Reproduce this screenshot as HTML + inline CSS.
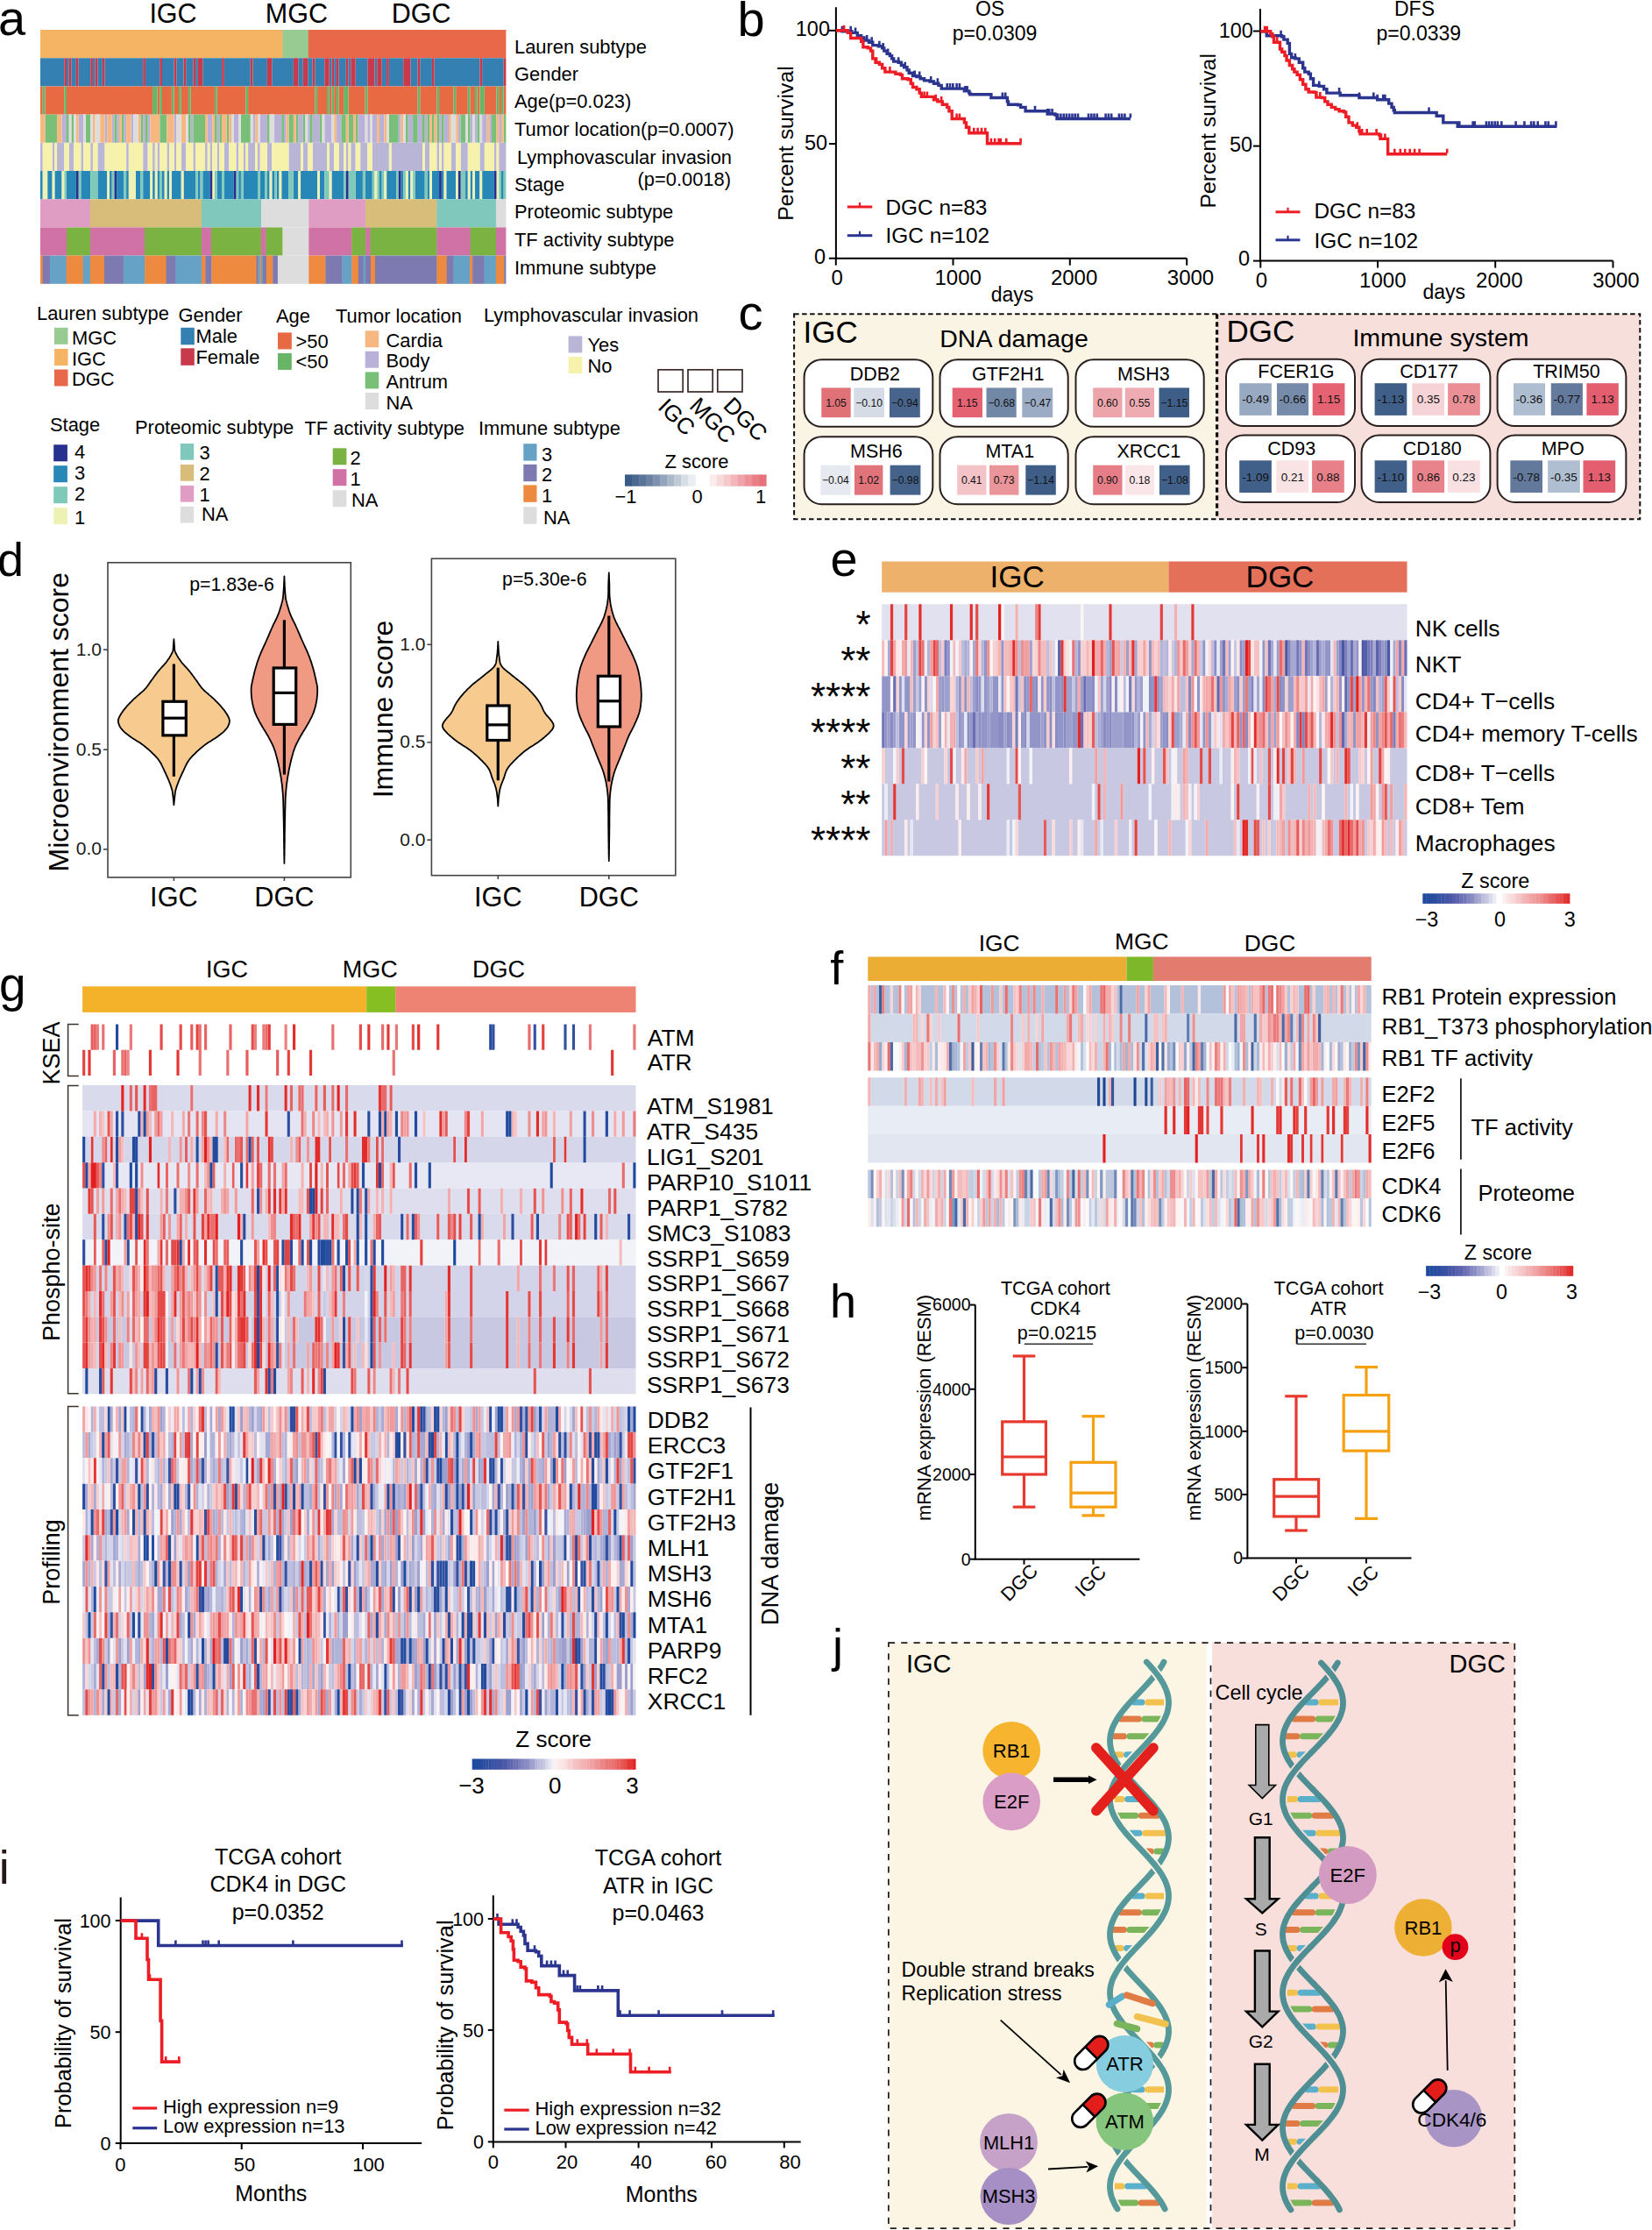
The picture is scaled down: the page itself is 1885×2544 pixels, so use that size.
<!DOCTYPE html>
<html><head><meta charset="utf-8"><title>Figure</title>
<style>
html,body{margin:0;padding:0;background:#fff;}
svg{display:block;}
text{font-family:"Liberation Sans", Arial, Helvetica, sans-serif;}
</style></head>
<body>
<svg xmlns="http://www.w3.org/2000/svg" width="1885" height="2544" viewBox="0 0 1885 2544">
<rect width="1885" height="2544" fill="#fff"/>
<text x="-2" y="39.5" font-size="56">a</text>
<text x="197.5" y="25.8" font-size="30.5" text-anchor="middle">IGC</text>
<text x="338.4" y="25.8" font-size="30.5" text-anchor="middle">MGC</text>
<text x="480.6" y="25.8" font-size="30.5" text-anchor="middle">DGC</text>
<rect x="46" y="34" width="276.9" height="32.2" fill="#f4b463"/>
<rect x="322.5" y="34" width="29.7" height="32.2" fill="#98cb91"/>
<rect x="351.8" y="34" width="225.6" height="32.2" fill="#e9684a"/>
<g transform="translate(46 66.2) scale(2.7251 32.2000)">
<path fill="#2787b6" d="M0 4h1v1h-1zM3 4h2v1h-2zM6 4h3v1h-3zM11 4h4v1h-4zM17 4h4v1h-4zM24 4h4v1h-4zM29 4h1v1h-1zM32 4h3v1h-3zM36 4h1v1h-1zM40 4h2v1h-2zM43 4h3v1h-3zM47 4h1v1h-1zM49 4h1v1h-1zM51 4h1v1h-1zM53 4h1v1h-1zM55 4h4v1h-4zM60 4h5v1h-5zM66 4h1v1h-1zM68 4h3v1h-3zM74 4h2v1h-2zM77 4h4v1h-4zM83 4h1v1h-1zM85 4h6v1h-6zM92 4h2v1h-2zM95 4h1v1h-1zM97 4h1v1h-1zM99 4h1v1h-1zM101 4h3v1h-3zM106 4h2v1h-2zM109 4h7v1h-7zM117 4h2v1h-2zM122 4h5v1h-5zM132 4h3v1h-3zM136 4h3v1h-3zM142 4h1v1h-1zM145 4h4v1h-4zM151 4h1v1h-1zM154 4h1v1h-1zM157 4h4v1h-4zM162 4h1v1h-1zM164 4h3v1h-3zM168 4h1v1h-1zM170 4h4v1h-4zM178 4h1v1h-1zM180 4h1v1h-1zM182 4h2v1h-2zM185 4h5v1h-5zM193 4h1v1h-1z"/>
<path fill="#b8b5d7" d="M0 3h1v1h-1zM5 3h1v1h-1zM7 3h3v1h-3zM12 3h2v1h-2zM17 3h1v1h-1zM21 3h1v1h-1zM24 3h3v1h-3zM36 3h1v1h-1zM43 3h2v1h-2zM47 3h1v1h-1zM49 3h1v1h-1zM53 3h1v1h-1zM56 3h1v1h-1zM59 3h2v1h-2zM64 3h1v1h-1zM69 3h1v1h-1zM71 3h1v1h-1zM74 3h1v1h-1zM77 3h2v1h-2zM82 3h1v1h-1zM85 3h1v1h-1zM87 3h3v1h-3zM91 3h1v1h-1zM95 3h2v1h-2zM104 3h5v1h-5zM110 3h2v1h-2zM114 3h6v1h-6zM121 3h2v1h-2zM125 3h2v1h-2zM128 3h1v1h-1zM130 3h2v1h-2zM134 3h3v1h-3zM139 3h7v1h-7zM147 3h13v1h-13zM161 3h2v1h-2zM166 3h1v1h-1zM168 3h1v1h-1zM172 3h2v1h-2zM176 3h3v1h-3zM184 3h2v1h-2zM190 3h1v1h-1zM192 3h3v1h-3z"/>
<path fill="#f6f2ac" d="M1 3h4v1h-4zM6 3h1v1h-1zM10 3h2v1h-2zM14 3h3v1h-3zM18 3h3v1h-3zM22 3h2v1h-2zM27 3h9v1h-9zM37 3h6v1h-6zM45 3h2v1h-2zM48 3h1v1h-1zM50 3h3v1h-3zM54 3h2v1h-2zM57 3h2v1h-2zM61 3h3v1h-3zM65 3h4v1h-4zM70 3h1v1h-1zM72 3h2v1h-2zM75 3h2v1h-2zM79 3h3v1h-3zM83 3h2v1h-2zM86 3h1v1h-1zM90 3h1v1h-1zM92 3h3v1h-3zM97 3h7v1h-7zM109 3h1v1h-1zM112 3h2v1h-2zM120 3h1v1h-1zM123 3h2v1h-2zM127 3h1v1h-1zM129 3h1v1h-1zM132 3h2v1h-2zM137 3h2v1h-2zM146 3h1v1h-1zM160 3h1v1h-1zM163 3h3v1h-3zM167 3h1v1h-1zM169 3h3v1h-3zM174 3h2v1h-2zM179 3h5v1h-5zM186 3h4v1h-4zM191 3h1v1h-1z"/>
<path fill="#b9b1d7" d="M9 2h2v1h-2zM16 2h2v1h-2zM27 2h1v1h-1zM30 2h1v1h-1zM32 2h1v1h-1zM35 2h1v1h-1zM38 2h1v1h-1zM43 2h1v1h-1zM45 2h1v1h-1zM56 2h1v1h-1zM63 2h1v1h-1zM70 2h2v1h-2zM74 2h1v1h-1zM81 2h2v1h-2zM89 2h1v1h-1zM92 2h3v1h-3zM98 2h3v1h-3zM102 2h1v1h-1zM108 2h2v1h-2zM112 2h1v1h-1zM114 2h3v1h-3zM119 2h3v1h-3zM124 2h2v1h-2zM133 2h3v1h-3zM137 2h1v1h-1zM139 2h2v1h-2zM142 2h2v1h-2zM150 2h1v1h-1zM154 2h2v1h-2zM158 2h2v1h-2zM161 2h1v1h-1zM167 2h1v1h-1zM169 2h2v1h-2zM175 2h1v1h-1zM180 2h1v1h-1zM182 2h1v1h-1zM185 2h2v1h-2zM188 2h1v1h-1zM192 2h1v1h-1z"/>
<path fill="#78bf78" d="M2 2h5v1h-5zM11 2h1v1h-1zM13 2h1v1h-1zM19 2h2v1h-2zM31 2h1v1h-1zM34 2h1v1h-1zM42 2h1v1h-1zM44 2h1v1h-1zM50 2h3v1h-3zM62 2h1v1h-1zM64 2h5v1h-5zM73 2h1v1h-1zM75 2h1v1h-1zM78 2h1v1h-1zM84 2h4v1h-4zM95 2h1v1h-1zM101 2h1v1h-1zM104 2h2v1h-2zM107 2h1v1h-1zM110 2h1v1h-1zM113 2h1v1h-1zM117 2h1v1h-1zM126 2h2v1h-2zM129 2h2v1h-2zM132 2h1v1h-1zM146 2h4v1h-4zM153 2h1v1h-1zM156 2h2v1h-2zM160 2h1v1h-1zM162 2h1v1h-1zM164 2h1v1h-1zM166 2h1v1h-1zM168 2h1v1h-1zM176 2h2v1h-2zM179 2h1v1h-1zM183 2h1v1h-1zM189 2h2v1h-2zM194 2h1v1h-1z"/>
<path fill="#f6b880" d="M0 2h2v1h-2zM7 2h2v1h-2zM15 2h1v1h-1zM22 2h1v1h-1zM25 2h2v1h-2zM28 2h2v1h-2zM33 2h1v1h-1zM36 2h2v1h-2zM41 2h1v1h-1zM46 2h4v1h-4zM53 2h3v1h-3zM59 2h2v1h-2zM69 2h1v1h-1zM72 2h1v1h-1zM76 2h2v1h-2zM79 2h1v1h-1zM90 2h1v1h-1zM103 2h1v1h-1zM106 2h1v1h-1zM123 2h1v1h-1zM128 2h1v1h-1zM131 2h1v1h-1zM141 2h1v1h-1zM144 2h1v1h-1zM151 2h1v1h-1zM163 2h1v1h-1zM165 2h1v1h-1zM171 2h1v1h-1zM174 2h1v1h-1zM187 2h1v1h-1zM191 2h1v1h-1zM193 2h1v1h-1z"/>
<path fill="#3480b3" d="M0 0h10v1h-10zM11 0h1v1h-1zM13 0h2v1h-2zM16 0h5v1h-5zM22 0h1v1h-1zM24 0h2v1h-2zM27 0h16v1h-16zM44 0h6v1h-6zM51 0h5v1h-5zM57 0h3v1h-3zM61 0h3v1h-3zM65 0h1v1h-1zM68 0h8v1h-8zM77 0h11v1h-11zM89 0h6v1h-6zM97 0h9v1h-9zM108 0h2v1h-2zM112 0h2v1h-2zM115 0h4v1h-4zM121 0h1v1h-1zM123 0h1v1h-1zM125 0h3v1h-3zM129 0h1v1h-1zM132 0h5v1h-5zM140 0h1v1h-1zM143 0h2v1h-2zM146 0h6v1h-6zM155 0h3v1h-3zM159 0h5v1h-5zM165 0h19v1h-19zM185 0h9v1h-9z"/>
<path fill="#c8394c" d="M10 0h1v1h-1zM12 0h1v1h-1zM15 0h1v1h-1zM21 0h1v1h-1zM23 0h1v1h-1zM26 0h1v1h-1zM43 0h1v1h-1zM50 0h1v1h-1zM56 0h1v1h-1zM60 0h1v1h-1zM64 0h1v1h-1zM66 0h2v1h-2zM76 0h1v1h-1zM88 0h1v1h-1zM95 0h2v1h-2zM106 0h2v1h-2zM110 0h2v1h-2zM114 0h1v1h-1zM119 0h2v1h-2zM122 0h1v1h-1zM124 0h1v1h-1zM128 0h1v1h-1zM130 0h2v1h-2zM137 0h3v1h-3zM141 0h2v1h-2zM145 0h1v1h-1zM152 0h3v1h-3zM158 0h1v1h-1zM164 0h1v1h-1zM184 0h1v1h-1zM194 0h1v1h-1z"/>
<path fill="#7fc9b9" d="M10 4h1v1h-1zM16 4h1v1h-1zM21 4h3v1h-3zM30 4h1v1h-1zM35 4h1v1h-1zM42 4h1v1h-1zM50 4h1v1h-1zM65 4h1v1h-1zM67 4h1v1h-1zM73 4h1v1h-1zM76 4h1v1h-1zM82 4h1v1h-1zM84 4h1v1h-1zM91 4h1v1h-1zM94 4h1v1h-1zM98 4h1v1h-1zM104 4h2v1h-2zM119 4h2v1h-2zM127 4h1v1h-1zM129 4h3v1h-3zM135 4h1v1h-1zM139 4h1v1h-1zM141 4h1v1h-1zM143 4h1v1h-1zM149 4h1v1h-1zM152 4h1v1h-1zM156 4h1v1h-1zM161 4h1v1h-1zM176 4h2v1h-2zM192 4h1v1h-1zM194 4h1v1h-1z"/>
<path fill="#edf2b4" d="M1 4h2v1h-2zM5 4h1v1h-1zM9 4h1v1h-1zM28 4h1v1h-1zM37 4h3v1h-3zM46 4h1v1h-1zM48 4h1v1h-1zM52 4h1v1h-1zM54 4h1v1h-1zM59 4h1v1h-1zM72 4h1v1h-1zM96 4h1v1h-1zM100 4h1v1h-1zM108 4h1v1h-1zM116 4h1v1h-1zM121 4h1v1h-1zM140 4h1v1h-1zM144 4h1v1h-1zM153 4h1v1h-1zM155 4h1v1h-1zM163 4h1v1h-1zM169 4h1v1h-1zM174 4h1v1h-1zM179 4h1v1h-1zM181 4h1v1h-1zM184 4h1v1h-1zM191 4h1v1h-1z"/>
<path fill="#e76a43" d="M0 1h1v1h-1zM2 1h8v1h-8zM11 1h36v1h-36zM49 1h1v1h-1zM51 1h4v1h-4zM56 1h2v1h-2zM59 1h3v1h-3zM63 1h10v1h-10zM74 1h12v1h-12zM87 1h28v1h-28zM116 1h4v1h-4zM121 1h1v1h-1zM123 1h1v1h-1zM125 1h2v1h-2zM129 1h7v1h-7zM137 1h21v1h-21zM159 1h7v1h-7zM167 1h6v1h-6zM174 1h5v1h-5zM180 1h2v1h-2zM183 1h1v1h-1zM186 1h5v1h-5zM192 1h1v1h-1zM194 1h1v1h-1z"/>
<path fill="#dddddd" d="M12 2h1v1h-1zM14 2h1v1h-1zM18 2h1v1h-1zM21 2h1v1h-1zM23 2h2v1h-2zM39 2h2v1h-2zM57 2h2v1h-2zM61 2h1v1h-1zM80 2h1v1h-1zM83 2h1v1h-1zM88 2h1v1h-1zM91 2h1v1h-1zM96 2h2v1h-2zM111 2h1v1h-1zM118 2h1v1h-1zM122 2h1v1h-1zM136 2h1v1h-1zM138 2h1v1h-1zM145 2h1v1h-1zM152 2h1v1h-1zM172 2h2v1h-2zM178 2h1v1h-1zM181 2h1v1h-1zM184 2h1v1h-1z"/>
<path fill="#69b568" d="M1 1h1v1h-1zM10 1h1v1h-1zM47 1h2v1h-2zM50 1h1v1h-1zM55 1h1v1h-1zM58 1h1v1h-1zM62 1h1v1h-1zM73 1h1v1h-1zM86 1h1v1h-1zM115 1h1v1h-1zM120 1h1v1h-1zM122 1h1v1h-1zM124 1h1v1h-1zM127 1h2v1h-2zM136 1h1v1h-1zM158 1h1v1h-1zM166 1h1v1h-1zM173 1h1v1h-1zM179 1h1v1h-1zM182 1h1v1h-1zM184 1h2v1h-2zM191 1h1v1h-1zM193 1h1v1h-1z"/>
<path fill="#26308e" d="M15 4h1v1h-1zM31 4h1v1h-1zM71 4h1v1h-1zM81 4h1v1h-1zM128 4h1v1h-1zM150 4h1v1h-1zM167 4h1v1h-1zM175 4h1v1h-1zM190 4h1v1h-1z"/>
</g>
<rect x="46" y="227.2" width="57.2" height="32.2" fill="#e09dc3"/>
<rect x="102.8" y="227.2" width="127.6" height="32.2" fill="#d8bc79"/>
<rect x="230" y="227.2" width="68.4" height="32.2" fill="#7fc8bb"/>
<rect x="298" y="227.2" width="54.7" height="32.2" fill="#dddddd"/>
<rect x="352.3" y="227.2" width="65.2" height="32.2" fill="#e09dc3"/>
<rect x="417.1" y="227.2" width="81.7" height="32.2" fill="#d8bc79"/>
<rect x="498.4" y="227.2" width="67.9" height="32.2" fill="#7fc8bb"/>
<rect x="565.9" y="227.2" width="11.5" height="32.2" fill="#dddddd"/>
<rect x="46" y="259.4" width="30.4" height="32.2" fill="#d072a5"/>
<rect x="76" y="259.4" width="27.4" height="32.2" fill="#7bb342"/>
<rect x="103" y="259.4" width="62.4" height="32.2" fill="#d072a5"/>
<rect x="165" y="259.4" width="65.4" height="32.2" fill="#7bb342"/>
<rect x="230" y="259.4" width="11.4" height="32.2" fill="#d072a5"/>
<rect x="241" y="259.4" width="57.4" height="32.2" fill="#7bb342"/>
<rect x="298" y="259.4" width="5.9" height="32.2" fill="#d072a5"/>
<rect x="303.5" y="259.4" width="19.3" height="32.2" fill="#7bb342"/>
<rect x="322.4" y="259.4" width="30.3" height="32.2" fill="#dddddd"/>
<rect x="352.3" y="259.4" width="49.4" height="32.2" fill="#d072a5"/>
<rect x="401.3" y="259.4" width="16.2" height="32.2" fill="#7bb342"/>
<rect x="417.1" y="259.4" width="5.8" height="32.2" fill="#d072a5"/>
<rect x="422.5" y="259.4" width="76.3" height="32.2" fill="#7bb342"/>
<rect x="498.4" y="259.4" width="38.7" height="32.2" fill="#d072a5"/>
<rect x="536.7" y="259.4" width="29.6" height="32.2" fill="#7bb342"/>
<rect x="565.9" y="259.4" width="11.5" height="32.2" fill="#d072a5"/>
<rect x="46" y="291.6" width="3.1" height="32.2" fill="#ee8a3f"/>
<rect x="48.7" y="291.6" width="8.6" height="32.2" fill="#7d79b1"/>
<rect x="56.9" y="291.6" width="19.2" height="32.2" fill="#66a1c6"/>
<rect x="75.7" y="291.6" width="19.4" height="32.2" fill="#ee8a3f"/>
<rect x="94.7" y="291.6" width="8.6" height="32.2" fill="#66a1c6"/>
<rect x="102.9" y="291.6" width="16.5" height="32.2" fill="#ee8a3f"/>
<rect x="119" y="291.6" width="22.2" height="32.2" fill="#7d79b1"/>
<rect x="140.8" y="291.6" width="24.8" height="32.2" fill="#66a1c6"/>
<rect x="165.2" y="291.6" width="24.8" height="32.2" fill="#ee8a3f"/>
<rect x="189.6" y="291.6" width="11.3" height="32.2" fill="#7d79b1"/>
<rect x="200.5" y="291.6" width="29.9" height="32.2" fill="#66a1c6"/>
<rect x="230" y="291.6" width="4.8" height="32.2" fill="#ee8a3f"/>
<rect x="234.4" y="291.6" width="7.3" height="32.2" fill="#7d79b1"/>
<rect x="241.3" y="291.6" width="51.7" height="32.2" fill="#ee8a3f"/>
<rect x="292.6" y="291.6" width="2.3" height="32.2" fill="#7d79b1"/>
<rect x="294.5" y="291.6" width="2.4" height="32.2" fill="#66a1c6"/>
<rect x="296.5" y="291.6" width="1.9" height="32.2" fill="#ee8a3f"/>
<rect x="298" y="291.6" width="2.4" height="32.2" fill="#66a1c6"/>
<rect x="300" y="291.6" width="4.3" height="32.2" fill="#7d79b1"/>
<rect x="303.9" y="291.6" width="7.8" height="32.2" fill="#ee8a3f"/>
<rect x="311.3" y="291.6" width="6" height="32.2" fill="#7d79b1"/>
<rect x="316.9" y="291.6" width="35.8" height="32.2" fill="#dddddd"/>
<rect x="352.3" y="291.6" width="19.5" height="32.2" fill="#ee8a3f"/>
<rect x="371.4" y="291.6" width="19.4" height="32.2" fill="#7d79b1"/>
<rect x="390.4" y="291.6" width="11.3" height="32.2" fill="#66a1c6"/>
<rect x="401.3" y="291.6" width="8" height="32.2" fill="#ee8a3f"/>
<rect x="408.9" y="291.6" width="6.1" height="32.2" fill="#7d79b1"/>
<rect x="414.6" y="291.6" width="2.9" height="32.2" fill="#66a1c6"/>
<rect x="417.1" y="291.6" width="6.2" height="32.2" fill="#7d79b1"/>
<rect x="422.9" y="291.6" width="5.5" height="32.2" fill="#ee8a3f"/>
<rect x="428" y="291.6" width="70.8" height="32.2" fill="#7d79b1"/>
<rect x="498.4" y="291.6" width="11.7" height="32.2" fill="#ee8a3f"/>
<rect x="509.7" y="291.6" width="8.2" height="32.2" fill="#7d79b1"/>
<rect x="517.5" y="291.6" width="19" height="32.2" fill="#66a1c6"/>
<rect x="536.1" y="291.6" width="3.5" height="32.2" fill="#ee8a3f"/>
<rect x="539.2" y="291.6" width="13.7" height="32.2" fill="#7d79b1"/>
<rect x="552.5" y="291.6" width="13.8" height="32.2" fill="#66a1c6"/>
<rect x="565.9" y="291.6" width="9.7" height="32.2" fill="#ee8a3f"/>
<rect x="575.2" y="291.6" width="2.2" height="32.2" fill="#7d79b1"/>
<text x="587" y="60.7" font-size="21.9">Lauren subtype</text>
<text x="587" y="91.6" font-size="21.9">Gender</text>
<text x="587" y="122.5" font-size="21.9">Age(p=0.023)</text>
<text x="587" y="154.5" font-size="21.9">Tumor location(p=0.0007)</text>
<text x="587" y="218.4" font-size="21.9">Stage</text>
<text x="587" y="248.8" font-size="21.9">Proteomic subtype</text>
<text x="587" y="280.8" font-size="21.9">TF activity subtype</text>
<text x="587" y="312.7" font-size="21.9">Immune subtype</text>
<text x="590" y="186.5" font-size="21.9">Lymphovascular invasion</text>
<text x="834" y="211.5" font-size="21.9" text-anchor="end">(p=0.0018)</text>
<text x="42" y="365.3" font-size="21.9">Lauren subtype</text>
<rect x="62" y="373.8" width="15.5" height="19" fill="#98cb91"/>
<text x="82" y="392.5" font-size="21.9">MGC</text>
<rect x="62" y="398" width="15.5" height="19" fill="#f4b463"/>
<text x="82" y="416.7" font-size="21.9">IGC</text>
<rect x="62" y="421.5" width="15.5" height="19" fill="#e9684a"/>
<text x="82" y="440.2" font-size="21.9">DGC</text>
<text x="203.5" y="366.6" font-size="21.9">Gender</text>
<rect x="206.3" y="373.8" width="15.5" height="19.5" fill="#3480b3"/>
<text x="223.5" y="391.3" font-size="21.9">Male</text>
<rect x="206.3" y="397.3" width="15.5" height="19.5" fill="#c8394c"/>
<text x="223.5" y="414.8" font-size="21.9">Female</text>
<text x="315" y="368" font-size="21.9">Age</text>
<rect x="317" y="379.4" width="15.8" height="19" fill="#e76a43"/>
<text x="337.5" y="396.7" font-size="21.9">&gt;50</text>
<rect x="317" y="402.9" width="15.8" height="19" fill="#69b568"/>
<text x="337.5" y="420.2" font-size="21.9">&lt;50</text>
<text x="383" y="367.7" font-size="21.9">Tumor location</text>
<rect x="416.7" y="377.3" width="15.5" height="19" fill="#f6b880"/>
<text x="440.5" y="395.8" font-size="21.9">Cardia</text>
<rect x="416.7" y="400.7" width="15.5" height="19" fill="#b9b1d7"/>
<text x="440.5" y="419.2" font-size="21.9">Body</text>
<rect x="416.7" y="424.4" width="15.5" height="19" fill="#78bf78"/>
<text x="440.5" y="442.9" font-size="21.9">Antrum</text>
<rect x="416.7" y="448" width="15.5" height="19" fill="#dddddd"/>
<text x="440.5" y="466.5" font-size="21.9">NA</text>
<text x="552" y="366.8" font-size="21.9">Lymphovascular invasion</text>
<rect x="648.6" y="383.4" width="15.7" height="19" fill="#b8b5d7"/>
<text x="670.5" y="401.4" font-size="21.9">Yes</text>
<rect x="648.6" y="407" width="15.7" height="19" fill="#f6f2ac"/>
<text x="670.5" y="425" font-size="21.9">No</text>
<text x="57" y="491.8" font-size="21.9">Stage</text>
<rect x="61.2" y="507.3" width="15.7" height="19" fill="#26308e"/>
<text x="85" y="523.3" font-size="21.9">4</text>
<rect x="61.2" y="531.2" width="15.7" height="19" fill="#2787b6"/>
<text x="85" y="547.2" font-size="21.9">3</text>
<rect x="61.2" y="555.2" width="15.7" height="19" fill="#7fc9b9"/>
<text x="85" y="571.2" font-size="21.9">2</text>
<rect x="61.2" y="579.2" width="15.7" height="19" fill="#edf2b4"/>
<text x="85" y="598.2" font-size="21.9">1</text>
<text x="154" y="494.5" font-size="21.9">Proteomic subtype</text>
<rect x="205.8" y="506" width="15.4" height="18.7" fill="#7fc8bb"/>
<text x="227.5" y="523.8" font-size="21.9">3</text>
<rect x="205.8" y="530" width="15.4" height="18.7" fill="#d8bc79"/>
<text x="227.5" y="547.8" font-size="21.9">2</text>
<rect x="205.8" y="553.9" width="15.4" height="18.7" fill="#e09dc3"/>
<text x="227.5" y="571.7" font-size="21.9">1</text>
<rect x="205.8" y="577.8" width="15.4" height="18.7" fill="#dddddd"/>
<text x="230" y="594.4" font-size="21.9">NA</text>
<text x="347.5" y="495.8" font-size="21.9">TF activity subtype</text>
<rect x="379.7" y="511.3" width="15.7" height="19" fill="#7bb342"/>
<text x="399.5" y="530.3" font-size="21.9">2</text>
<rect x="379.7" y="535.2" width="15.7" height="19" fill="#d072a5"/>
<text x="399.5" y="554.2" font-size="21.9">1</text>
<rect x="379.7" y="559.2" width="15.7" height="19" fill="#dddddd"/>
<text x="401" y="578.2" font-size="21.9">NA</text>
<text x="546" y="495.8" font-size="21.9">Immune subtype</text>
<rect x="597.3" y="506.2" width="15.2" height="19.4" fill="#66a1c6"/>
<text x="618" y="525.7" font-size="21.9">3</text>
<rect x="597.3" y="529.8" width="15.2" height="19.4" fill="#7d79b1"/>
<text x="618" y="549.3" font-size="21.9">2</text>
<rect x="597.3" y="553.4" width="15.2" height="19.4" fill="#ee8a3f"/>
<text x="618" y="572.9" font-size="21.9">1</text>
<rect x="597.3" y="578.3" width="15.2" height="19.4" fill="#dddddd"/>
<text x="620" y="597.8" font-size="21.9">NA</text>
<rect x="751" y="421.8" width="28.2" height="25.2" fill="none" stroke="#3a2a28" stroke-width="1.7"/>
<rect x="785" y="421.8" width="28.2" height="25.2" fill="none" stroke="#3a2a28" stroke-width="1.7"/>
<rect x="818.8" y="421.8" width="28.2" height="25.2" fill="none" stroke="#3a2a28" stroke-width="1.7"/>
<text transform="translate(749.5 465.5) rotate(45)" font-size="26">IGC</text>
<text transform="translate(785.5 464.5) rotate(45)" font-size="26">MGC</text>
<text transform="translate(824 464) rotate(45)" font-size="26">DGC</text>
<text x="795" y="533.6" font-size="21.9" text-anchor="middle">Z score</text>
<rect x="713" y="541.4" width="8.4" height="13.3" fill="#3b5b87"/>
<rect x="721" y="541.4" width="8.4" height="13.3" fill="#4a6890"/>
<rect x="729.1" y="541.4" width="8.4" height="13.3" fill="#5a7498"/>
<rect x="737.1" y="541.4" width="8.4" height="13.3" fill="#6b82a2"/>
<rect x="745.2" y="541.4" width="8.4" height="13.3" fill="#7e92ae"/>
<rect x="753.2" y="541.4" width="8.4" height="13.3" fill="#93a4bc"/>
<rect x="761.2" y="541.4" width="8.4" height="13.3" fill="#a9b7c8"/>
<rect x="769.3" y="541.4" width="8.4" height="13.3" fill="#c0cad6"/>
<rect x="777.3" y="541.4" width="8.4" height="13.3" fill="#d7dee5"/>
<rect x="785.4" y="541.4" width="8.4" height="13.3" fill="#eaeef2"/>
<rect x="809.7" y="541.4" width="8.5" height="13.3" fill="#fbebec"/>
<rect x="817.8" y="541.4" width="8.5" height="13.3" fill="#f8dadc"/>
<rect x="825.8" y="541.4" width="8.5" height="13.3" fill="#f5c8cb"/>
<rect x="833.9" y="541.4" width="8.5" height="13.3" fill="#f2b6ba"/>
<rect x="842" y="541.4" width="8.5" height="13.3" fill="#efa3a8"/>
<rect x="850" y="541.4" width="8.5" height="13.3" fill="#ec9197"/>
<rect x="858.1" y="541.4" width="8.5" height="13.3" fill="#e97e86"/>
<rect x="866.1" y="541.4" width="8.5" height="13.3" fill="#e8707a"/>
<text x="714" y="573.5" font-size="21.9" text-anchor="middle">&#8722;1</text>
<text x="795.5" y="573.5" font-size="21.9" text-anchor="middle">0</text>
<text x="868" y="573.5" font-size="21.9" text-anchor="middle">1</text>
<text x="841.5" y="40.5" font-size="56">b</text>
<path d="M953.9 8.2V294.7H1354.2" fill="none" stroke="#000" stroke-width="2"/>
<line x1="945.9" y1="34.8" x2="953.9" y2="34.8" stroke="#000" stroke-width="2"/>
<line x1="945.9" y1="164.1" x2="953.9" y2="164.1" stroke="#000" stroke-width="2"/>
<line x1="945.9" y1="294.7" x2="953.9" y2="294.7" stroke="#000" stroke-width="2"/>
<line x1="953.8" y1="294.7" x2="953.8" y2="302.7" stroke="#000" stroke-width="2"/>
<line x1="1087.5" y1="294.7" x2="1087.5" y2="302.7" stroke="#000" stroke-width="2"/>
<line x1="1220.8" y1="294.7" x2="1220.8" y2="302.7" stroke="#000" stroke-width="2"/>
<line x1="1354.2" y1="294.7" x2="1354.2" y2="302.7" stroke="#000" stroke-width="2"/>
<text x="947" y="40.7" font-size="23.5" text-anchor="end">100</text>
<text x="944.1" y="170.9" font-size="23.5" text-anchor="end">50</text>
<text x="942.1" y="300.7" font-size="23.5" text-anchor="end">0</text>
<text x="955.3" y="324.7" font-size="24" text-anchor="middle">0</text>
<text x="1093.2" y="324.7" font-size="24" text-anchor="middle">1000</text>
<text x="1225.6" y="324.7" font-size="24" text-anchor="middle">2000</text>
<text x="1358.5" y="324.7" font-size="24" text-anchor="middle">3000</text>
<text x="1155" y="343.6" font-size="23" text-anchor="middle">days</text>
<text transform="translate(905.4 163.5) rotate(-90)" font-size="24.8" text-anchor="middle">Percent survival</text>
<text x="1129.5" y="18" font-size="23" text-anchor="middle">OS</text>
<text x="1135" y="45.8" font-size="23" text-anchor="middle">p=0.0309</text>
<path d="M953.9 34.8H958.7H960.9V35.7H971.8V37.4H978.3V40.7H982.7V42.9H986V46.1H991.4V48.3H995.8V51.6H1002.3V52.7H1006.7V54.9H1008.8V58.1H1012.1V61.4H1015.4V63.6H1017.6V66.9H1019.7V70.1H1025.2V71.2H1028.4V74.5H1031.7V76.7H1035V79.9H1037.2V83.2H1041.5V86.5H1045.9V87.6H1050.2V89.7H1054.6V91.9H1061.1V93H1065.5V95.2H1070.9V97.4H1074.2V101.1H1096H1100.4V103.9H1105.8V106.1H1106.9V107.8H1128.7H1130.9V111.5H1146.1H1149.4V115.9H1150.5V119.2H1161.4V119.8H1164.6V122.4H1170.1V126.8H1191.9H1195.2V130H1203.9V131.1H1206V135.5H1289.9" fill="none" stroke="#2b3590" stroke-width="3.4" stroke-linejoin="miter" stroke-linecap="butt"/>
<path d="M960.9 34.7v-5M970.7 34.7v-5M976.1 36.4v-5M989.2 45.1v-5M994.7 47.3v-5M1003.4 51.7v-5M1007.7 53.9v-5M1013.2 60.4v-5M1025.2 70.2v-5M1032.8 75.7v-5M1043.7 85.5v-5M1049.2 86.6v-5M1062.2 92v-5M1069.9 94.2v-5M1080.7 100.1v-5M1084 100.1v-5M1087.3 100.1v-5M1091.6 100.1v-5M1094.9 100.1v-5M1101.4 102.9v-5M1103.6 102.9v-5M1143.9 110.5v-5M1147.2 110.5v-5M1181 125.8v-5M1195.2 129v-5M1197.3 129v-5M1200.6 129v-5M1207.1 134.5v-5M1210.4 134.5v-5M1213.7 134.5v-5M1216.9 134.5v-5M1220.2 134.5v-5M1223.5 134.5v-5M1226.7 134.5v-5M1230 134.5v-5M1242 134.5v-5M1245.3 134.5v-5M1248.5 134.5v-5M1251.8 134.5v-5M1261.6 134.5v-5M1264.9 134.5v-5M1268.2 134.5v-5M1276.9 134.5v-5M1280.1 134.5v-5M1283.4 134.5v-5M1289.9 134.5v-5" stroke="#2b3590" stroke-width="2.6" fill="none"/>
<path d="M953.9 34.8H966.3H967.4V37.4H970.7V43.5H981.6H982.7V47.2H984.9V53.8H990.3V54.9H993.6V58.1H995.8V66.9H999V71.2H1003.4V73.4H1006.7V77.7H1009.9V82.1H1019.7H1021.9V84.3H1027.4V85.4H1029.5V89.7H1036.1V90.8H1039.3V95.2H1041.5V99.5H1045.9V101.7H1049.2V106.1H1051.3V110.4H1063.3H1065.5V113.7H1069.9V115.9H1075.3V119.2H1080.7V122.4H1082.9V126.8H1086.2V135.5H1099.3H1100.4V139.9H1102.5V145.3H1105.8V151.8H1125.4H1126.5V163.8H1165.7" fill="none" stroke="#ee1c25" stroke-width="3.4" stroke-linejoin="miter" stroke-linecap="butt"/>
<path d="M963.1 33.8v-5M1000.1 70.2v-5M1015.4 81.1v-5M1054.6 109.4v-5M1057.9 109.4v-5M1067.7 112.7v-5M1074.2 114.9v-5M1091.6 134.5v-5M1094.9 134.5v-5M1111.3 150.8v-5M1115.6 150.8v-5M1120 150.8v-5M1124.3 150.8v-5M1130.9 162.8v-5M1135.2 162.8v-5M1139.6 162.8v-5M1141.8 162.8v-5M1148.3 162.8v-5M1164.6 162.8v-5" stroke="#ee1c25" stroke-width="2.6" fill="none"/>
<line x1="966.8" y1="236" x2="995.3" y2="236" stroke="#ee1c25" stroke-width="3"/>
<line x1="981" y1="236" x2="981" y2="231" stroke="#ee1c25" stroke-width="2.2"/>
<line x1="966.8" y1="268.7" x2="995.3" y2="268.7" stroke="#2b3590" stroke-width="3"/>
<line x1="981" y1="268.7" x2="981" y2="263.7" stroke="#2b3590" stroke-width="2.2"/>
<text x="1010.5" y="244.5" font-size="24.4">DGC n=83</text>
<text x="1010.5" y="277.2" font-size="24.4">IGC n=102</text>
<path d="M1438 9.9V297.6H1840.5" fill="none" stroke="#000" stroke-width="2"/>
<line x1="1430" y1="35.5" x2="1438" y2="35.5" stroke="#000" stroke-width="2"/>
<line x1="1430" y1="166.6" x2="1438" y2="166.6" stroke="#000" stroke-width="2"/>
<line x1="1430" y1="297.6" x2="1438" y2="297.6" stroke="#000" stroke-width="2"/>
<line x1="1438.3" y1="297.6" x2="1438.3" y2="305.6" stroke="#000" stroke-width="2"/>
<line x1="1572" y1="297.6" x2="1572" y2="305.6" stroke="#000" stroke-width="2"/>
<line x1="1706.2" y1="297.6" x2="1706.2" y2="305.6" stroke="#000" stroke-width="2"/>
<line x1="1840.5" y1="297.6" x2="1840.5" y2="305.6" stroke="#000" stroke-width="2"/>
<text x="1429.9" y="42.5" font-size="23.5" text-anchor="end">100</text>
<text x="1429.2" y="173.4" font-size="23.5" text-anchor="end">50</text>
<text x="1426.2" y="303.4" font-size="23.5" text-anchor="end">0</text>
<text x="1439.4" y="327.6" font-size="24" text-anchor="middle">0</text>
<text x="1577.8" y="327.6" font-size="24" text-anchor="middle">1000</text>
<text x="1710.8" y="327.6" font-size="24" text-anchor="middle">2000</text>
<text x="1844" y="327.6" font-size="24" text-anchor="middle">3000</text>
<text x="1647.8" y="341" font-size="23" text-anchor="middle">days</text>
<text transform="translate(1386.8 149.3) rotate(-90)" font-size="24.8" text-anchor="middle">Percent survival</text>
<text x="1614" y="18.1" font-size="23" text-anchor="middle">DFS</text>
<text x="1618.8" y="46.2" font-size="23" text-anchor="middle">p=0.0339</text>
<path d="M1438.3 35.7H1443.1H1445.3V40.7H1460.5H1462.7V41.8H1464.9V45.1H1469.2V49.4H1471.4V61.4H1473.6V65.8H1477.9V66.9H1482.3V71.2H1486.7V77.7H1488.8V82.1H1493.2V84.3H1495.4V89.7H1498.6V97.4H1505.2V98.4H1510.6V101.7H1513.9V106.1H1525.9H1529.2V108.7H1549.9H1550.9V111.5H1569.5H1571.6V113.7H1582.5H1584.7V118.1H1588V122.4H1590.2V125.7H1591.3V128.5H1637H1639.2V132.2H1645.7H1646.8V139.9H1662.1H1663.2V144.2H1776.5" fill="none" stroke="#2b3590" stroke-width="3.4" stroke-linejoin="miter" stroke-linecap="butt"/>
<path d="M1445.3 39.7v-5M1461.6 39.7v-5M1477.9 65.9v-5M1505.2 97.4v-5M1528.1 105.1v-5M1550.9 110.5v-5M1567.3 110.5v-5M1571.6 112.7v-5M1578.2 112.7v-5M1580.4 112.7v-5M1630.5 127.5v-5M1665.3 143.2v-5M1680.6 143.2v-5M1682.8 143.2v-5M1695.9 143.2v-5M1699.1 143.2v-5M1702.4 143.2v-5M1705.7 143.2v-5M1708.9 143.2v-5M1713.3 143.2v-5M1729.6 143.2v-5M1739.4 143.2v-5M1747.1 143.2v-5M1750.3 143.2v-5M1754.7 143.2v-5M1763.4 143.2v-5M1766.7 143.2v-5M1775.4 143.2v-5" stroke="#2b3590" stroke-width="2.6" fill="none"/>
<path d="M1438.3 35.7H1447.4H1449.6V38.5H1451.8V41.8H1453.5V48.3H1458.3H1460.5V56H1462.7V59.2H1466V63.6H1468.1V69H1471.4V74.5H1474.7V78.8H1476.9V82.1H1480.1V85.4H1483.4V90.8H1486.7V96.3H1489.9V101.7H1493.2V105H1499.7V105.4H1501.9V111.1H1508.4V111.5H1511.7V115.9H1515V119.2H1519.3V122.4H1523.7V124.6H1528.1V126.8H1533.5V127.9H1535.7V133.3H1539V139.9H1543.3V143.1H1547.7V145.3H1550.9V149.7H1552V152.9H1573.8V154H1574.9V158.4H1582.5H1583.6V175.8H1651.2" fill="none" stroke="#ee1c25" stroke-width="3.4" stroke-linejoin="miter" stroke-linecap="butt"/>
<path d="M1443.1 34.7v-5M1445.7 34.7v-5M1457.2 47.3v-5M1501.9 110.1v-5M1506.3 110.1v-5M1548.8 144.3v-5M1554.2 151.9v-5M1559.7 151.9v-5M1570.6 151.9v-5M1576 157.4v-5M1580.4 157.4v-5M1591.3 174.8v-5M1597.8 174.8v-5M1603.2 174.8v-5M1608.7 174.8v-5M1614.1 174.8v-5M1619.6 174.8v-5M1651.2 174.8v-5" stroke="#ee1c25" stroke-width="2.6" fill="none"/>
<line x1="1455.5" y1="241.8" x2="1483.5" y2="241.8" stroke="#ee1c25" stroke-width="3"/>
<line x1="1469.5" y1="241.8" x2="1469.5" y2="236.8" stroke="#ee1c25" stroke-width="2.2"/>
<line x1="1455.5" y1="273.8" x2="1483.5" y2="273.8" stroke="#2b3590" stroke-width="3"/>
<line x1="1469.5" y1="273.8" x2="1469.5" y2="268.8" stroke="#2b3590" stroke-width="2.2"/>
<text x="1499.5" y="249" font-size="24.4">DGC n=83</text>
<text x="1499.5" y="282.7" font-size="24.4">IGC n=102</text>
<text x="842.5" y="375.5" font-size="56">c</text>
<rect x="906.1" y="358.2" width="482.5" height="233.5" fill="#faf4e4"/>
<rect x="1388.6" y="358.6" width="482.7" height="233.6" fill="#f7dfdb"/>
<rect x="906.1" y="358.2" width="965.2" height="234" fill="none" stroke="#111" stroke-width="2" stroke-dasharray="5.5 3.5"/>
<line x1="1388.6" y1="358.2" x2="1388.6" y2="592.2" stroke="#111" stroke-width="3.2" stroke-dasharray="5.5 3.5"/>
<text x="916.5" y="391.1" font-size="35">IGC</text>
<text x="1157" y="396" font-size="28.5" text-anchor="middle">DNA damage</text>
<text x="1399.5" y="390.4" font-size="35">DGC</text>
<text x="1644" y="395" font-size="28.5" text-anchor="middle">Immune system</text>
<rect x="917.6" y="410.2" width="146.7" height="76.6" rx="20" ry="20" fill="#fff" stroke="#2a1f1f" stroke-width="2"/>
<text x="998.4" y="433.8" font-size="21.5" text-anchor="middle">DDB2</text>
<rect x="937.3" y="442.4" width="33.4" height="33.8" fill="#e07277"/>
<text x="954" y="463.7" font-size="12.2" text-anchor="middle" fill="#111">1.05</text>
<rect x="974.3" y="442.4" width="34.7" height="33.8" fill="#d5dce5"/>
<text x="991.6" y="463.7" font-size="12.2" text-anchor="middle" fill="#111">&#8722;0.10</text>
<rect x="1015" y="442.4" width="34.8" height="33.8" fill="#48648c"/>
<text x="1032.4" y="463.7" font-size="12.2" text-anchor="middle" fill="#111">&#8722;0.94</text>
<rect x="1072.5" y="410.2" width="146.2" height="76.6" rx="20" ry="20" fill="#fff" stroke="#2a1f1f" stroke-width="2"/>
<text x="1150.2" y="433.8" font-size="21.5" text-anchor="middle">GTF2H1</text>
<rect x="1086.7" y="442.4" width="34.3" height="33.8" fill="#e46272"/>
<text x="1103.8" y="463.7" font-size="12.2" text-anchor="middle" fill="#111">1.15</text>
<rect x="1125.5" y="442.4" width="34.2" height="33.8" fill="#7288a7"/>
<text x="1142.6" y="463.7" font-size="12.2" text-anchor="middle" fill="#111">&#8722;0.68</text>
<rect x="1166.3" y="442.4" width="34.9" height="33.8" fill="#9cacc4"/>
<text x="1183.8" y="463.7" font-size="12.2" text-anchor="middle" fill="#111">&#8722;0.47</text>
<rect x="1227.5" y="410.2" width="146.2" height="76.6" rx="20" ry="20" fill="#fff" stroke="#2a1f1f" stroke-width="2"/>
<text x="1304.8" y="433.8" font-size="21.5" text-anchor="middle">MSH3</text>
<rect x="1247.2" y="442.4" width="33.3" height="33.8" fill="#eca5aa"/>
<text x="1263.8" y="463.7" font-size="12.2" text-anchor="middle" fill="#111">0.60</text>
<rect x="1283.8" y="442.4" width="33.2" height="33.8" fill="#eeacb2"/>
<text x="1300.4" y="463.7" font-size="12.2" text-anchor="middle" fill="#111">0.55</text>
<rect x="1322.5" y="442.4" width="34.5" height="33.8" fill="#3e5e88"/>
<text x="1339.8" y="463.7" font-size="12.2" text-anchor="middle" fill="#111">&#8722;1.15</text>
<rect x="917.6" y="498.3" width="146.7" height="76.9" rx="20" ry="20" fill="#fff" stroke="#2a1f1f" stroke-width="2"/>
<text x="999.9" y="521.7" font-size="21.5" text-anchor="middle">MSH6</text>
<rect x="936.3" y="530.7" width="34.2" height="33.9" fill="#e6eaf0"/>
<text x="953.4" y="552" font-size="12.2" text-anchor="middle" fill="#111">&#8722;0.04</text>
<rect x="975" y="530.7" width="32.4" height="33.9" fill="#e1747a"/>
<text x="991.2" y="552" font-size="12.2" text-anchor="middle" fill="#111">1.02</text>
<rect x="1015.6" y="530.7" width="34.8" height="33.9" fill="#45628b"/>
<text x="1033" y="552" font-size="12.2" text-anchor="middle" fill="#111">&#8722;0.98</text>
<rect x="1072.5" y="498.3" width="146.2" height="76.9" rx="20" ry="20" fill="#fff" stroke="#2a1f1f" stroke-width="2"/>
<text x="1152.3" y="521.7" font-size="21.5" text-anchor="middle">MTA1</text>
<rect x="1092.2" y="530.7" width="33.3" height="33.9" fill="#f3c3c8"/>
<text x="1108.8" y="552" font-size="12.2" text-anchor="middle" fill="#111">0.41</text>
<rect x="1129" y="530.7" width="33.4" height="33.9" fill="#e99599"/>
<text x="1145.7" y="552" font-size="12.2" text-anchor="middle" fill="#111">0.73</text>
<rect x="1170.3" y="530.7" width="34.5" height="33.9" fill="#3e5e88"/>
<text x="1187.5" y="552" font-size="12.2" text-anchor="middle" fill="#111">&#8722;1.14</text>
<rect x="1227.5" y="498.3" width="146.2" height="76.9" rx="20" ry="20" fill="#fff" stroke="#2a1f1f" stroke-width="2"/>
<text x="1310.9" y="521.7" font-size="21.5" text-anchor="middle">XRCC1</text>
<rect x="1247.2" y="530.7" width="33.3" height="33.9" fill="#e77e87"/>
<text x="1263.8" y="552" font-size="12.2" text-anchor="middle" fill="#111">0.90</text>
<rect x="1283.8" y="530.7" width="33.2" height="33.9" fill="#fae6e8"/>
<text x="1300.4" y="552" font-size="12.2" text-anchor="middle" fill="#111">0.18</text>
<rect x="1323" y="530.7" width="34.6" height="33.9" fill="#416089"/>
<text x="1340.3" y="552" font-size="12.2" text-anchor="middle" fill="#111">&#8722;1.08</text>
<rect x="1399" y="409.7" width="147" height="76.4" rx="20" ry="20" fill="#fff" stroke="#2a1f1f" stroke-width="2"/>
<text x="1478.9" y="431.1" font-size="21.5" text-anchor="middle">FCER1G</text>
<rect x="1414.2" y="437.2" width="36.7" height="36.7" fill="#98a9c2"/>
<text x="1432.6" y="460.4" font-size="13.5" text-anchor="middle" fill="#111">-0.49</text>
<rect x="1457" y="437.2" width="36.1" height="36.7" fill="#758ba9"/>
<text x="1475" y="460.4" font-size="13.5" text-anchor="middle" fill="#111">-0.66</text>
<rect x="1497.7" y="437.2" width="36.7" height="36.7" fill="#e46272"/>
<text x="1516.1" y="460.4" font-size="13.5" text-anchor="middle" fill="#111">1.15</text>
<rect x="1553.6" y="409.7" width="146.8" height="76.4" rx="20" ry="20" fill="#fff" stroke="#2a1f1f" stroke-width="2"/>
<text x="1630.6" y="431.1" font-size="21.5" text-anchor="middle">CD177</text>
<rect x="1568.6" y="437.2" width="36.7" height="36.7" fill="#3f5e88"/>
<text x="1586.9" y="460.4" font-size="13.5" text-anchor="middle" fill="#111">-1.13</text>
<rect x="1611.4" y="437.2" width="36.7" height="36.7" fill="#f6d3d6"/>
<text x="1629.8" y="460.4" font-size="13.5" text-anchor="middle" fill="#111">0.35</text>
<rect x="1652.1" y="437.2" width="36.7" height="36.7" fill="#ea8f95"/>
<text x="1670.4" y="460.4" font-size="13.5" text-anchor="middle" fill="#111">0.78</text>
<rect x="1708.6" y="409.7" width="146.8" height="76.4" rx="20" ry="20" fill="#fff" stroke="#2a1f1f" stroke-width="2"/>
<text x="1787.4" y="431.1" font-size="21.5" text-anchor="middle">TRIM50</text>
<rect x="1727" y="437.2" width="36" height="36.7" fill="#aebdd0"/>
<text x="1745" y="460.4" font-size="13.5" text-anchor="middle" fill="#111">-0.36</text>
<rect x="1769.8" y="437.2" width="36.1" height="36.7" fill="#647a9c"/>
<text x="1787.8" y="460.4" font-size="13.5" text-anchor="middle" fill="#111">-0.77</text>
<rect x="1810.4" y="437.2" width="36.4" height="36.7" fill="#e35e6e"/>
<text x="1828.6" y="460.4" font-size="13.5" text-anchor="middle" fill="#111">1.13</text>
<rect x="1399" y="496.5" width="147" height="76.5" rx="20" ry="20" fill="#fff" stroke="#2a1f1f" stroke-width="2"/>
<text x="1473.7" y="518.8" font-size="21.5" text-anchor="middle">CD93</text>
<rect x="1414.2" y="525.3" width="36.7" height="36.7" fill="#406089"/>
<text x="1432.6" y="548.5" font-size="13.5" text-anchor="middle" fill="#111">-1.09</text>
<rect x="1456.4" y="525.3" width="36.7" height="36.7" fill="#fae3e5"/>
<text x="1474.8" y="548.5" font-size="13.5" text-anchor="middle" fill="#111">0.21</text>
<rect x="1497.1" y="525.3" width="36.7" height="36.7" fill="#e88089"/>
<text x="1515.4" y="548.5" font-size="13.5" text-anchor="middle" fill="#111">0.88</text>
<rect x="1553.6" y="496.5" width="146.8" height="76.5" rx="20" ry="20" fill="#fff" stroke="#2a1f1f" stroke-width="2"/>
<text x="1634.2" y="518.8" font-size="21.5" text-anchor="middle">CD180</text>
<rect x="1568.6" y="525.3" width="36.7" height="36.7" fill="#405f89"/>
<text x="1586.9" y="548.5" font-size="13.5" text-anchor="middle" fill="#111">-1.10</text>
<rect x="1611.4" y="525.3" width="36.7" height="36.7" fill="#e8838c"/>
<text x="1629.8" y="548.5" font-size="13.5" text-anchor="middle" fill="#111">0.86</text>
<rect x="1652.1" y="525.3" width="36.7" height="36.7" fill="#f9e1e3"/>
<text x="1670.4" y="548.5" font-size="13.5" text-anchor="middle" fill="#111">0.23</text>
<rect x="1708.6" y="496.5" width="146.8" height="76.5" rx="20" ry="20" fill="#fff" stroke="#2a1f1f" stroke-width="2"/>
<text x="1783.2" y="518.8" font-size="21.5" text-anchor="middle">MPO</text>
<rect x="1723.3" y="525.3" width="36.7" height="36.7" fill="#63799b"/>
<text x="1741.7" y="548.5" font-size="13.5" text-anchor="middle" fill="#111">-0.78</text>
<rect x="1766.1" y="525.3" width="36.7" height="36.7" fill="#b0bed1"/>
<text x="1784.4" y="548.5" font-size="13.5" text-anchor="middle" fill="#111">-0.35</text>
<rect x="1806.5" y="525.3" width="36.7" height="36.7" fill="#e35e6e"/>
<text x="1824.8" y="548.5" font-size="13.5" text-anchor="middle" fill="#111">1.13</text>
<text x="-3" y="657" font-size="54">d</text>
<rect x="123" y="641.8" width="277.3" height="359.1" fill="none" stroke="#444" stroke-width="1.6"/>
<line x1="118" y1="741.2" x2="123" y2="741.2" stroke="#444" stroke-width="1.6"/>
<text x="116" y="747.7" font-size="21" text-anchor="end" fill="#1a1a1a">1.0</text>
<line x1="118" y1="855.2" x2="123" y2="855.2" stroke="#444" stroke-width="1.6"/>
<text x="116" y="861.7" font-size="21" text-anchor="end" fill="#1a1a1a">0.5</text>
<line x1="118" y1="968.9" x2="123" y2="968.9" stroke="#444" stroke-width="1.6"/>
<text x="116" y="975.4" font-size="21" text-anchor="end" fill="#1a1a1a">0.0</text>
<line x1="198.4" y1="1000.9" x2="198.4" y2="1005" stroke="#444" stroke-width="1.6"/>
<line x1="324.4" y1="1000.9" x2="324.4" y2="1005" stroke="#444" stroke-width="1.6"/>
<text x="198.4" y="1034.1" font-size="30.7" text-anchor="middle">IGC</text>
<text x="324.4" y="1034.1" font-size="30.7" text-anchor="middle">DGC</text>
<text transform="translate(77.5 823.7) rotate(-90)" font-size="32" text-anchor="middle">Microenvironment score</text>
<text x="264.5" y="674" font-size="21.3" text-anchor="middle">p=1.83e-6</text>
<path d="M198.4 729.2L198.4 729.7L198.5 730.3L198.5 731.1L198.6 732L198.7 732.9L198.7 733.9L198.8 734.9L198.9 735.8L199 736.8L199 737.7L199.1 738.6L199.1 739.6L199.2 740.6L199.3 741.6L199.6 742.7L200 743.8L200.5 745L201.2 746.3L201.9 747.6L202.7 749L203.5 750.4L204.5 751.8L205.4 753.1L206.4 754.5L207.4 755.8L208.5 757.1L209.7 758.5L211 759.8L212.2 761.1L213.4 762.5L214.6 763.8L215.7 765.1L216.8 766.5L217.8 767.8L218.8 769.1L219.8 770.5L220.8 771.8L221.7 773.1L222.7 774.5L223.7 775.8L224.7 777.1L225.6 778.5L226.5 779.8L227.4 781.1L228.4 782.4L229.4 783.8L230.5 785.1L231.7 786.4L233 787.8L234.5 789.1L236 790.4L237.6 791.8L239.1 793.1L240.7 794.4L242.2 795.8L243.7 797.1L245.1 798.4L246.4 799.8L247.8 801.2L249.1 802.5L250.4 803.9L251.6 805.2L252.7 806.5L253.8 807.8L254.8 809L255.8 810.2L256.7 811.5L257.5 812.7L258.3 813.8L259 815L259.6 816L260.2 817.1L260.7 818L261.1 818.9L261.4 819.7L261.6 820.5L261.8 821.3L261.9 822L261.9 822.9L261.8 823.7L261.6 824.7L261.4 825.6L261 826.6L260.6 827.6L260.1 828.7L259.5 829.7L258.8 830.7L258.1 831.7L257.2 832.7L256.3 833.7L255.4 834.6L254.3 835.6L253.1 836.5L251.9 837.5L250.5 838.6L249 839.7L247.3 840.9L245.4 842.2L243.3 843.5L241.2 844.9L239 846.3L236.9 847.6L234.9 849L233 850.4L231.3 851.7L229.6 853.1L228 854.5L226.4 855.9L225 857.2L223.6 858.5L222.3 859.8L221 861L219.9 862.1L219 863.1L218.1 864.1L217.3 865L216.5 865.9L215.8 866.9L215.1 867.9L214.4 869L213.6 870.2L212.9 871.5L212.3 872.8L211.6 874.2L211 875.6L210.3 876.9L209.7 878.3L209.1 879.7L208.4 881L207.8 882.3L207.2 883.7L206.6 885L206 886.3L205.4 887.7L204.8 889L204.3 890.3L203.7 891.7L203.2 893L202.7 894.4L202.2 895.7L201.7 897.1L201.3 898.4L200.9 899.7L200.5 901L200.2 902.2L200 903.4L199.8 904.6L199.7 905.8L199.6 907L199.4 908.1L199.3 909.2L199.2 910.3L199.1 911.4L198.9 912.6L198.8 913.7L198.7 914.9L198.6 915.9L198.5 916.9L198.5 917.7L198.4 918.3L198.4 918.3L198.3 917.7L198.3 916.9L198.2 915.9L198.1 914.9L198 913.7L197.9 912.6L197.7 911.4L197.6 910.3L197.5 909.2L197.4 908.1L197.2 907L197.1 905.8L197 904.6L196.8 903.4L196.6 902.2L196.3 901L195.9 899.7L195.5 898.4L195.1 897.1L194.6 895.7L194.1 894.4L193.6 893L193.1 891.7L192.5 890.3L192 889L191.4 887.7L190.8 886.3L190.2 885L189.6 883.7L189 882.3L188.4 881L187.7 879.7L187.1 878.3L186.5 876.9L185.8 875.6L185.2 874.2L184.5 872.8L183.9 871.5L183.2 870.2L182.4 869L181.7 867.9L181 866.9L180.3 865.9L179.5 865L178.7 864.1L177.8 863.1L176.9 862.1L175.8 861L174.5 859.8L173.2 858.5L171.8 857.2L170.4 855.9L168.8 854.5L167.2 853.1L165.5 851.7L163.8 850.4L161.9 849L159.9 847.6L157.8 846.3L155.6 844.9L153.5 843.5L151.4 842.2L149.5 840.9L147.8 839.7L146.3 838.6L144.9 837.5L143.7 836.5L142.5 835.6L141.4 834.6L140.5 833.7L139.6 832.7L138.7 831.7L138 830.7L137.3 829.7L136.7 828.7L136.2 827.6L135.8 826.6L135.4 825.6L135.2 824.7L135 823.7L134.9 822.9L134.9 822L135 821.3L135.2 820.5L135.4 819.7L135.7 818.9L136.1 818L136.6 817.1L137.2 816L137.8 815L138.5 813.8L139.3 812.7L140.1 811.5L141 810.2L142 809L143 807.8L144.1 806.5L145.2 805.2L146.4 803.9L147.7 802.5L149 801.2L150.4 799.8L151.7 798.4L153.1 797.1L154.6 795.8L156.1 794.4L157.7 793.1L159.2 791.8L160.8 790.4L162.3 789.1L163.8 787.8L165.1 786.4L166.3 785.1L167.4 783.8L168.4 782.4L169.4 781.1L170.3 779.8L171.2 778.5L172.1 777.1L173.1 775.8L174.1 774.5L175.1 773.1L176 771.8L177 770.5L178 769.1L179 767.8L180 766.5L181.1 765.1L182.2 763.8L183.4 762.5L184.6 761.1L185.8 759.8L187.1 758.5L188.3 757.1L189.4 755.8L190.4 754.5L191.4 753.1L192.3 751.8L193.3 750.4L194.1 749L194.9 747.6L195.6 746.3L196.3 745L196.8 743.8L197.2 742.7L197.5 741.6L197.6 740.6L197.7 739.6L197.7 738.6L197.8 737.7L197.8 736.8L197.9 735.8L198 734.9L198.1 733.9L198.1 732.9L198.2 732L198.3 731.1L198.3 730.3L198.4 729.7L198.4 729.2Z" fill="#f7ca8f" stroke="#000" stroke-width="1.8" stroke-linejoin="round"/>
<path d="M324.4 657.3L324.4 658.2L324.5 659.4L324.5 660.9L324.6 662.6L324.7 664.3L324.8 666.1L324.8 667.7L324.9 669.3L325 670.7L325.1 672.1L325.2 673.6L325.3 675L325.4 676.3L325.5 677.6L325.6 678.8L325.7 679.9L325.8 680.8L325.9 681.5L325.9 682.1L326 682.6L326.1 683.1L326.2 683.8L326.4 684.6L326.7 685.8L327.1 687.2L327.5 688.9L328 690.7L328.6 692.7L329.2 694.8L329.8 696.8L330.5 698.8L331.2 700.7L331.9 702.4L332.7 704.2L333.5 705.8L334.3 707.5L335.1 709.2L336 710.9L336.9 712.7L337.7 714.5L338.6 716.5L339.5 718.5L340.4 720.6L341.3 722.7L342.2 724.8L343.1 726.9L344 729L344.9 731L345.8 733L346.7 735L347.6 736.9L348.5 738.9L349.4 740.8L350.2 742.7L351.1 744.6L351.8 746.5L352.6 748.4L353.3 750.2L353.9 752L354.6 753.8L355.2 755.6L355.8 757.5L356.3 759.3L356.9 761.1L357.4 763L358 765L358.5 767L359 769L359.4 771L359.9 772.9L360.3 774.7L360.6 776.3L360.9 777.8L361.2 779.1L361.5 780.3L361.7 781.5L361.9 782.6L362.1 783.8L362.2 785.1L362.2 786.4L362.2 788L362.2 789.5L362.1 791.2L362 792.9L361.8 794.6L361.7 796.4L361.4 798.1L361.2 799.8L360.9 801.4L360.5 803.1L360.2 804.8L359.8 806.4L359.3 808.1L358.8 809.7L358.3 811.4L357.7 813.1L357 814.7L356.3 816.4L355.5 818.1L354.6 819.7L353.8 821.4L352.9 823.1L352 824.7L351 826.4L350.1 828.1L349.1 829.7L348.1 831.4L347 833.1L346 834.7L345 836.4L344 838L343 839.7L342.1 841.4L341.2 843L340.3 844.7L339.5 846.4L338.6 848L337.8 849.7L337.1 851.4L336.4 853L335.8 854.7L335.2 856.4L334.6 858L334.2 859.7L333.7 861.4L333.3 863L332.8 864.7L332.4 866.3L332 868L331.6 869.7L331.2 871.3L330.8 873L330.5 874.7L330.1 876.3L329.8 878L329.5 879.7L329.2 881.3L328.9 883L328.6 884.7L328.3 886.3L328 888L327.8 889.7L327.6 891.3L327.3 893L327.1 894.6L326.9 896.3L326.7 898L326.6 899.6L326.4 901.3L326.3 903L326.1 904.6L326 906.3L325.9 907.9L325.8 909.3L325.7 910.7L325.7 912.1L325.6 913.6L325.6 915.4L325.5 917.3L325.5 919.6L325.4 922.3L325.3 925.5L325.3 928.9L325.2 932.4L325.1 936.1L325 939.7L325 943.1L324.9 946.3L324.9 949.2L324.8 952L324.8 954.8L324.8 957.5L324.8 960.1L324.7 962.6L324.7 965.1L324.7 967.6L324.6 970L324.6 972.6L324.6 975.1L324.5 977.5L324.5 979.8L324.4 981.9L324.4 983.6L324.4 984.9L324.4 984.9L324.4 983.6L324.4 981.9L324.3 979.8L324.3 977.5L324.2 975.1L324.2 972.6L324.2 970L324.1 967.6L324.1 965.1L324.1 962.6L324 960.1L324 957.5L324 954.8L324 952L323.9 949.2L323.9 946.3L323.8 943.1L323.8 939.7L323.7 936.1L323.6 932.4L323.5 928.9L323.5 925.5L323.4 922.3L323.3 919.6L323.3 917.3L323.2 915.4L323.2 913.6L323.1 912.1L323.1 910.7L323 909.3L322.9 907.9L322.8 906.3L322.7 904.6L322.5 903L322.4 901.3L322.2 899.6L322.1 898L321.9 896.3L321.7 894.6L321.5 893L321.2 891.3L321 889.7L320.8 888L320.5 886.3L320.2 884.7L319.9 883L319.6 881.3L319.3 879.7L319 878L318.7 876.3L318.3 874.7L318 873L317.6 871.3L317.2 869.7L316.8 868L316.4 866.3L316 864.7L315.5 863L315.1 861.4L314.6 859.7L314.2 858L313.6 856.4L313 854.7L312.4 853L311.7 851.4L311 849.7L310.2 848L309.3 846.4L308.5 844.7L307.6 843L306.7 841.4L305.8 839.7L304.8 838L303.8 836.4L302.8 834.7L301.8 833.1L300.7 831.4L299.7 829.7L298.7 828.1L297.8 826.4L296.8 824.7L295.9 823.1L295 821.4L294.2 819.7L293.3 818.1L292.5 816.4L291.8 814.7L291.1 813.1L290.5 811.4L290 809.7L289.5 808.1L289 806.4L288.6 804.8L288.3 803.1L287.9 801.4L287.6 799.8L287.4 798.1L287.1 796.4L287 794.6L286.8 792.9L286.7 791.2L286.6 789.5L286.6 788L286.6 786.4L286.6 785.1L286.7 783.8L286.9 782.6L287.1 781.5L287.3 780.3L287.6 779.1L287.9 777.8L288.2 776.3L288.5 774.7L288.9 772.9L289.4 771L289.8 769L290.3 767L290.8 765L291.4 763L291.9 761.1L292.5 759.3L293 757.5L293.6 755.6L294.2 753.8L294.9 752L295.5 750.2L296.2 748.4L297 746.5L297.7 744.6L298.6 742.7L299.4 740.8L300.3 738.9L301.2 736.9L302.1 735L303 733L303.9 731L304.8 729L305.7 726.9L306.6 724.8L307.5 722.7L308.4 720.6L309.3 718.5L310.2 716.5L311.1 714.5L311.9 712.7L312.8 710.9L313.7 709.2L314.5 707.5L315.3 705.8L316.1 704.2L316.9 702.4L317.6 700.7L318.3 698.8L319 696.8L319.6 694.8L320.2 692.7L320.8 690.7L321.3 688.9L321.7 687.2L322.1 685.8L322.4 684.6L322.6 683.8L322.7 683.1L322.8 682.6L322.9 682.1L322.9 681.5L323 680.8L323.1 679.9L323.2 678.8L323.3 677.6L323.4 676.3L323.5 675L323.6 673.6L323.7 672.1L323.8 670.7L323.9 669.3L324 667.7L324 666.1L324.1 664.3L324.2 662.6L324.3 660.9L324.3 659.4L324.4 658.2L324.4 657.3Z" fill="#f09a84" stroke="#000" stroke-width="1.8" stroke-linejoin="round"/>
<line x1="198.4" y1="757.5" x2="198.4" y2="885.8" stroke="#000" stroke-width="3.2"/>
<rect x="185.9" y="800.3" width="26.4" height="38.6" fill="#fff" stroke="#000" stroke-width="3.2"/>
<line x1="185.9" y1="819.2" x2="212.3" y2="819.2" stroke="#000" stroke-width="3.2"/>
<line x1="324.4" y1="707.3" x2="324.4" y2="883.6" stroke="#000" stroke-width="3.2"/>
<rect x="312.2" y="762" width="25.5" height="64.4" fill="#fff" stroke="#000" stroke-width="3.2"/>
<line x1="312.2" y1="790.4" x2="337.7" y2="790.4" stroke="#000" stroke-width="3.2"/>
<rect x="492.4" y="637.3" width="278.4" height="361.4" fill="none" stroke="#444" stroke-width="1.6"/>
<line x1="487.4" y1="735.3" x2="492.4" y2="735.3" stroke="#444" stroke-width="1.6"/>
<text x="485.5" y="741.8" font-size="21" text-anchor="end" fill="#1a1a1a">1.0</text>
<line x1="487.4" y1="846.9" x2="492.4" y2="846.9" stroke="#444" stroke-width="1.6"/>
<text x="485.5" y="853.4" font-size="21" text-anchor="end" fill="#1a1a1a">0.5</text>
<line x1="487.4" y1="958.2" x2="492.4" y2="958.2" stroke="#444" stroke-width="1.6"/>
<text x="485.5" y="964.7" font-size="21" text-anchor="end" fill="#1a1a1a">0.0</text>
<line x1="568.3" y1="998.7" x2="568.3" y2="1003" stroke="#444" stroke-width="1.6"/>
<line x1="694.8" y1="998.7" x2="694.8" y2="1003" stroke="#444" stroke-width="1.6"/>
<text x="568.3" y="1034.1" font-size="30.7" text-anchor="middle">IGC</text>
<text x="694.8" y="1034.1" font-size="30.7" text-anchor="middle">DGC</text>
<text transform="translate(448 809) rotate(-90)" font-size="32" text-anchor="middle">Immune score</text>
<text x="621.3" y="668" font-size="21.3" text-anchor="middle">p=5.30e-6</text>
<path d="M568.3 731.8L568.3 732.6L568.4 733.5L568.4 734.7L568.5 736L568.6 737.4L568.7 738.7L568.7 740L568.8 741.2L568.9 742.2L569 743.2L569 744.1L569.1 745.1L569.2 746L569.3 747L569.4 748L569.6 749.2L569.8 750.4L569.9 751.6L570.1 753L570.3 754.3L570.5 755.7L570.9 757.1L571.5 758.5L572.3 759.8L573.3 761.1L574.6 762.5L576 763.8L577.6 765.1L579.3 766.5L581 767.8L582.7 769.1L584.3 770.5L585.9 771.8L587.6 773.1L589.3 774.5L591 775.8L592.7 777.1L594.4 778.5L596.1 779.8L597.6 781.1L599.1 782.4L600.5 783.8L601.9 785.1L603.3 786.4L604.6 787.8L605.8 789.1L607.1 790.4L608.3 791.8L609.4 793.1L610.5 794.4L611.6 795.8L612.6 797.1L613.6 798.4L614.5 799.8L615.4 801.1L616.2 802.4L617 803.8L617.7 805.1L618.4 806.5L619 807.9L619.6 809.3L620.2 810.6L620.9 811.9L621.6 813.1L622.4 814.2L623.2 815.3L624.1 816.3L625 817.3L625.9 818.3L626.8 819.2L627.5 820.2L628.2 821.1L628.9 822L629.5 822.8L630.1 823.7L630.6 824.5L631 825.3L631.4 826.1L631.6 826.9L631.7 827.7L631.6 828.5L631.5 829.3L631.3 830L630.9 830.8L630.5 831.6L629.9 832.4L629.1 833.4L628.2 834.4L627.2 835.5L625.9 836.8L624.5 838.1L623 839.5L621.4 840.9L619.7 842.3L618 843.7L616.2 845L614.4 846.4L612.4 847.7L610.4 849L608.3 850.4L606.1 851.7L604.1 853L602.1 854.4L600.3 855.7L598.6 857L596.9 858.4L595.4 859.7L593.9 861L592.4 862.4L591 863.7L589.6 865L588.3 866.3L586.9 867.7L585.6 869L584.4 870.3L583.1 871.7L581.9 873L580.8 874.3L579.8 875.7L579 877L578.2 878.3L577.6 879.7L577.1 881L576.6 882.3L576.2 883.7L575.8 885L575.4 886.3L575 887.7L574.4 889L573.9 890.3L573.4 891.7L572.8 893L572.3 894.3L571.8 895.6L571.4 897L571 898.3L570.6 899.6L570.3 901L570.1 902.3L569.8 903.6L569.6 905L569.4 906.3L569.3 907.6L569.1 909L568.9 910.4L568.8 911.9L568.7 913.4L568.6 915L568.5 916.4L568.4 917.7L568.4 918.8L568.3 919.6L568.3 919.6L568.2 918.8L568.2 917.7L568.1 916.4L568 915L567.9 913.4L567.8 911.9L567.7 910.4L567.5 909L567.3 907.6L567.2 906.3L567 905L566.8 903.6L566.5 902.3L566.3 901L566 899.6L565.6 898.3L565.2 897L564.8 895.6L564.3 894.3L563.8 893L563.2 891.7L562.7 890.3L562.2 889L561.6 887.7L561.2 886.3L560.8 885L560.4 883.7L560 882.3L559.5 881L559 879.7L558.4 878.3L557.6 877L556.8 875.7L555.8 874.3L554.7 873L553.5 871.7L552.2 870.3L551 869L549.7 867.7L548.3 866.3L547 865L545.6 863.7L544.2 862.4L542.7 861L541.2 859.7L539.7 858.4L538 857L536.3 855.7L534.5 854.4L532.5 853L530.5 851.7L528.3 850.4L526.2 849L524.2 847.7L522.2 846.4L520.4 845L518.6 843.7L516.9 842.3L515.2 840.9L513.6 839.5L512.1 838.1L510.7 836.8L509.4 835.5L508.4 834.4L507.5 833.4L506.7 832.4L506.1 831.6L505.7 830.8L505.3 830L505.1 829.3L505 828.5L504.9 827.7L505 826.9L505.2 826.1L505.6 825.3L506 824.5L506.5 823.7L507.1 822.8L507.7 822L508.4 821.1L509.1 820.2L509.8 819.2L510.7 818.3L511.6 817.3L512.5 816.3L513.4 815.3L514.2 814.2L515 813.1L515.7 811.9L516.4 810.6L517 809.3L517.6 807.9L518.2 806.5L518.9 805.1L519.6 803.8L520.4 802.4L521.2 801.1L522.1 799.8L523 798.4L524 797.1L525 795.8L526.1 794.4L527.2 793.1L528.3 791.8L529.5 790.4L530.8 789.1L532 787.8L533.3 786.4L534.7 785.1L536.1 783.8L537.5 782.4L539 781.1L540.5 779.8L542.2 778.5L543.9 777.1L545.6 775.8L547.3 774.5L549 773.1L550.7 771.8L552.3 770.5L553.9 769.1L555.6 767.8L557.3 766.5L559 765.1L560.6 763.8L562 762.5L563.3 761.1L564.3 759.8L565.1 758.5L565.7 757.1L566.1 755.7L566.3 754.3L566.5 753L566.7 751.6L566.8 750.4L567 749.2L567.2 748L567.3 747L567.4 746L567.5 745.1L567.6 744.1L567.6 743.2L567.7 742.2L567.8 741.2L567.9 740L567.9 738.7L568 737.4L568.1 736L568.2 734.7L568.2 733.5L568.3 732.6L568.3 731.8Z" fill="#f7ca8f" stroke="#000" stroke-width="1.8" stroke-linejoin="round"/>
<path d="M694.8 653.3L694.8 654.3L694.9 655.7L695 657.3L695 659.1L695.1 661L695.2 662.9L695.3 664.8L695.3 666.6L695.4 668.3L695.4 669.9L695.4 671.6L695.4 673.2L695.4 674.9L695.4 676.6L695.5 678.2L695.6 679.9L695.7 681.6L695.9 683.2L696.1 684.9L696.3 686.6L696.5 688.2L696.8 689.9L697.1 691.6L697.5 693.2L697.8 694.9L698.3 696.6L698.7 698.2L699.2 699.9L699.7 701.5L700.2 703.2L700.8 704.9L701.5 706.5L702.2 708.2L702.9 709.9L703.8 711.5L704.6 713.2L705.5 714.9L706.4 716.5L707.3 718.2L708.1 719.9L708.9 721.5L709.8 723.2L710.6 724.9L711.4 726.5L712.3 728.2L713.1 729.8L713.9 731.5L714.8 733.2L715.6 734.8L716.5 736.5L717.3 738.2L718.2 739.8L719 741.5L719.9 743.2L720.7 744.8L721.4 746.5L722.2 748.2L722.9 749.8L723.6 751.5L724.3 753.1L725 754.8L725.6 756.5L726.2 758.1L726.8 759.8L727.3 761.5L727.7 763.1L728.2 764.8L728.6 766.5L729 768.1L729.3 769.8L729.6 771.5L730 773.1L730.2 774.8L730.5 776.5L730.7 778.1L731 779.8L731.1 781.4L731.3 783.1L731.4 784.8L731.6 786.4L731.6 788.1L731.7 789.8L731.8 791.4L731.8 793.1L731.8 794.8L731.7 796.4L731.7 798.1L731.6 799.8L731.4 801.4L731.2 803.1L731.1 804.8L730.8 806.4L730.6 808.1L730.2 809.7L729.9 811.4L729.4 813.1L728.9 814.7L728.3 816.4L727.7 818.1L727 819.7L726.3 821.4L725.6 823.1L724.8 824.7L724.1 826.4L723.3 828.1L722.5 829.7L721.6 831.4L720.8 833.1L719.9 834.7L719 836.4L718.2 838L717.4 839.7L716.7 841.4L716 843L715.3 844.7L714.7 846.4L714.1 848L713.4 849.7L712.8 851.4L712.1 853L711.4 854.7L710.8 856.4L710.1 858L709.4 859.7L708.8 861.4L708.1 863L707.5 864.7L706.8 866.3L706.1 868L705.4 869.7L704.7 871.3L704 873L703.3 874.7L702.7 876.3L702 878L701.5 879.7L700.9 881.3L700.4 883L700 884.7L699.5 886.3L699.1 888L698.7 889.7L698.3 891.3L698 893L697.7 894.6L697.4 896.3L697.1 898L696.9 899.6L696.7 901.3L696.5 903L696.3 904.6L696.1 906.3L696 907.9L695.9 909.3L695.8 910.7L695.8 912.1L695.7 913.6L695.7 915.4L695.6 917.3L695.6 919.6L695.6 922.3L695.5 925.5L695.5 928.9L695.4 932.4L695.4 936.1L695.4 939.7L695.4 943.1L695.3 946.3L695.3 949.2L695.3 952.1L695.2 954.9L695.2 957.7L695.2 960.3L695.1 962.8L695.1 965.3L695.1 967.6L695 969.8L695 972L695 974.2L694.9 976.2L694.9 978.1L694.8 979.7L694.8 981.1L694.8 982.2L694.8 982.2L694.8 981.1L694.8 979.7L694.7 978.1L694.7 976.2L694.6 974.2L694.6 972L694.6 969.8L694.5 967.6L694.5 965.3L694.5 962.8L694.4 960.3L694.4 957.7L694.4 954.9L694.3 952.1L694.3 949.2L694.3 946.3L694.2 943.1L694.2 939.7L694.2 936.1L694.2 932.4L694.1 928.9L694.1 925.5L694 922.3L694 919.6L694 917.3L693.9 915.4L693.9 913.6L693.8 912.1L693.8 910.7L693.7 909.3L693.6 907.9L693.5 906.3L693.3 904.6L693.1 903L692.9 901.3L692.7 899.6L692.5 898L692.2 896.3L691.9 894.6L691.6 893L691.3 891.3L690.9 889.7L690.5 888L690.1 886.3L689.6 884.7L689.2 883L688.7 881.3L688.1 879.7L687.6 878L686.9 876.3L686.3 874.7L685.6 873L684.9 871.3L684.2 869.7L683.5 868L682.8 866.3L682.1 864.7L681.5 863L680.8 861.4L680.2 859.7L679.5 858L678.8 856.4L678.2 854.7L677.5 853L676.8 851.4L676.2 849.7L675.5 848L674.9 846.4L674.3 844.7L673.6 843L672.9 841.4L672.2 839.7L671.4 838L670.6 836.4L669.7 834.7L668.8 833.1L668 831.4L667.1 829.7L666.3 828.1L665.5 826.4L664.8 824.7L664 823.1L663.3 821.4L662.6 819.7L661.9 818.1L661.3 816.4L660.7 814.7L660.2 813.1L659.7 811.4L659.4 809.7L659 808.1L658.8 806.4L658.5 804.8L658.4 803.1L658.2 801.4L658 799.8L657.9 798.1L657.9 796.4L657.8 794.8L657.8 793.1L657.8 791.4L657.9 789.8L658 788.1L658 786.4L658.2 784.8L658.3 783.1L658.5 781.4L658.6 779.8L658.9 778.1L659.1 776.5L659.4 774.8L659.6 773.1L660 771.5L660.3 769.8L660.6 768.1L661 766.5L661.4 764.8L661.9 763.1L662.3 761.5L662.8 759.8L663.4 758.1L664 756.5L664.6 754.8L665.3 753.1L666 751.5L666.7 749.8L667.4 748.2L668.2 746.5L668.9 744.8L669.7 743.2L670.6 741.5L671.4 739.8L672.3 738.2L673.1 736.5L674 734.8L674.8 733.2L675.7 731.5L676.5 729.8L677.3 728.2L678.2 726.5L679 724.9L679.8 723.2L680.7 721.5L681.5 719.9L682.3 718.2L683.2 716.5L684.1 714.9L685 713.2L685.8 711.5L686.7 709.9L687.4 708.2L688.1 706.5L688.8 704.9L689.4 703.2L689.9 701.5L690.4 699.9L690.9 698.2L691.3 696.6L691.8 694.9L692.1 693.2L692.5 691.6L692.8 689.9L693.1 688.2L693.3 686.6L693.5 684.9L693.7 683.2L693.9 681.6L694 679.9L694.1 678.2L694.2 676.6L694.2 674.9L694.2 673.2L694.2 671.6L694.2 669.9L694.2 668.3L694.3 666.6L694.3 664.8L694.4 662.9L694.5 661L694.6 659.1L694.6 657.3L694.7 655.7L694.8 654.3L694.8 653.3Z" fill="#f09a84" stroke="#000" stroke-width="1.8" stroke-linejoin="round"/>
<line x1="568.3" y1="761.7" x2="568.3" y2="890.3" stroke="#000" stroke-width="3.2"/>
<rect x="555.8" y="805" width="25.3" height="39.5" fill="#fff" stroke="#000" stroke-width="3.2"/>
<line x1="555.8" y1="826.9" x2="581.1" y2="826.9" stroke="#000" stroke-width="3.2"/>
<line x1="694.8" y1="702.5" x2="694.8" y2="891.6" stroke="#000" stroke-width="3.2"/>
<rect x="682.3" y="771.3" width="25.3" height="57.7" fill="#fff" stroke="#000" stroke-width="3.2"/>
<line x1="682.3" y1="799.8" x2="707.6" y2="799.8" stroke="#000" stroke-width="3.2"/>
<text x="947.5" y="657" font-size="56">e</text>
<rect x="1006.2" y="640.5" width="327.2" height="35.2" fill="#edb16b"/>
<rect x="1333.4" y="640.5" width="272.1" height="35.2" fill="#e4705a"/>
<text x="1160.6" y="670.4" font-size="35" text-anchor="middle">IGC</text>
<text x="1460.5" y="670.4" font-size="35" text-anchor="middle">DGC</text>
<g transform="translate(1006.2 689.3) scale(3.2395 41.0000)">
<path fill="#c8c8e3" d="M84 1h1v1h-1zM102 1h1v1h-1zM112 1h1v1h-1zM124 1h1v1h-1zM12 2h1v1h-1zM48 2h1v1h-1zM67 2h1v1h-1zM1 4h3v1h-3zM6 4h1v1h-1zM8 4h6v1h-6zM16 4h6v1h-6zM23 4h1v1h-1zM26 4h2v1h-2zM30 4h3v1h-3zM34 4h1v1h-1zM36 4h8v1h-8zM45 4h2v1h-2zM49 4h3v1h-3zM53 4h13v1h-13zM67 4h8v1h-8zM76 4h2v1h-2zM79 4h11v1h-11zM91 4h1v1h-1zM93 4h2v1h-2zM96 4h3v1h-3zM101 4h1v1h-1zM104 4h2v1h-2zM108 4h4v1h-4zM113 4h2v1h-2zM116 4h3v1h-3zM120 4h3v1h-3zM126 4h3v1h-3zM132 4h1v1h-1zM134 4h2v1h-2zM137 4h1v1h-1zM140 4h1v1h-1zM142 4h1v1h-1zM146 4h2v1h-2zM149 4h5v1h-5zM155 4h2v1h-2zM159 4h1v1h-1zM161 4h2v1h-2zM165 4h3v1h-3zM170 4h1v1h-1zM173 4h2v1h-2zM179 4h6v1h-6zM0 5h1v1h-1zM2 5h2v1h-2zM5 5h7v1h-7zM13 5h6v1h-6zM20 5h6v1h-6zM27 5h3v1h-3zM31 5h3v1h-3zM35 5h2v1h-2zM38 5h10v1h-10zM49 5h25v1h-25zM75 5h1v1h-1zM77 5h1v1h-1zM79 5h5v1h-5zM85 5h9v1h-9zM95 5h7v1h-7zM105 5h1v1h-1zM109 5h1v1h-1zM112 5h11v1h-11zM124 5h1v1h-1zM126 5h6v1h-6zM133 5h3v1h-3zM137 5h1v1h-1zM142 5h8v1h-8zM151 5h1v1h-1zM153 5h2v1h-2zM156 5h7v1h-7zM164 5h1v1h-1zM166 5h1v1h-1zM168 5h4v1h-4zM175 5h1v1h-1zM178 5h1v1h-1zM180 5h4v1h-4zM0 6h1v1h-1zM2 6h1v1h-1zM4 6h4v1h-4zM9 6h1v1h-1zM11 6h16v1h-16zM28 6h16v1h-16zM45 6h1v1h-1zM48 6h9v1h-9zM58 6h2v1h-2zM61 6h5v1h-5zM67 6h2v1h-2zM71 6h4v1h-4zM76 6h1v1h-1zM78 6h4v1h-4zM83 6h4v1h-4zM88 6h1v1h-1zM90 6h6v1h-6zM97 6h4v1h-4zM102 6h5v1h-5zM109 6h5v1h-5zM115 6h9v1h-9zM126 6h1v1h-1zM129 6h2v1h-2zM133 6h1v1h-1zM135 6h1v1h-1zM137 6h2v1h-2zM142 6h1v1h-1zM159 6h2v1h-2zM170 6h1v1h-1zM178 6h1v1h-1zM180 6h1v1h-1zM184 6h1v1h-1z"/>
<path fill="#9295c8" d="M23 1h1v1h-1zM36 1h1v1h-1zM42 1h1v1h-1zM69 1h1v1h-1zM94 1h1v1h-1zM113 1h1v1h-1zM134 1h1v1h-1zM147 1h1v1h-1zM156 1h2v1h-2zM167 1h1v1h-1zM176 1h1v1h-1zM0 2h3v1h-3zM6 2h1v1h-1zM8 2h2v1h-2zM15 2h1v1h-1zM21 2h1v1h-1zM27 2h1v1h-1zM29 2h1v1h-1zM34 2h1v1h-1zM36 2h1v1h-1zM39 2h2v1h-2zM42 2h1v1h-1zM51 2h1v1h-1zM53 2h1v1h-1zM56 2h1v1h-1zM58 2h1v1h-1zM61 2h2v1h-2zM72 2h2v1h-2zM89 2h1v1h-1zM95 2h1v1h-1zM97 2h1v1h-1zM111 2h1v1h-1zM120 2h1v1h-1zM141 2h1v1h-1zM161 2h1v1h-1zM164 2h1v1h-1zM169 2h1v1h-1zM172 2h1v1h-1zM1 3h1v1h-1zM6 3h2v1h-2zM9 3h1v1h-1zM11 3h1v1h-1zM14 3h1v1h-1zM16 3h1v1h-1zM27 3h1v1h-1zM31 3h1v1h-1zM35 3h2v1h-2zM38 3h3v1h-3zM45 3h1v1h-1zM49 3h1v1h-1zM52 3h4v1h-4zM57 3h1v1h-1zM62 3h2v1h-2zM67 3h2v1h-2zM79 3h1v1h-1zM85 3h3v1h-3zM92 3h1v1h-1zM99 3h1v1h-1zM113 3h1v1h-1zM115 3h1v1h-1zM126 3h1v1h-1zM166 3h1v1h-1zM174 3h1v1h-1z"/>
<path fill="#9d9fcd" d="M11 1h1v1h-1zM52 1h1v1h-1zM80 1h1v1h-1zM86 1h1v1h-1zM119 1h1v1h-1zM122 1h1v1h-1zM127 1h1v1h-1zM139 1h1v1h-1zM151 1h1v1h-1zM154 1h1v1h-1zM160 1h1v1h-1zM164 1h1v1h-1zM11 2h1v1h-1zM13 2h1v1h-1zM20 2h1v1h-1zM22 2h2v1h-2zM32 2h1v1h-1zM37 2h1v1h-1zM65 2h2v1h-2zM68 2h1v1h-1zM70 2h1v1h-1zM77 2h1v1h-1zM79 2h1v1h-1zM91 2h1v1h-1zM98 2h1v1h-1zM124 2h1v1h-1zM127 2h1v1h-1zM129 2h1v1h-1zM143 2h2v1h-2zM156 2h1v1h-1zM166 2h1v1h-1zM176 2h1v1h-1zM2 3h1v1h-1zM4 3h1v1h-1zM10 3h1v1h-1zM20 3h1v1h-1zM28 3h1v1h-1zM33 3h1v1h-1zM37 3h1v1h-1zM43 3h1v1h-1zM56 3h1v1h-1zM65 3h2v1h-2zM77 3h1v1h-1zM81 3h4v1h-4zM90 3h1v1h-1zM98 3h1v1h-1zM103 3h2v1h-2zM136 3h1v1h-1zM138 3h1v1h-1z"/>
<path fill="#8a8dc4" d="M117 1h1v1h-1zM126 1h1v1h-1zM150 1h1v1h-1zM177 1h1v1h-1zM33 2h1v1h-1zM50 2h1v1h-1zM54 2h1v1h-1zM59 2h1v1h-1zM63 2h1v1h-1zM74 2h1v1h-1zM80 2h1v1h-1zM82 2h1v1h-1zM94 2h1v1h-1zM125 2h1v1h-1zM134 2h1v1h-1zM140 2h1v1h-1zM183 2h1v1h-1zM3 3h1v1h-1zM30 3h1v1h-1zM34 3h1v1h-1zM41 3h2v1h-2zM44 3h1v1h-1zM50 3h1v1h-1zM59 3h1v1h-1zM61 3h1v1h-1zM64 3h1v1h-1zM78 3h1v1h-1zM80 3h1v1h-1zM88 3h1v1h-1zM100 3h1v1h-1zM108 3h1v1h-1zM128 3h1v1h-1z"/>
<path fill="#f7d0d1" d="M34 1h1v1h-1zM39 1h1v1h-1zM54 1h1v1h-1zM64 1h1v1h-1zM70 1h2v1h-2zM73 1h1v1h-1zM90 1h2v1h-2zM93 1h1v1h-1zM96 1h1v1h-1zM108 1h1v1h-1zM16 2h1v1h-1zM25 2h1v1h-1zM101 2h1v1h-1zM142 2h1v1h-1zM178 2h1v1h-1zM15 3h1v1h-1zM18 3h1v1h-1zM46 3h1v1h-1zM73 3h1v1h-1zM101 3h1v1h-1zM0 4h1v1h-1zM14 4h1v1h-1zM19 5h1v1h-1zM111 5h1v1h-1zM66 6h1v1h-1zM82 6h1v1h-1zM136 6h1v1h-1zM147 6h1v1h-1zM172 6h1v1h-1z"/>
<path fill="#f3b5b6" d="M10 1h1v1h-1zM41 1h1v1h-1zM72 1h1v1h-1zM111 1h1v1h-1zM148 1h1v1h-1zM159 1h1v1h-1zM30 2h1v1h-1zM170 2h1v1h-1zM22 3h1v1h-1zM93 3h1v1h-1zM124 3h1v1h-1zM152 3h1v1h-1zM164 3h1v1h-1zM169 3h1v1h-1zM78 4h1v1h-1zM107 4h1v1h-1zM124 4h1v1h-1zM145 4h1v1h-1zM160 4h1v1h-1zM106 5h1v1h-1zM163 5h1v1h-1zM184 5h1v1h-1zM101 6h1v1h-1zM140 6h1v1h-1zM145 6h1v1h-1zM152 6h1v1h-1z"/>
<path fill="#f3bbbc" d="M0 1h1v1h-1zM25 1h1v1h-1zM43 1h2v1h-2zM56 1h2v1h-2zM87 1h1v1h-1zM95 1h1v1h-1zM97 1h1v1h-1zM121 1h1v1h-1zM10 2h1v1h-1zM46 2h1v1h-1zM99 2h1v1h-1zM123 2h1v1h-1zM145 2h1v1h-1zM154 2h1v1h-1zM129 3h1v1h-1zM135 3h1v1h-1zM184 3h1v1h-1zM152 5h1v1h-1zM139 6h1v1h-1zM144 6h1v1h-1zM155 6h1v1h-1zM177 6h1v1h-1zM179 6h1v1h-1zM183 6h1v1h-1z"/>
<path fill="#f2aaab" d="M7 1h1v1h-1zM75 1h2v1h-2zM78 1h1v1h-1zM82 1h1v1h-1zM183 1h1v1h-1zM19 2h1v1h-1zM69 2h1v1h-1zM102 2h1v1h-1zM115 2h1v1h-1zM151 2h1v1h-1zM25 3h1v1h-1zM107 3h1v1h-1zM120 3h1v1h-1zM122 3h1v1h-1zM145 3h1v1h-1zM156 3h1v1h-1zM181 3h1v1h-1zM29 4h1v1h-1zM176 4h1v1h-1zM173 5h1v1h-1zM114 6h1v1h-1zM156 6h1v1h-1zM173 6h1v1h-1z"/>
<path fill="#f4c2c3" d="M59 1h1v1h-1zM131 1h2v1h-2zM135 1h1v1h-1zM28 2h1v1h-1zM43 2h1v1h-1zM49 2h1v1h-1zM76 2h1v1h-1zM100 2h1v1h-1zM107 2h1v1h-1zM117 2h1v1h-1zM174 2h1v1h-1zM19 3h1v1h-1zM72 3h1v1h-1zM96 3h1v1h-1zM121 3h1v1h-1zM141 3h1v1h-1zM100 4h1v1h-1zM125 4h1v1h-1zM133 4h1v1h-1zM143 4h1v1h-1zM107 5h1v1h-1zM124 6h1v1h-1zM134 6h1v1h-1z"/>
<path fill="#f6c9ca" d="M21 1h1v1h-1zM27 1h1v1h-1zM40 1h1v1h-1zM105 1h1v1h-1zM45 2h1v1h-1zM57 2h1v1h-1zM126 2h1v1h-1zM147 2h2v1h-2zM159 2h1v1h-1zM182 2h1v1h-1zM58 3h1v1h-1zM71 3h1v1h-1zM117 3h1v1h-1zM5 4h1v1h-1zM33 4h1v1h-1zM158 4h1v1h-1zM168 4h1v1h-1zM141 5h1v1h-1zM171 6h1v1h-1z"/>
<path fill="#f2f2f9" d="M24 1h1v1h-1zM26 1h1v1h-1zM66 1h1v1h-1zM114 1h1v1h-1zM133 1h1v1h-1zM86 2h1v1h-1zM92 2h2v1h-2zM91 3h1v1h-1zM4 4h1v1h-1zM25 4h1v1h-1zM52 4h1v1h-1zM102 4h1v1h-1zM74 5h1v1h-1zM94 5h1v1h-1zM110 5h1v1h-1zM165 5h1v1h-1zM46 6h1v1h-1zM107 6h1v1h-1zM153 6h1v1h-1z"/>
<path fill="#f0a0a1" d="M50 1h2v1h-2zM107 1h1v1h-1zM141 1h1v1h-1zM122 2h1v1h-1zM137 2h1v1h-1zM149 2h1v1h-1zM168 2h1v1h-1zM17 3h1v1h-1zM157 3h1v1h-1zM167 3h2v1h-2zM172 3h1v1h-1zM175 3h1v1h-1zM75 4h1v1h-1zM106 4h1v1h-1zM172 4h1v1h-1zM179 5h1v1h-1zM1 6h1v1h-1zM141 6h1v1h-1zM182 6h1v1h-1z"/>
<path fill="#a7a9d3" d="M2 1h1v1h-1zM29 1h1v1h-1zM32 1h1v1h-1zM89 1h1v1h-1zM109 1h1v1h-1zM137 1h1v1h-1zM144 1h2v1h-2zM155 1h1v1h-1zM166 1h1v1h-1zM173 1h1v1h-1zM180 1h1v1h-1zM121 2h1v1h-1zM132 2h1v1h-1zM138 2h1v1h-1zM76 3h1v1h-1zM94 3h1v1h-1zM105 3h1v1h-1zM163 3h1v1h-1z"/>
<path fill="#e1e1f0" d="M0 0h3v1h-3zM4 0h4v1h-4zM9 0h4v1h-4zM14 0h10v1h-10zM25 0h6v1h-6zM32 0h1v1h-1zM34 0h7v1h-7zM43 0h4v1h-4zM48 0h6v1h-6zM56 0h14v1h-14zM71 0h9v1h-9zM81 0h17v1h-17zM99 0h4v1h-4zM104 0h5v1h-5zM110 0h75v1h-75zM119 3h1v1h-1z"/>
<path fill="#e54b49" d="M33 0h1v1h-1zM129 1h1v1h-1zM139 2h1v1h-1zM165 2h1v1h-1zM102 3h1v1h-1zM149 3h1v1h-1zM7 4h1v1h-1zM24 4h1v1h-1zM47 4h1v1h-1zM112 4h1v1h-1zM115 4h1v1h-1zM154 4h1v1h-1zM76 5h1v1h-1zM136 5h1v1h-1zM131 6h1v1h-1zM167 6h1v1h-1z"/>
<path fill="#bdbede" d="M12 1h1v1h-1zM20 1h1v1h-1zM28 1h1v1h-1zM48 1h1v1h-1zM58 1h1v1h-1zM99 1h1v1h-1zM116 1h1v1h-1zM31 2h1v1h-1zM60 2h1v1h-1zM85 2h1v1h-1zM105 2h2v1h-2zM181 2h1v1h-1zM5 3h1v1h-1zM26 3h1v1h-1zM75 3h1v1h-1zM160 3h1v1h-1z"/>
<path fill="#b2b3d8" d="M16 1h1v1h-1zM30 1h1v1h-1zM35 1h1v1h-1zM68 1h1v1h-1zM79 1h1v1h-1zM98 1h1v1h-1zM100 1h1v1h-1zM103 1h1v1h-1zM152 1h1v1h-1zM26 2h1v1h-1zM38 2h1v1h-1zM90 2h1v1h-1zM158 2h1v1h-1zM175 2h1v1h-1zM89 3h1v1h-1zM154 3h1v1h-1z"/>
<path fill="#f2b0b1" d="M47 0h1v1h-1zM103 0h1v1h-1zM45 1h1v1h-1zM85 1h1v1h-1zM113 2h1v1h-1zM160 2h1v1h-1zM24 3h1v1h-1zM143 3h1v1h-1zM165 3h1v1h-1zM78 5h1v1h-1zM150 5h1v1h-1zM3 6h1v1h-1zM149 6h1v1h-1zM151 6h1v1h-1z"/>
<path fill="#e43735" d="M3 0h1v1h-1zM55 0h1v1h-1zM80 0h1v1h-1zM109 0h1v1h-1zM63 1h1v1h-1zM88 1h1v1h-1zM64 2h1v1h-1zM96 2h1v1h-1zM147 3h1v1h-1zM170 3h1v1h-1zM4 5h1v1h-1zM37 5h1v1h-1zM162 6h1v1h-1z"/>
<path fill="#fdf4f4" d="M42 0h1v1h-1zM70 0h1v1h-1zM38 1h1v1h-1zM3 2h1v1h-1zM18 2h1v1h-1zM110 2h1v1h-1zM157 2h1v1h-1zM140 3h1v1h-1zM15 4h1v1h-1zM157 4h1v1h-1zM177 4h1v1h-1zM155 5h1v1h-1zM96 6h1v1h-1z"/>
<path fill="#f1a5a6" d="M4 1h1v1h-1zM83 1h1v1h-1zM92 1h1v1h-1zM181 1h1v1h-1zM104 2h1v1h-1zM114 2h1v1h-1zM155 2h1v1h-1zM137 3h1v1h-1zM178 3h1v1h-1zM35 4h1v1h-1zM140 5h1v1h-1zM75 6h1v1h-1zM168 6h1v1h-1z"/>
<path fill="#e44340" d="M8 0h1v1h-1zM98 0h1v1h-1zM3 1h1v1h-1zM13 1h1v1h-1zM18 1h1v1h-1zM135 2h1v1h-1zM123 3h1v1h-1zM141 4h1v1h-1zM144 4h1v1h-1zM175 4h1v1h-1zM125 5h1v1h-1zM89 6h1v1h-1z"/>
<path fill="#ef9b9c" d="M8 1h1v1h-1zM17 1h1v1h-1zM111 3h1v1h-1zM132 3h1v1h-1zM139 3h1v1h-1zM150 3h1v1h-1zM148 4h1v1h-1zM84 5h1v1h-1zM172 5h1v1h-1zM150 6h1v1h-1zM166 6h1v1h-1zM176 6h1v1h-1z"/>
<path fill="#e65451" d="M81 1h1v1h-1zM180 2h1v1h-1zM110 3h1v1h-1zM151 3h1v1h-1zM177 3h1v1h-1zM92 4h1v1h-1zM99 4h1v1h-1zM130 4h1v1h-1zM136 4h1v1h-1zM164 4h1v1h-1zM48 5h1v1h-1zM177 5h1v1h-1z"/>
<path fill="#e32c2a" d="M13 0h1v1h-1zM24 0h1v1h-1zM31 0h1v1h-1zM46 1h1v1h-1zM69 3h1v1h-1zM131 3h1v1h-1zM158 3h1v1h-1zM139 4h1v1h-1zM163 4h1v1h-1zM128 6h1v1h-1zM164 6h1v1h-1z"/>
<path fill="#efeff7" d="M179 1h1v1h-1zM75 2h1v1h-1zM179 2h1v1h-1zM13 3h1v1h-1zM44 4h1v1h-1zM129 4h1v1h-1zM102 5h1v1h-1zM108 5h1v1h-1zM138 5h2v1h-2zM87 6h1v1h-1zM154 6h1v1h-1z"/>
<path fill="#fdf2f2" d="M1 1h1v1h-1zM61 1h1v1h-1zM123 1h1v1h-1zM44 2h1v1h-1zM152 2h1v1h-1zM130 3h1v1h-1zM48 4h1v1h-1zM171 4h1v1h-1zM123 5h1v1h-1zM167 5h1v1h-1z"/>
<path fill="#fceded" d="M6 1h1v1h-1zM162 2h1v1h-1zM48 3h1v1h-1zM123 4h1v1h-1zM138 4h1v1h-1zM30 5h1v1h-1zM34 5h1v1h-1zM27 6h1v1h-1zM69 6h1v1h-1zM174 6h1v1h-1z"/>
<path fill="#e8e8f4" d="M9 1h1v1h-1zM118 1h1v1h-1zM138 1h1v1h-1zM41 2h1v1h-1zM150 2h1v1h-1zM23 3h1v1h-1zM29 3h1v1h-1zM106 3h1v1h-1zM77 6h1v1h-1zM125 6h1v1h-1z"/>
<path fill="#f8d6d7" d="M53 1h1v1h-1zM115 1h1v1h-1zM5 2h1v1h-1zM24 2h1v1h-1zM88 2h1v1h-1zM8 3h1v1h-1zM22 4h1v1h-1zM169 4h1v1h-1zM47 6h1v1h-1zM108 6h1v1h-1z"/>
<path fill="#fcefef" d="M31 1h1v1h-1zM84 2h1v1h-1zM144 3h1v1h-1zM66 4h1v1h-1zM95 4h1v1h-1zM103 4h1v1h-1zM178 4h1v1h-1zM132 5h1v1h-1zM175 6h1v1h-1z"/>
<path fill="#ed8e8f" d="M37 1h1v1h-1zM47 1h1v1h-1zM49 1h1v1h-1zM109 3h1v1h-1zM114 3h1v1h-1zM133 3h1v1h-1zM142 3h1v1h-1zM161 3h1v1h-1zM143 6h1v1h-1z"/>
<path fill="#e97172" d="M14 1h1v1h-1zM67 1h1v1h-1zM110 1h1v1h-1zM116 2h1v1h-1zM136 2h1v1h-1zM171 2h1v1h-1zM182 3h1v1h-1zM157 6h1v1h-1z"/>
<path fill="#ebebf6" d="M15 1h1v1h-1zM83 2h1v1h-1zM133 2h1v1h-1zM171 3h1v1h-1zM119 4h1v1h-1zM131 4h1v1h-1zM1 5h1v1h-1zM44 6h1v1h-1z"/>
<path fill="#8285c0" d="M143 1h1v1h-1zM161 1h1v1h-1zM182 1h1v1h-1zM108 2h1v1h-1zM130 2h1v1h-1zM173 2h1v1h-1zM146 3h1v1h-1zM148 3h1v1h-1z"/>
<path fill="#e86a6a" d="M19 1h1v1h-1zM106 1h1v1h-1zM140 1h1v1h-1zM134 3h1v1h-1zM179 3h1v1h-1zM161 6h1v1h-1zM165 6h1v1h-1z"/>
<path fill="#7a7dbc" d="M22 1h1v1h-1zM163 1h1v1h-1zM172 1h1v1h-1zM175 1h1v1h-1zM87 2h1v1h-1zM47 3h1v1h-1zM180 3h1v1h-1z"/>
<path fill="#ee9495" d="M104 1h1v1h-1zM109 2h1v1h-1zM119 2h1v1h-1zM159 3h1v1h-1zM176 5h1v1h-1zM158 6h1v1h-1zM169 6h1v1h-1z"/>
<path fill="#7276b8" d="M120 1h1v1h-1zM136 1h1v1h-1zM146 1h1v1h-1zM149 1h1v1h-1zM171 1h1v1h-1zM47 2h1v1h-1zM0 3h1v1h-1z"/>
<path fill="#6b6eb4" d="M153 1h1v1h-1zM165 1h1v1h-1zM184 1h1v1h-1zM4 2h1v1h-1zM71 2h1v1h-1zM32 3h1v1h-1zM70 3h1v1h-1z"/>
<path fill="#e4e4f2" d="M158 1h1v1h-1zM131 2h1v1h-1zM184 2h1v1h-1zM112 3h1v1h-1zM116 3h1v1h-1zM10 6h1v1h-1zM70 6h1v1h-1z"/>
<path fill="#e3201f" d="M41 0h1v1h-1zM74 1h1v1h-1zM128 1h1v1h-1zM167 2h1v1h-1zM90 4h1v1h-1zM127 6h1v1h-1z"/>
<path fill="#fcf0f1" d="M168 1h1v1h-1zM14 2h1v1h-1zM12 3h1v1h-1zM21 3h1v1h-1zM153 3h1v1h-1zM174 5h1v1h-1z"/>
<path fill="#fae4e5" d="M5 1h1v1h-1zM125 1h1v1h-1zM103 2h1v1h-1zM153 2h1v1h-1zM118 3h1v1h-1z"/>
<path fill="#ec8788" d="M55 1h1v1h-1zM146 2h1v1h-1zM173 3h1v1h-1zM176 3h1v1h-1zM148 6h1v1h-1z"/>
<path fill="#e86362" d="M77 1h1v1h-1zM52 2h1v1h-1zM125 3h1v1h-1zM127 3h1v1h-1zM163 6h1v1h-1z"/>
<path fill="#fbe9ea" d="M55 2h1v1h-1zM28 4h1v1h-1zM26 5h1v1h-1zM103 5h1v1h-1zM8 6h1v1h-1z"/>
<path fill="#e75c5a" d="M177 2h1v1h-1zM74 3h1v1h-1zM57 6h1v1h-1zM132 6h1v1h-1zM146 6h1v1h-1z"/>
<path fill="#d3d3e9" d="M60 1h1v1h-1zM78 2h1v1h-1zM51 3h1v1h-1zM95 3h1v1h-1z"/>
<path fill="#4958a6" d="M142 1h1v1h-1zM162 1h1v1h-1zM169 1h1v1h-1zM178 1h1v1h-1z"/>
<path fill="#fcebec" d="M81 2h1v1h-1zM12 5h1v1h-1zM104 5h1v1h-1zM181 6h1v1h-1z"/>
<path fill="#fbe7e8" d="M101 1h1v1h-1zM112 2h1v1h-1zM155 3h1v1h-1z"/>
<path fill="#6367b0" d="M118 2h1v1h-1zM163 2h1v1h-1zM162 3h1v1h-1z"/>
<path fill="#f9dcdd" d="M60 3h1v1h-1zM97 3h1v1h-1zM60 6h1v1h-1z"/>
<path fill="#eb8081" d="M54 0h1v1h-1zM183 3h1v1h-1z"/>
<path fill="#ea7879" d="M33 1h1v1h-1zM128 2h1v1h-1z"/>
<path fill="#5c63ad" d="M62 1h1v1h-1zM174 1h1v1h-1z"/>
<path fill="#dadaed" d="M17 2h1v1h-1zM35 2h1v1h-1z"/>
<path fill="#fae2e3" d="M65 1h1v1h-1z"/>
<path fill="#fbe6e6" d="M130 1h1v1h-1z"/>
<path fill="#565eab" d="M170 1h1v1h-1z"/>
<path fill="#dedeee" d="M7 2h1v1h-1z"/>
</g>
<text x="1614.7" y="726.4" font-size="26.4">NK cells</text>
<text x="993.5" y="727.8" font-size="44" text-anchor="end">*</text>
<text x="1614.7" y="767" font-size="26.4">NKT</text>
<text x="993.5" y="768.8" font-size="44" text-anchor="end">**</text>
<text x="1614.7" y="808.7" font-size="26.4">CD4+ T&#8722;cells</text>
<text x="993.5" y="809.8" font-size="44" text-anchor="end">****</text>
<text x="1614.7" y="846.3" font-size="26.4">CD4+ memory T-cells</text>
<text x="993.5" y="850.8" font-size="44" text-anchor="end">****</text>
<text x="1614.7" y="891" font-size="26.4">CD8+ T&#8722;cells</text>
<text x="993.5" y="891.8" font-size="44" text-anchor="end">**</text>
<text x="1614.7" y="929.2" font-size="26.4">CD8+ Tem</text>
<text x="993.5" y="932.8" font-size="44" text-anchor="end">**</text>
<text x="1614.7" y="970.9" font-size="26.4">Macrophages</text>
<text x="993.5" y="973.8" font-size="44" text-anchor="end">****</text>
<text x="1706.2" y="1013.3" font-size="23.4" text-anchor="middle">Z score</text>
<rect x="1623.3" y="1019.3" width="4.5" height="11.6" fill="#1f4a9e"/>
<rect x="1627.5" y="1019.3" width="4.5" height="11.6" fill="#214b9f"/>
<rect x="1631.7" y="1019.3" width="4.5" height="11.6" fill="#274c9f"/>
<rect x="1635.9" y="1019.3" width="4.5" height="11.6" fill="#2b4da0"/>
<rect x="1640.1" y="1019.3" width="4.5" height="11.6" fill="#3350a1"/>
<rect x="1644.3" y="1019.3" width="4.5" height="11.6" fill="#3851a2"/>
<rect x="1648.5" y="1019.3" width="4.5" height="11.6" fill="#4355a5"/>
<rect x="1652.7" y="1019.3" width="4.5" height="11.6" fill="#4958a6"/>
<rect x="1656.9" y="1019.3" width="4.5" height="11.6" fill="#565eab"/>
<rect x="1661.1" y="1019.3" width="4.5" height="11.6" fill="#5c63ad"/>
<rect x="1665.2" y="1019.3" width="4.5" height="11.6" fill="#6b6eb4"/>
<rect x="1669.4" y="1019.3" width="4.5" height="11.6" fill="#7276b8"/>
<rect x="1673.6" y="1019.3" width="4.5" height="11.6" fill="#8285c0"/>
<rect x="1677.8" y="1019.3" width="4.5" height="11.6" fill="#8a8dc4"/>
<rect x="1682" y="1019.3" width="4.5" height="11.6" fill="#9d9fcd"/>
<rect x="1686.2" y="1019.3" width="4.5" height="11.6" fill="#a7a9d3"/>
<rect x="1690.4" y="1019.3" width="4.5" height="11.6" fill="#bdbede"/>
<rect x="1694.6" y="1019.3" width="4.5" height="11.6" fill="#c8c8e3"/>
<rect x="1698.8" y="1019.3" width="4.5" height="11.6" fill="#dadaed"/>
<rect x="1703" y="1019.3" width="4.5" height="11.6" fill="#ebebf6"/>
<rect x="1713.9" y="1019.3" width="4.2" height="11.6" fill="#fcf0f1"/>
<rect x="1717.8" y="1019.3" width="4.2" height="11.6" fill="#fbe6e6"/>
<rect x="1721.6" y="1019.3" width="4.2" height="11.6" fill="#f9dcdd"/>
<rect x="1725.5" y="1019.3" width="4.2" height="11.6" fill="#f8d6d7"/>
<rect x="1729.3" y="1019.3" width="4.2" height="11.6" fill="#f6c9ca"/>
<rect x="1733.2" y="1019.3" width="4.2" height="11.6" fill="#f4c2c3"/>
<rect x="1737.1" y="1019.3" width="4.2" height="11.6" fill="#f3b5b6"/>
<rect x="1740.9" y="1019.3" width="4.2" height="11.6" fill="#f2b0b1"/>
<rect x="1744.8" y="1019.3" width="4.2" height="11.6" fill="#f1a5a6"/>
<rect x="1748.6" y="1019.3" width="4.2" height="11.6" fill="#f0a0a1"/>
<rect x="1752.5" y="1019.3" width="4.2" height="11.6" fill="#ee9495"/>
<rect x="1756.4" y="1019.3" width="4.2" height="11.6" fill="#ed8e8f"/>
<rect x="1760.2" y="1019.3" width="4.2" height="11.6" fill="#eb8081"/>
<rect x="1764.1" y="1019.3" width="4.2" height="11.6" fill="#ea7879"/>
<rect x="1767.9" y="1019.3" width="4.2" height="11.6" fill="#e86a6a"/>
<rect x="1771.8" y="1019.3" width="4.2" height="11.6" fill="#e86362"/>
<rect x="1775.7" y="1019.3" width="4.2" height="11.6" fill="#e65451"/>
<rect x="1779.5" y="1019.3" width="4.2" height="11.6" fill="#e54b49"/>
<rect x="1783.4" y="1019.3" width="4.2" height="11.6" fill="#e43735"/>
<rect x="1787.2" y="1019.3" width="4.2" height="11.6" fill="#e32c2a"/>
<text x="1628" y="1056.6" font-size="23.4" text-anchor="middle">&#8722;3</text>
<text x="1711.5" y="1056.6" font-size="23.4" text-anchor="middle">0</text>
<text x="1791.3" y="1056.6" font-size="23.4" text-anchor="middle">3</text>
<text x="947.3" y="1122.7" font-size="54">f</text>
<rect x="990.3" y="1091.5" width="295.2" height="27.5" fill="#ebad33"/>
<rect x="1285.5" y="1091.5" width="30.4" height="27.5" fill="#7db82a"/>
<rect x="1315.9" y="1091.5" width="248.8" height="27.5" fill="#e27c6e"/>
<text x="1140.2" y="1084.6" font-size="26.4" text-anchor="middle">IGC</text>
<text x="1302.7" y="1082.9" font-size="26.4" text-anchor="middle">MGC</text>
<text x="1449" y="1084.6" font-size="26.4" text-anchor="middle">DGC</text>
<g transform="translate(990.3 1124.1) scale(3.1911 32.5000)">
<path fill="#b4c1da" d="M1 0h1v1h-1zM3 0h1v1h-1zM6 0h2v1h-2zM9 0h2v1h-2zM13 0h1v1h-1zM19 0h5v1h-5zM25 0h2v1h-2zM29 0h1v1h-1zM31 0h1v1h-1zM33 0h1v1h-1zM35 0h1v1h-1zM41 0h3v1h-3zM45 0h2v1h-2zM48 0h1v1h-1zM50 0h2v1h-2zM55 0h2v1h-2zM58 0h1v1h-1zM60 0h2v1h-2zM63 0h4v1h-4zM68 0h2v1h-2zM71 0h1v1h-1zM75 0h2v1h-2zM80 0h3v1h-3zM89 0h1v1h-1zM91 0h5v1h-5zM97 0h2v1h-2zM101 0h5v1h-5zM108 0h4v1h-4zM113 0h5v1h-5zM119 0h8v1h-8zM131 0h1v1h-1zM136 0h1v1h-1zM142 0h1v1h-1zM150 0h1v1h-1zM154 0h2v1h-2zM158 0h1v1h-1zM160 0h3v1h-3zM165 0h1v1h-1zM167 0h1v1h-1zM170 0h1v1h-1zM172 0h1v1h-1zM174 0h1v1h-1zM178 0h2v1h-2zM32 2h1v1h-1zM44 2h1v1h-1zM49 2h1v1h-1zM61 2h1v1h-1zM64 2h1v1h-1zM67 2h1v1h-1zM76 2h1v1h-1zM88 2h1v1h-1zM108 2h1v1h-1zM169 2h1v1h-1z"/>
<path fill="#d2dae9" d="M1 1h15v1h-15zM18 1h1v1h-1zM20 1h1v1h-1zM23 1h2v1h-2zM26 1h6v1h-6zM33 1h6v1h-6zM40 1h11v1h-11zM52 1h3v1h-3zM56 1h1v1h-1zM58 1h2v1h-2zM61 1h1v1h-1zM63 1h8v1h-8zM73 1h2v1h-2zM77 1h1v1h-1zM80 1h1v1h-1zM82 1h2v1h-2zM85 1h1v1h-1zM88 1h2v1h-2zM91 1h2v1h-2zM94 1h5v1h-5zM100 1h2v1h-2zM104 1h1v1h-1zM107 1h7v1h-7zM115 1h1v1h-1zM117 1h14v1h-14zM132 1h1v1h-1zM135 1h3v1h-3zM139 1h1v1h-1zM152 1h1v1h-1zM156 1h1v1h-1zM158 1h1v1h-1zM162 1h18v1h-18zM89 2h1v1h-1zM97 2h1v1h-1zM128 2h1v1h-1z"/>
<path fill="#f6c9ca" d="M36 0h1v1h-1zM47 0h1v1h-1zM53 0h1v1h-1zM78 0h1v1h-1zM149 0h1v1h-1zM25 1h1v1h-1zM39 1h1v1h-1zM55 1h1v1h-1zM87 1h1v1h-1zM141 1h2v1h-2zM12 2h1v1h-1zM16 2h1v1h-1zM21 2h1v1h-1zM36 2h1v1h-1zM52 2h1v1h-1zM111 2h1v1h-1zM156 2h1v1h-1zM176 2h1v1h-1z"/>
<path fill="#f7d0d1" d="M39 0h1v1h-1zM72 0h1v1h-1zM99 0h1v1h-1zM151 0h1v1h-1zM159 0h1v1h-1zM168 0h1v1h-1zM171 0h1v1h-1zM22 1h1v1h-1zM60 1h1v1h-1zM79 1h1v1h-1zM81 1h1v1h-1zM20 2h1v1h-1zM46 2h1v1h-1zM55 2h1v1h-1zM100 2h1v1h-1zM112 2h1v1h-1zM144 2h1v1h-1z"/>
<path fill="#f1a5a6" d="M2 0h1v1h-1zM14 0h1v1h-1zM96 0h1v1h-1zM100 0h1v1h-1zM175 0h1v1h-1zM0 1h1v1h-1zM62 1h1v1h-1zM133 1h2v1h-2zM144 1h1v1h-1zM149 1h1v1h-1zM157 1h1v1h-1zM34 2h1v1h-1zM91 2h1v1h-1zM152 2h1v1h-1zM155 2h1v1h-1z"/>
<path fill="#f3bbbc" d="M27 0h1v1h-1zM106 0h1v1h-1zM135 0h1v1h-1zM163 0h1v1h-1zM16 1h1v1h-1zM75 1h1v1h-1zM153 1h1v1h-1zM2 2h1v1h-1zM17 2h2v1h-2zM70 2h1v1h-1zM79 2h1v1h-1zM102 2h1v1h-1zM141 2h1v1h-1zM147 2h1v1h-1zM161 2h1v1h-1z"/>
<path fill="#f2b0b1" d="M34 0h1v1h-1zM38 0h1v1h-1zM62 0h1v1h-1zM134 0h1v1h-1zM164 0h1v1h-1zM57 1h1v1h-1zM84 1h1v1h-1zM106 1h1v1h-1zM28 2h1v1h-1zM42 2h1v1h-1zM69 2h1v1h-1zM73 2h1v1h-1zM81 2h1v1h-1zM127 2h1v1h-1zM143 2h1v1h-1z"/>
<path fill="#f2aaab" d="M0 0h1v1h-1zM79 0h1v1h-1zM85 0h2v1h-2zM129 0h1v1h-1zM133 0h1v1h-1zM137 0h1v1h-1zM71 1h1v1h-1zM76 1h1v1h-1zM140 1h1v1h-1zM3 2h1v1h-1zM56 2h2v1h-2zM93 2h1v1h-1zM101 2h1v1h-1zM159 2h2v1h-2z"/>
<path fill="#f4c2c3" d="M52 0h1v1h-1zM88 0h1v1h-1zM130 0h1v1h-1zM138 0h2v1h-2zM153 0h1v1h-1zM102 1h2v1h-2zM105 1h1v1h-1zM160 1h1v1h-1zM15 2h1v1h-1zM41 2h1v1h-1zM63 2h1v1h-1zM122 2h1v1h-1zM158 2h1v1h-1z"/>
<path fill="#f3b5b6" d="M17 0h1v1h-1zM24 0h1v1h-1zM112 0h1v1h-1zM152 0h1v1h-1zM166 0h1v1h-1zM177 0h1v1h-1zM17 1h1v1h-1zM86 1h1v1h-1zM147 1h1v1h-1zM58 2h1v1h-1zM66 2h1v1h-1zM84 2h1v1h-1z"/>
<path fill="#fceeee" d="M107 0h1v1h-1zM173 0h1v1h-1zM6 2h1v1h-1zM11 2h1v1h-1zM25 2h1v1h-1zM38 2h1v1h-1zM114 2h1v1h-1zM123 2h1v1h-1zM126 2h1v1h-1zM145 2h1v1h-1zM163 2h1v1h-1zM179 2h1v1h-1z"/>
<path fill="#f8f9fb" d="M77 0h1v1h-1zM128 0h1v1h-1zM145 0h1v1h-1zM9 2h2v1h-2zM78 2h1v1h-1zM87 2h1v1h-1zM110 2h1v1h-1zM121 2h1v1h-1zM129 2h1v1h-1zM148 2h1v1h-1zM164 2h1v1h-1z"/>
<path fill="#fbe8e9" d="M118 0h1v1h-1zM1 2h1v1h-1zM23 2h1v1h-1zM26 2h1v1h-1zM50 2h1v1h-1zM74 2h1v1h-1zM106 2h1v1h-1zM136 2h1v1h-1zM140 2h1v1h-1zM142 2h1v1h-1zM170 2h1v1h-1z"/>
<path fill="#f8d6d7" d="M8 0h1v1h-1zM18 0h1v1h-1zM87 0h1v1h-1zM176 0h1v1h-1zM19 1h1v1h-1zM78 1h1v1h-1zM5 2h1v1h-1zM53 2h1v1h-1zM71 2h2v1h-2zM80 2h1v1h-1z"/>
<path fill="#f0a0a1" d="M15 0h1v1h-1zM37 0h1v1h-1zM74 0h1v1h-1zM132 0h1v1h-1zM148 0h1v1h-1zM68 2h1v1h-1zM118 2h1v1h-1zM125 2h1v1h-1zM157 2h1v1h-1z"/>
<path fill="#ec8788" d="M59 0h1v1h-1zM147 0h1v1h-1zM51 1h1v1h-1zM90 1h1v1h-1zM150 1h1v1h-1zM155 1h1v1h-1zM159 1h1v1h-1zM51 2h1v1h-1zM174 2h1v1h-1z"/>
<path fill="#ea7879" d="M73 0h1v1h-1zM83 0h1v1h-1zM143 0h1v1h-1zM146 0h1v1h-1zM169 0h1v1h-1zM21 1h1v1h-1zM72 1h1v1h-1zM145 1h1v1h-1zM0 2h1v1h-1z"/>
<path fill="#eb8081" d="M5 0h1v1h-1zM11 0h1v1h-1zM54 0h1v1h-1zM93 1h1v1h-1zM146 1h1v1h-1zM117 2h1v1h-1zM124 2h1v1h-1z"/>
<path fill="#fdf4f4" d="M16 0h1v1h-1zM28 0h1v1h-1zM32 0h1v1h-1zM39 2h1v1h-1zM104 2h1v1h-1zM167 2h1v1h-1zM171 2h1v1h-1z"/>
<path fill="#ed8e8f" d="M30 0h1v1h-1zM116 1h1v1h-1zM143 1h1v1h-1zM45 2h1v1h-1zM96 2h1v1h-1zM134 2h1v1h-1zM178 2h1v1h-1z"/>
<path fill="#a5b5d3" d="M13 2h1v1h-1zM31 2h1v1h-1zM43 2h1v1h-1zM86 2h1v1h-1zM92 2h1v1h-1zM120 2h1v1h-1zM162 2h1v1h-1z"/>
<path fill="#acbbd6" d="M24 2h1v1h-1zM90 2h1v1h-1zM94 2h1v1h-1zM131 2h1v1h-1zM135 2h1v1h-1zM139 2h1v1h-1zM165 2h1v1h-1z"/>
<path fill="#e97172" d="M67 0h1v1h-1zM144 0h1v1h-1zM156 0h1v1h-1zM32 1h1v1h-1zM14 2h1v1h-1zM85 2h1v1h-1z"/>
<path fill="#9eaecf" d="M30 2h1v1h-1zM107 2h1v1h-1zM132 2h1v1h-1zM149 2h1v1h-1zM168 2h1v1h-1zM172 2h1v1h-1z"/>
<path fill="#f0f3f8" d="M12 0h1v1h-1zM33 2h1v1h-1zM75 2h1v1h-1zM133 2h1v1h-1zM153 2h1v1h-1z"/>
<path fill="#ef9b9c" d="M44 0h1v1h-1zM57 0h1v1h-1zM70 0h1v1h-1zM127 0h1v1h-1zM140 0h1v1h-1z"/>
<path fill="#e86a6a" d="M49 0h1v1h-1zM84 0h1v1h-1zM141 0h1v1h-1zM7 2h1v1h-1zM60 2h1v1h-1z"/>
<path fill="#4b6aa6" d="M90 0h1v1h-1zM99 1h1v1h-1zM131 1h1v1h-1zM148 1h1v1h-1zM8 2h1v1h-1z"/>
<path fill="#dae0ec" d="M47 2h1v1h-1zM54 2h1v1h-1zM77 2h1v1h-1zM99 2h1v1h-1zM146 2h1v1h-1z"/>
<path fill="#3c5e9f" d="M4 0h1v1h-1zM161 1h1v1h-1zM37 2h1v1h-1zM103 2h1v1h-1z"/>
<path fill="#617db1" d="M114 1h1v1h-1zM151 1h1v1h-1zM154 1h1v1h-1zM119 2h1v1h-1z"/>
<path fill="#5270aa" d="M138 1h1v1h-1zM29 2h1v1h-1zM98 2h1v1h-1zM105 2h1v1h-1z"/>
<path fill="#c3cde1" d="M22 2h1v1h-1zM35 2h1v1h-1zM59 2h1v1h-1zM151 2h1v1h-1z"/>
<path fill="#bcc7de" d="M62 2h1v1h-1zM115 2h1v1h-1zM173 2h1v1h-1z"/>
<path fill="#4464a2" d="M116 2h1v1h-1zM137 2h1v1h-1zM177 2h1v1h-1z"/>
<path fill="#e86362" d="M40 0h1v1h-1zM157 0h1v1h-1z"/>
<path fill="#96a8cb" d="M4 2h1v1h-1zM113 2h1v1h-1z"/>
<path fill="#ee9495" d="M19 2h1v1h-1zM65 2h1v1h-1z"/>
<path fill="#fae2e3" d="M27 2h1v1h-1zM95 2h1v1h-1z"/>
<path fill="#cad4e5" d="M82 2h2v1h-2zM138 2h1v1h-1z"/>
<path fill="#788fbc" d="M109 2h1v1h-1zM175 2h1v1h-1z"/>
<path fill="#f9dcdd" d="M150 2h1v1h-1zM166 2h1v1h-1z"/>
<path fill="#6983b5" d="M40 2h1v1h-1z"/>
<path fill="#5a77ae" d="M48 2h1v1h-1z"/>
<path fill="#e8ecf4" d="M130 2h1v1h-1z"/>
<path fill="#7089b9" d="M154 2h1v1h-1z"/>
</g>
<g transform="translate(990.3 1229.3) scale(3.1911 32.3700)">
<path fill="#d2dae9" d="M1 0h12v1h-12zM14 0h4v1h-4zM20 0h2v1h-2zM23 0h1v1h-1zM25 0h1v1h-1zM28 0h9v1h-9zM38 0h7v1h-7zM46 0h2v1h-2zM49 0h33v1h-33zM83 0h1v1h-1zM85 0h1v1h-1zM88 0h7v1h-7zM96 0h3v1h-3zM100 0h1v1h-1zM102 0h2v1h-2zM105 0h1v1h-1zM110 0h1v1h-1zM112 0h1v1h-1zM115 0h1v1h-1zM119 0h2v1h-2zM122 0h2v1h-2zM130 0h4v1h-4zM135 0h4v1h-4zM141 0h3v1h-3zM145 0h1v1h-1zM147 0h1v1h-1zM150 0h1v1h-1zM152 0h2v1h-2zM157 0h1v1h-1zM161 0h1v1h-1zM163 0h3v1h-3zM168 0h2v1h-2zM173 0h3v1h-3zM177 0h1v1h-1zM179 0h1v1h-1z"/>
<path fill="#e8ecf4" d="M0 1h106v1h-106zM107 1h2v1h-2zM110 1h3v1h-3zM115 1h3v1h-3zM120 1h1v1h-1zM122 1h4v1h-4zM127 1h10v1h-10zM138 1h8v1h-8zM148 1h4v1h-4zM154 1h2v1h-2zM157 1h7v1h-7zM165 1h1v1h-1zM167 1h3v1h-3zM172 1h6v1h-6zM179 1h1v1h-1z"/>
<path fill="#e43735" d="M113 1h1v1h-1zM118 1h2v1h-2zM126 1h1v1h-1zM146 1h1v1h-1zM156 1h1v1h-1zM164 1h1v1h-1zM170 1h1v1h-1zM133 2h1v1h-1zM139 2h1v1h-1zM151 2h1v1h-1zM155 2h1v1h-1zM158 2h1v1h-1zM162 2h1v1h-1zM169 2h1v1h-1z"/>
<path fill="#e1e6f0" d="M0 2h84v1h-84zM85 2h32v1h-32zM118 2h15v1h-15zM134 2h5v1h-5zM140 2h1v1h-1zM142 2h8v1h-8zM152 2h3v1h-3zM156 2h2v1h-2zM159 2h3v1h-3zM163 2h6v1h-6zM170 2h9v1h-9z"/>
<path fill="#e32c2a" d="M106 1h1v1h-1zM109 1h1v1h-1zM137 1h1v1h-1zM147 1h1v1h-1zM152 1h1v1h-1zM166 1h1v1h-1zM178 1h1v1h-1zM141 2h1v1h-1zM150 2h1v1h-1zM179 2h1v1h-1z"/>
<path fill="#f3b5b6" d="M0 0h1v1h-1zM19 0h1v1h-1zM107 0h1v1h-1zM111 0h1v1h-1zM116 0h1v1h-1zM127 0h1v1h-1zM139 0h1v1h-1zM170 0h1v1h-1zM172 0h1v1h-1z"/>
<path fill="#f2b0b1" d="M13 0h1v1h-1zM86 0h1v1h-1zM134 0h1v1h-1zM144 0h1v1h-1zM176 0h1v1h-1z"/>
<path fill="#f3bbbc" d="M22 0h1v1h-1zM37 0h1v1h-1zM108 0h1v1h-1zM118 0h1v1h-1z"/>
<path fill="#f4c2c3" d="M26 0h1v1h-1zM128 0h1v1h-1zM140 0h1v1h-1zM155 0h1v1h-1z"/>
<path fill="#f0a0a1" d="M27 0h1v1h-1zM48 0h1v1h-1zM106 0h1v1h-1zM167 0h1v1h-1z"/>
<path fill="#e97172" d="M124 0h1v1h-1zM126 0h1v1h-1zM151 0h1v1h-1z"/>
<path fill="#ef9b9c" d="M158 0h1v1h-1zM160 0h1v1h-1zM162 0h1v1h-1z"/>
<path fill="#e3201f" d="M114 1h1v1h-1zM84 2h1v1h-1zM117 2h1v1h-1z"/>
<path fill="#e44340" d="M121 1h1v1h-1zM153 1h1v1h-1zM171 1h1v1h-1z"/>
<path fill="#f1a5a6" d="M18 0h1v1h-1zM45 0h1v1h-1z"/>
<path fill="#f2aaab" d="M24 0h1v1h-1zM166 0h1v1h-1z"/>
<path fill="#254b94" d="M82 0h1v1h-1zM99 0h1v1h-1z"/>
<path fill="#1e4590" d="M84 0h1v1h-1zM95 0h1v1h-1z"/>
<path fill="#e86362" d="M113 0h1v1h-1zM159 0h1v1h-1z"/>
<path fill="#e86a6a" d="M114 0h1v1h-1zM154 0h1v1h-1z"/>
<path fill="#fbe8e9" d="M117 0h1v1h-1zM148 0h1v1h-1z"/>
<path fill="#ea7879" d="M125 0h1v1h-1zM171 0h1v1h-1z"/>
<path fill="#eb8081" d="M129 0h1v1h-1zM178 0h1v1h-1z"/>
<path fill="#34589b" d="M87 0h1v1h-1z"/>
<path fill="#3c5e9f" d="M101 0h1v1h-1z"/>
<path fill="#f6c9ca" d="M104 0h1v1h-1z"/>
<path fill="#ee9495" d="M109 0h1v1h-1z"/>
<path fill="#ec8788" d="M121 0h1v1h-1z"/>
<path fill="#fdf4f4" d="M146 0h1v1h-1z"/>
<path fill="#e75c5a" d="M149 0h1v1h-1z"/>
<path fill="#f8f9fb" d="M156 0h1v1h-1z"/>
</g>
<g transform="translate(990.3 1334.6) scale(3.1911 32.4000)">
<path fill="#fdf4f4" d="M2 0h1v1h-1zM5 0h1v1h-1zM9 0h1v1h-1zM17 0h1v1h-1zM52 0h1v1h-1zM79 0h1v1h-1zM82 0h1v1h-1zM89 0h1v1h-1zM113 0h1v1h-1zM117 0h1v1h-1zM151 0h1v1h-1zM159 0h1v1h-1zM5 1h1v1h-1zM11 1h1v1h-1zM28 1h1v1h-1zM36 1h1v1h-1zM51 1h1v1h-1zM90 1h1v1h-1zM110 1h2v1h-2zM118 1h1v1h-1zM127 1h1v1h-1zM153 1h1v1h-1zM158 1h1v1h-1zM163 1h1v1h-1zM173 1h2v1h-2z"/>
<path fill="#fceeee" d="M13 0h1v1h-1zM31 0h1v1h-1zM84 0h1v1h-1zM125 0h1v1h-1zM140 0h1v1h-1zM165 0h1v1h-1zM169 0h1v1h-1zM0 1h1v1h-1zM2 1h1v1h-1zM50 1h1v1h-1zM62 1h1v1h-1zM77 1h1v1h-1zM87 1h1v1h-1zM99 1h1v1h-1zM106 1h1v1h-1zM135 1h2v1h-2zM149 1h1v1h-1zM175 1h1v1h-1z"/>
<path fill="#bcc7de" d="M0 0h1v1h-1zM61 0h1v1h-1zM72 0h1v1h-1zM85 0h3v1h-3zM122 0h1v1h-1zM126 0h1v1h-1zM143 0h1v1h-1zM164 0h1v1h-1zM172 0h1v1h-1zM42 1h1v1h-1zM48 1h1v1h-1zM72 1h1v1h-1zM81 1h1v1h-1zM119 1h1v1h-1zM129 1h1v1h-1zM165 1h1v1h-1zM176 1h1v1h-1z"/>
<path fill="#b4c1da" d="M8 0h1v1h-1zM68 0h1v1h-1zM95 0h1v1h-1zM100 0h1v1h-1zM103 0h1v1h-1zM106 0h1v1h-1zM154 0h1v1h-1zM177 0h1v1h-1zM3 1h1v1h-1zM16 1h1v1h-1zM98 1h1v1h-1zM134 1h1v1h-1zM138 1h1v1h-1zM164 1h1v1h-1zM170 1h1v1h-1zM179 1h1v1h-1z"/>
<path fill="#cad4e5" d="M10 0h1v1h-1zM23 0h1v1h-1zM26 0h1v1h-1zM38 0h1v1h-1zM81 0h1v1h-1zM114 0h1v1h-1zM130 0h1v1h-1zM176 0h1v1h-1zM8 1h1v1h-1zM18 1h1v1h-1zM27 1h1v1h-1zM39 1h1v1h-1zM44 1h1v1h-1zM56 1h2v1h-2zM96 1h1v1h-1zM130 1h1v1h-1z"/>
<path fill="#f0f3f8" d="M40 0h1v1h-1zM70 0h1v1h-1zM132 0h1v1h-1zM138 0h1v1h-1zM19 1h1v1h-1zM23 1h1v1h-1zM60 1h1v1h-1zM64 1h1v1h-1zM73 1h1v1h-1zM89 1h1v1h-1zM93 1h1v1h-1zM114 1h1v1h-1zM126 1h1v1h-1zM152 1h1v1h-1zM154 1h1v1h-1zM157 1h1v1h-1z"/>
<path fill="#f4c2c3" d="M51 0h1v1h-1zM92 0h1v1h-1zM110 0h1v1h-1zM118 0h2v1h-2zM144 0h1v1h-1zM146 0h1v1h-1zM166 0h1v1h-1zM168 0h1v1h-1zM170 0h1v1h-1zM21 1h1v1h-1zM59 1h1v1h-1zM97 1h1v1h-1zM101 1h1v1h-1zM103 1h1v1h-1zM108 1h1v1h-1zM171 1h1v1h-1z"/>
<path fill="#f3bbbc" d="M11 0h1v1h-1zM32 0h2v1h-2zM35 0h1v1h-1zM42 0h1v1h-1zM77 0h1v1h-1zM80 0h1v1h-1zM131 0h1v1h-1zM149 0h1v1h-1zM179 0h1v1h-1zM67 1h1v1h-1zM102 1h1v1h-1zM122 1h1v1h-1zM124 1h1v1h-1zM159 1h1v1h-1z"/>
<path fill="#c3cde1" d="M36 0h2v1h-2zM53 0h1v1h-1zM57 0h1v1h-1zM69 0h1v1h-1zM76 0h1v1h-1zM128 0h1v1h-1zM147 0h1v1h-1zM152 0h1v1h-1zM4 1h1v1h-1zM79 1h1v1h-1zM105 1h1v1h-1zM115 1h1v1h-1zM123 1h1v1h-1zM150 1h2v1h-2z"/>
<path fill="#f8d6d7" d="M7 0h1v1h-1zM20 0h1v1h-1zM22 0h1v1h-1zM65 0h1v1h-1zM101 0h1v1h-1zM112 0h1v1h-1zM148 0h1v1h-1zM83 1h1v1h-1zM128 1h1v1h-1zM143 1h1v1h-1zM160 1h1v1h-1zM172 1h1v1h-1zM177 1h1v1h-1z"/>
<path fill="#f8f9fb" d="M28 0h1v1h-1zM59 0h2v1h-2zM90 0h1v1h-1zM99 0h1v1h-1zM142 0h1v1h-1zM15 1h1v1h-1zM38 1h1v1h-1zM49 1h1v1h-1zM76 1h1v1h-1zM78 1h1v1h-1zM112 1h1v1h-1zM117 1h1v1h-1zM178 1h1v1h-1z"/>
<path fill="#f6c9ca" d="M34 0h1v1h-1zM104 0h1v1h-1zM115 0h1v1h-1zM120 0h1v1h-1zM137 0h1v1h-1zM156 0h1v1h-1zM25 1h1v1h-1zM33 1h1v1h-1zM58 1h1v1h-1zM107 1h1v1h-1zM140 1h2v1h-2zM144 1h1v1h-1zM161 1h1v1h-1z"/>
<path fill="#dae0ec" d="M6 0h1v1h-1zM50 0h1v1h-1zM74 0h1v1h-1zM116 0h1v1h-1zM129 0h1v1h-1zM150 0h1v1h-1zM1 1h1v1h-1zM6 1h1v1h-1zM9 1h1v1h-1zM82 1h1v1h-1zM120 1h1v1h-1zM125 1h1v1h-1z"/>
<path fill="#d2dae9" d="M16 0h1v1h-1zM18 0h1v1h-1zM41 0h1v1h-1zM44 0h1v1h-1zM66 0h1v1h-1zM107 0h1v1h-1zM163 0h1v1h-1zM13 1h1v1h-1zM66 1h1v1h-1zM84 1h1v1h-1zM91 1h1v1h-1zM142 1h1v1h-1z"/>
<path fill="#f2aaab" d="M14 0h1v1h-1zM25 0h1v1h-1zM27 0h1v1h-1zM62 0h1v1h-1zM105 0h1v1h-1zM124 0h1v1h-1zM134 0h1v1h-1zM136 0h1v1h-1zM178 0h1v1h-1zM20 1h1v1h-1zM24 1h1v1h-1z"/>
<path fill="#f3b5b6" d="M19 0h1v1h-1zM153 0h1v1h-1zM161 0h1v1h-1zM17 1h1v1h-1zM35 1h1v1h-1zM47 1h1v1h-1zM109 1h1v1h-1zM113 1h1v1h-1zM116 1h1v1h-1zM166 1h1v1h-1zM168 1h1v1h-1z"/>
<path fill="#ef9b9c" d="M21 0h1v1h-1zM30 0h1v1h-1zM63 0h1v1h-1zM121 0h1v1h-1zM12 1h1v1h-1zM41 1h1v1h-1zM74 1h1v1h-1zM145 1h1v1h-1z"/>
<path fill="#acbbd6" d="M139 0h1v1h-1zM155 0h1v1h-1zM46 1h1v1h-1zM53 1h1v1h-1zM69 1h1v1h-1zM133 1h1v1h-1zM147 1h1v1h-1zM162 1h1v1h-1z"/>
<path fill="#f7d0d1" d="M3 0h1v1h-1zM24 0h1v1h-1zM48 0h1v1h-1zM93 0h1v1h-1zM158 0h1v1h-1zM37 1h1v1h-1zM40 1h1v1h-1z"/>
<path fill="#f2b0b1" d="M4 0h1v1h-1zM97 0h1v1h-1zM111 0h1v1h-1zM145 0h1v1h-1zM26 1h1v1h-1zM45 1h1v1h-1zM88 1h1v1h-1z"/>
<path fill="#788fbc" d="M1 0h1v1h-1zM12 0h1v1h-1zM78 0h1v1h-1zM71 1h1v1h-1zM92 1h1v1h-1zM104 1h1v1h-1z"/>
<path fill="#fbe8e9" d="M45 0h1v1h-1zM160 0h1v1h-1zM54 1h1v1h-1zM70 1h1v1h-1zM86 1h1v1h-1zM156 1h1v1h-1z"/>
<path fill="#ed8e8f" d="M47 0h1v1h-1zM54 0h1v1h-1zM102 0h1v1h-1zM108 0h2v1h-2zM133 0h1v1h-1zM68 1h1v1h-1z"/>
<path fill="#f9dcdd" d="M46 0h1v1h-1zM127 0h1v1h-1zM100 1h1v1h-1zM121 1h1v1h-1zM148 1h1v1h-1z"/>
<path fill="#4b6aa6" d="M58 0h1v1h-1zM123 0h1v1h-1zM34 1h1v1h-1zM65 1h1v1h-1zM132 1h1v1h-1z"/>
<path fill="#7f96c0" d="M67 0h1v1h-1zM83 0h1v1h-1zM135 0h1v1h-1zM30 1h1v1h-1zM52 1h1v1h-1z"/>
<path fill="#e8ecf4" d="M10 1h1v1h-1zM22 1h1v1h-1zM55 1h1v1h-1zM63 1h1v1h-1zM155 1h1v1h-1z"/>
<path fill="#eb8081" d="M15 0h1v1h-1zM49 0h1v1h-1zM55 0h1v1h-1zM141 0h1v1h-1z"/>
<path fill="#7089b9" d="M29 0h1v1h-1zM64 0h1v1h-1zM88 0h1v1h-1zM95 1h1v1h-1z"/>
<path fill="#ea7879" d="M43 0h1v1h-1zM96 0h1v1h-1zM174 0h1v1h-1zM61 1h1v1h-1z"/>
<path fill="#f1a5a6" d="M171 0h1v1h-1zM173 0h1v1h-1zM85 1h1v1h-1zM137 1h1v1h-1z"/>
<path fill="#e1e6f0" d="M7 1h1v1h-1zM32 1h1v1h-1zM80 1h1v1h-1zM167 1h1v1h-1z"/>
<path fill="#ec8788" d="M71 0h1v1h-1zM91 0h1v1h-1zM98 0h1v1h-1z"/>
<path fill="#5a77ae" d="M94 0h1v1h-1zM167 0h1v1h-1zM94 1h1v1h-1z"/>
<path fill="#ee9495" d="M175 0h1v1h-1zM75 1h1v1h-1zM139 1h1v1h-1z"/>
<path fill="#e86a6a" d="M39 0h1v1h-1zM14 1h1v1h-1z"/>
<path fill="#6983b5" d="M56 0h1v1h-1zM162 0h1v1h-1z"/>
<path fill="#4464a2" d="M73 0h1v1h-1zM31 1h1v1h-1z"/>
<path fill="#e97172" d="M75 0h1v1h-1zM29 1h1v1h-1z"/>
<path fill="#617db1" d="M157 0h1v1h-1zM169 1h1v1h-1z"/>
<path fill="#f0a0a1" d="M43 1h1v1h-1z"/>
<path fill="#e86362" d="M131 1h1v1h-1z"/>
<path fill="#5270aa" d="M146 1h1v1h-1z"/>
</g>
<text x="1576.5" y="1145.8" font-size="25.5">RB1 Protein expression</text>
<text x="1576.5" y="1180.2" font-size="25.5">RB1_T373 phosphorylation</text>
<text x="1576.5" y="1216" font-size="25.5">RB1 TF activity</text>
<text x="1576.5" y="1257.4" font-size="25.5">E2F2</text>
<text x="1576.5" y="1290" font-size="25.5">E2F5</text>
<text x="1576.5" y="1321.5" font-size="25.5">E2F6</text>
<text x="1576.5" y="1362.1" font-size="25.5">CDK4</text>
<text x="1576.5" y="1393.5" font-size="25.5">CDK6</text>
<line x1="1666.9" y1="1230.2" x2="1666.9" y2="1322.8" stroke="#111" stroke-width="1.7"/>
<line x1="1666.9" y1="1333.6" x2="1666.9" y2="1408.4" stroke="#111" stroke-width="1.7"/>
<text x="1678.5" y="1294.8" font-size="25.5">TF activity</text>
<text x="1686.5" y="1370" font-size="25.5">Proteome</text>
<text x="-1" y="1142.2" font-size="55">g</text>
<rect x="94.1" y="1125.3" width="324.1" height="29.6" fill="#f3b229"/>
<rect x="418.2" y="1125.3" width="33" height="29.6" fill="#86bf22"/>
<rect x="451.2" y="1125.3" width="274.3" height="29.6" fill="#ee8273"/>
<text x="259" y="1115.4" font-size="27" text-anchor="middle">IGC</text>
<text x="422.3" y="1115.4" font-size="27" text-anchor="middle">MGC</text>
<text x="569.1" y="1115.4" font-size="27" text-anchor="middle">DGC</text>
<g transform="translate(94.1 1168.5) scale(3.1570 29.2000)">
<path fill="#ffffff" d="M0 0h3v1h-3zM6 0h1v1h-1zM8 0h4v1h-4zM13 0h4v1h-4zM18 0h10v1h-10zM29 0h6v1h-6zM36 0h3v1h-3zM40 0h1v1h-1zM43 0h1v1h-1zM45 0h8v1h-8zM54 0h7v1h-7zM63 0h2v1h-2zM68 0h5v1h-5zM74 0h2v1h-2zM77 0h13v1h-13zM91 0h9v1h-9zM101 0h2v1h-2zM104 0h4v1h-4zM109 0h1v1h-1zM111 0h2v1h-2zM114 0h5v1h-5zM120 0h1v1h-1zM122 0h6v1h-6zM129 0h18v1h-18zM149 0h12v1h-12zM162 0h1v1h-1zM164 0h2v1h-2zM167 0h7v1h-7zM175 0h2v1h-2zM178 0h5v1h-5zM184 0h15v1h-15zM1 1h1v1h-1zM3 1h8v1h-8zM12 1h2v1h-2zM17 1h7v1h-7zM25 1h9v1h-9zM35 1h7v1h-7zM43 1h9v1h-9zM53 1h6v1h-6zM60 1h10v1h-10zM71 1h3v1h-3zM75 1h7v1h-7zM83 1h29v1h-29zM113 1h78v1h-78zM192 1h8v1h-8z"/>
<path fill="#e43735" d="M67 0h1v1h-1zM103 0h1v1h-1zM110 0h1v1h-1zM128 0h1v1h-1zM2 1h1v1h-1zM24 1h1v1h-1zM34 1h1v1h-1zM82 1h1v1h-1zM191 1h1v1h-1z"/>
<path fill="#e97172" d="M7 0h1v1h-1zM42 0h1v1h-1zM90 0h1v1h-1zM14 1h1v1h-1zM42 1h1v1h-1zM52 1h1v1h-1zM112 1h1v1h-1z"/>
<path fill="#e86362" d="M4 0h1v1h-1zM44 0h1v1h-1zM53 0h1v1h-1zM11 1h1v1h-1zM15 1h1v1h-1z"/>
<path fill="#ea7879" d="M17 0h1v1h-1zM65 0h1v1h-1zM113 0h1v1h-1zM183 0h1v1h-1zM199 0h1v1h-1z"/>
<path fill="#e54b49" d="M28 0h1v1h-1zM35 0h1v1h-1zM61 0h1v1h-1zM100 0h1v1h-1zM119 0h1v1h-1z"/>
<path fill="#e75c5a" d="M3 0h1v1h-1zM39 0h1v1h-1zM59 1h1v1h-1zM70 1h1v1h-1z"/>
<path fill="#e44340" d="M41 0h1v1h-1zM166 0h1v1h-1zM0 1h1v1h-1zM74 1h1v1h-1z"/>
<path fill="#eb8081" d="M5 0h1v1h-1zM62 0h1v1h-1zM73 0h1v1h-1z"/>
<path fill="#e86a6a" d="M66 0h1v1h-1zM108 0h1v1h-1zM161 0h1v1h-1z"/>
<path fill="#244b9f" d="M12 0h1v1h-1zM147 0h1v1h-1z"/>
<path fill="#e32c2a" d="M76 0h1v1h-1zM121 0h1v1h-1z"/>
<path fill="#3851a2" d="M163 0h1v1h-1zM174 0h1v1h-1z"/>
<path fill="#2e4ea0" d="M148 0h1v1h-1z"/>
<path fill="#3350a1" d="M177 0h1v1h-1z"/>
<path fill="#ec8788" d="M16 1h1v1h-1z"/>
</g>
<g transform="translate(94.1 1238.1) scale(3.1570 29.3500)">
<path fill="#c8c8e3" d="M87 8h1v1h-1zM5 9h1v1h-1zM9 9h2v1h-2zM12 9h1v1h-1zM14 9h2v1h-2zM24 9h1v1h-1zM31 9h1v1h-1zM33 9h1v1h-1zM49 9h1v1h-1zM51 9h2v1h-2zM61 9h1v1h-1zM66 9h1v1h-1zM69 9h1v1h-1zM73 9h1v1h-1zM75 9h1v1h-1zM78 9h6v1h-6zM88 9h2v1h-2zM91 9h2v1h-2zM95 9h1v1h-1zM97 9h2v1h-2zM100 9h2v1h-2zM103 9h1v1h-1zM106 9h1v1h-1zM108 9h1v1h-1zM110 9h5v1h-5zM117 9h1v1h-1zM119 9h12v1h-12zM133 9h7v1h-7zM141 9h12v1h-12zM154 9h3v1h-3zM158 9h3v1h-3zM162 9h3v1h-3zM166 9h4v1h-4zM171 9h4v1h-4zM176 9h1v1h-1zM178 9h9v1h-9zM188 9h1v1h-1zM190 9h10v1h-10zM9 10h1v1h-1zM12 10h1v1h-1zM15 10h2v1h-2zM18 10h1v1h-1zM31 10h2v1h-2zM43 10h1v1h-1zM49 10h1v1h-1zM59 10h1v1h-1zM66 10h1v1h-1zM73 10h1v1h-1zM75 10h1v1h-1zM77 10h4v1h-4zM82 10h1v1h-1zM87 10h1v1h-1zM89 10h1v1h-1zM93 10h1v1h-1zM97 10h1v1h-1zM99 10h2v1h-2zM103 10h1v1h-1zM106 10h1v1h-1zM108 10h4v1h-4zM113 10h2v1h-2zM117 10h1v1h-1zM119 10h12v1h-12zM133 10h7v1h-7zM141 10h12v1h-12zM154 10h3v1h-3zM158 10h3v1h-3zM162 10h3v1h-3zM166 10h4v1h-4zM171 10h4v1h-4zM176 10h1v1h-1zM178 10h9v1h-9zM188 10h1v1h-1zM190 10h10v1h-10z"/>
<path fill="#dedeee" d="M0 4h2v1h-2zM4 4h1v1h-1zM6 4h1v1h-1zM8 4h2v1h-2zM11 4h1v1h-1zM16 4h1v1h-1zM22 4h1v1h-1zM24 4h4v1h-4zM29 4h1v1h-1zM31 4h2v1h-2zM34 4h1v1h-1zM39 4h1v1h-1zM42 4h2v1h-2zM47 4h3v1h-3zM53 4h2v1h-2zM56 4h5v1h-5zM62 4h1v1h-1zM65 4h1v1h-1zM68 4h1v1h-1zM70 4h1v1h-1zM74 4h4v1h-4zM80 4h1v1h-1zM85 4h1v1h-1zM87 4h1v1h-1zM89 4h4v1h-4zM94 4h3v1h-3zM98 4h1v1h-1zM101 4h1v1h-1zM104 4h2v1h-2zM107 4h1v1h-1zM109 4h2v1h-2zM112 4h20v1h-20zM133 4h6v1h-6zM140 4h3v1h-3zM144 4h7v1h-7zM152 4h6v1h-6zM159 4h4v1h-4zM164 4h2v1h-2zM167 4h6v1h-6zM174 4h2v1h-2zM177 4h3v1h-3zM181 4h9v1h-9zM191 4h1v1h-1zM193 4h7v1h-7zM72 10h1v1h-1zM0 11h1v1h-1zM2 11h4v1h-4zM8 11h2v1h-2zM11 11h6v1h-6zM20 11h1v1h-1zM22 11h1v1h-1zM27 11h3v1h-3zM31 11h3v1h-3zM35 11h3v1h-3zM40 11h1v1h-1zM44 11h4v1h-4zM50 11h12v1h-12zM64 11h2v1h-2zM70 11h4v1h-4zM76 11h3v1h-3zM80 11h1v1h-1zM82 11h1v1h-1zM84 11h1v1h-1zM88 11h9v1h-9zM99 11h4v1h-4zM104 11h1v1h-1zM106 11h5v1h-5zM113 11h1v1h-1zM115 11h2v1h-2zM118 11h45v1h-45zM164 11h19v1h-19zM184 11h16v1h-16z"/>
<path fill="#d3d3e9" d="M5 7h1v1h-1zM7 7h1v1h-1zM9 7h2v1h-2zM15 7h2v1h-2zM30 7h2v1h-2zM38 7h1v1h-1zM47 7h1v1h-1zM54 7h2v1h-2zM66 7h1v1h-1zM68 7h1v1h-1zM77 7h4v1h-4zM83 7h2v1h-2zM86 7h1v1h-1zM89 7h1v1h-1zM92 7h1v1h-1zM95 7h1v1h-1zM97 7h2v1h-2zM100 7h2v1h-2zM103 7h1v1h-1zM106 7h3v1h-3zM110 7h1v1h-1zM113 7h2v1h-2zM117 7h1v1h-1zM119 7h13v1h-13zM133 7h7v1h-7zM141 7h16v1h-16zM158 7h7v1h-7zM166 7h4v1h-4zM171 7h4v1h-4zM176 7h1v1h-1zM178 7h8v1h-8zM188 7h1v1h-1zM190 7h10v1h-10zM3 8h1v1h-1zM5 8h1v1h-1zM8 8h2v1h-2zM12 8h1v1h-1zM15 8h1v1h-1zM21 8h1v1h-1zM31 8h1v1h-1zM34 8h1v1h-1zM45 8h2v1h-2zM49 8h1v1h-1zM59 8h3v1h-3zM66 8h1v1h-1zM69 8h1v1h-1zM71 8h1v1h-1zM73 8h1v1h-1zM75 8h5v1h-5zM84 8h1v1h-1zM86 8h1v1h-1zM88 8h1v1h-1zM92 8h2v1h-2zM95 8h7v1h-7zM103 8h1v1h-1zM107 8h2v1h-2zM110 8h1v1h-1zM113 8h2v1h-2zM117 8h1v1h-1zM119 8h12v1h-12zM133 8h7v1h-7zM141 8h12v1h-12zM154 8h7v1h-7zM162 8h3v1h-3zM166 8h9v1h-9zM176 8h1v1h-1zM178 8h8v1h-8zM188 8h1v1h-1zM190 8h10v1h-10zM5 10h1v1h-1zM21 10h1v1h-1zM34 10h1v1h-1z"/>
<path fill="#dadaed" d="M0 0h14v1h-14zM15 0h2v1h-2zM18 0h1v1h-1zM20 0h2v1h-2zM23 0h1v1h-1zM27 0h12v1h-12zM40 0h20v1h-20zM61 0h2v1h-2zM64 0h2v1h-2zM67 0h6v1h-6zM74 0h1v1h-1zM76 0h2v1h-2zM80 0h4v1h-4zM85 0h2v1h-2zM88 0h2v1h-2zM91 0h1v1h-1zM93 0h2v1h-2zM96 0h11v1h-11zM110 0h1v1h-1zM112 0h88v1h-88zM0 5h4v1h-4zM5 5h2v1h-2zM8 5h1v1h-1zM11 5h1v1h-1zM14 5h1v1h-1zM22 5h1v1h-1zM24 5h4v1h-4zM30 5h1v1h-1zM32 5h2v1h-2zM36 5h1v1h-1zM38 5h2v1h-2zM41 5h2v1h-2zM49 5h7v1h-7zM59 5h2v1h-2zM62 5h5v1h-5zM70 5h5v1h-5zM79 5h3v1h-3zM86 5h1v1h-1zM89 5h1v1h-1zM93 5h1v1h-1zM96 5h3v1h-3zM101 5h1v1h-1zM103 5h2v1h-2zM108 5h7v1h-7zM116 5h1v1h-1zM118 5h1v1h-1zM122 5h6v1h-6zM129 5h3v1h-3zM135 5h1v1h-1zM137 5h3v1h-3zM141 5h2v1h-2zM145 5h7v1h-7zM153 5h2v1h-2zM156 5h6v1h-6zM163 5h1v1h-1zM165 5h7v1h-7zM173 5h2v1h-2zM177 5h1v1h-1zM180 5h1v1h-1zM182 5h3v1h-3zM186 5h1v1h-1zM188 5h1v1h-1zM190 5h7v1h-7zM198 5h2v1h-2zM43 7h1v1h-1zM17 9h1v1h-1zM60 9h1v1h-1z"/>
<path fill="#e4e4f2" d="M0 1h4v1h-4zM5 1h1v1h-1zM8 1h1v1h-1zM11 1h1v1h-1zM13 1h1v1h-1zM15 1h5v1h-5zM25 1h1v1h-1zM29 1h3v1h-3zM33 1h3v1h-3zM37 1h1v1h-1zM39 1h2v1h-2zM42 1h1v1h-1zM45 1h3v1h-3zM49 1h2v1h-2zM52 1h7v1h-7zM60 1h6v1h-6zM67 1h7v1h-7zM75 1h4v1h-4zM81 1h2v1h-2zM84 1h1v1h-1zM86 1h1v1h-1zM89 1h1v1h-1zM91 1h2v1h-2zM94 1h1v1h-1zM96 1h2v1h-2zM99 1h4v1h-4zM104 1h3v1h-3zM112 1h1v1h-1zM114 1h1v1h-1zM118 1h2v1h-2zM121 1h2v1h-2zM124 1h5v1h-5zM132 1h6v1h-6zM140 1h4v1h-4zM145 1h8v1h-8zM157 1h4v1h-4zM162 1h2v1h-2zM165 1h1v1h-1zM168 1h2v1h-2zM171 1h5v1h-5zM177 1h4v1h-4zM182 1h2v1h-2zM185 1h4v1h-4zM190 1h2v1h-2zM193 1h2v1h-2zM196 1h3v1h-3zM87 7h1v1h-1zM102 9h1v1h-1z"/>
<path fill="#e65451" d="M19 0h1v1h-1zM9 1h1v1h-1zM44 1h1v1h-1zM57 2h1v1h-1zM63 2h1v1h-1zM89 2h1v1h-1zM88 3h1v1h-1zM112 3h1v1h-1zM3 4h1v1h-1zM23 4h1v1h-1zM38 4h1v1h-1zM81 4h1v1h-1zM163 4h1v1h-1zM192 4h1v1h-1zM10 5h1v1h-1zM40 5h1v1h-1zM85 5h1v1h-1zM175 5h1v1h-1zM19 6h1v1h-1zM62 6h1v1h-1zM66 6h1v1h-1zM69 6h1v1h-1zM81 6h1v1h-1zM158 6h1v1h-1zM0 7h1v1h-1zM11 7h1v1h-1zM18 7h1v1h-1zM28 7h1v1h-1zM36 7h1v1h-1zM96 7h1v1h-1zM175 7h1v1h-1zM0 8h1v1h-1zM11 8h1v1h-1zM36 8h1v1h-1zM109 8h1v1h-1zM7 9h1v1h-1zM0 10h1v1h-1zM27 10h1v1h-1zM50 10h1v1h-1zM53 10h1v1h-1zM96 10h1v1h-1zM105 10h1v1h-1zM163 11h1v1h-1zM183 11h1v1h-1z"/>
<path fill="#e32c2a" d="M22 0h1v1h-1zM60 0h1v1h-1zM63 0h1v1h-1zM73 0h1v1h-1zM98 1h1v1h-1zM129 1h1v1h-1zM164 1h1v1h-1zM10 2h1v1h-1zM67 2h1v1h-1zM84 2h2v1h-2zM101 2h2v1h-2zM138 2h1v1h-1zM27 3h1v1h-1zM69 4h1v1h-1zM73 4h1v1h-1zM180 4h1v1h-1zM45 5h1v1h-1zM75 5h1v1h-1zM78 5h1v1h-1zM90 5h1v1h-1zM22 6h1v1h-1zM34 6h1v1h-1zM38 6h1v1h-1zM44 6h1v1h-1zM65 6h1v1h-1zM1 7h1v1h-1zM53 7h1v1h-1zM56 7h1v1h-1zM132 7h1v1h-1zM6 8h1v1h-1zM33 8h1v1h-1zM58 8h1v1h-1zM64 8h1v1h-1zM27 9h1v1h-1zM41 9h1v1h-1zM62 9h1v1h-1zM64 9h1v1h-1zM85 9h1v1h-1zM1 10h1v1h-1zM7 10h1v1h-1zM62 10h1v1h-1zM67 10h1v1h-1zM66 11h1v1h-1zM83 11h1v1h-1z"/>
<path fill="#e43735" d="M107 0h1v1h-1zM66 1h1v1h-1zM95 1h1v1h-1zM3 2h1v1h-1zM174 2h1v1h-1zM59 3h1v1h-1zM98 3h1v1h-1zM106 3h1v1h-1zM2 4h1v1h-1zM40 4h1v1h-1zM67 4h1v1h-1zM71 4h1v1h-1zM23 5h1v1h-1zM83 5h1v1h-1zM28 6h1v1h-1zM165 6h1v1h-1zM167 6h1v1h-1zM52 7h1v1h-1zM57 7h1v1h-1zM64 7h1v1h-1zM105 7h1v1h-1zM118 7h1v1h-1zM22 8h1v1h-1zM56 8h1v1h-1zM91 8h1v1h-1zM132 8h1v1h-1zM153 8h1v1h-1zM1 9h1v1h-1zM6 9h1v1h-1zM57 9h2v1h-2zM84 9h1v1h-1zM153 9h1v1h-1zM175 9h1v1h-1zM11 10h1v1h-1zM92 10h1v1h-1zM118 10h1v1h-1zM153 10h1v1h-1zM170 10h1v1h-1zM177 10h1v1h-1zM189 10h1v1h-1zM10 11h1v1h-1z"/>
<path fill="#e75c5a" d="M87 0h1v1h-1zM111 0h1v1h-1zM131 1h1v1h-1zM37 2h1v1h-1zM61 2h1v1h-1zM78 2h1v1h-1zM170 2h1v1h-1zM5 3h1v1h-1zM47 3h1v1h-1zM54 3h1v1h-1zM99 3h1v1h-1zM143 4h1v1h-1zM4 5h1v1h-1zM29 5h1v1h-1zM107 5h1v1h-1zM120 5h1v1h-1zM128 5h1v1h-1zM132 5h1v1h-1zM140 5h1v1h-1zM162 5h1v1h-1zM187 5h1v1h-1zM4 6h1v1h-1zM40 6h1v1h-1zM52 6h1v1h-1zM23 7h1v1h-1zM49 7h2v1h-2zM58 7h1v1h-1zM99 7h1v1h-1zM118 8h1v1h-1zM189 8h1v1h-1zM29 9h1v1h-1zM50 9h1v1h-1zM59 9h1v1h-1zM105 9h1v1h-1zM132 10h1v1h-1zM7 11h1v1h-1zM48 11h1v1h-1zM62 11h1v1h-1zM79 11h1v1h-1zM103 11h1v1h-1z"/>
<path fill="#e54b49" d="M68 2h1v1h-1zM106 2h1v1h-1zM134 2h1v1h-1zM0 3h1v1h-1zM82 3h1v1h-1zM92 3h1v1h-1zM97 3h1v1h-1zM139 4h1v1h-1zM17 5h1v1h-1zM21 5h1v1h-1zM95 5h1v1h-1zM134 5h1v1h-1zM32 6h2v1h-2zM41 6h1v1h-1zM47 6h1v1h-1zM96 6h1v1h-1zM41 7h1v1h-1zM75 7h1v1h-1zM85 7h1v1h-1zM140 7h1v1h-1zM27 8h3v1h-3zM50 8h1v1h-1zM53 8h1v1h-1zM62 8h1v1h-1zM140 8h1v1h-1zM161 8h1v1h-1zM165 8h1v1h-1zM177 8h1v1h-1zM28 9h1v1h-1zM39 9h1v1h-1zM56 9h1v1h-1zM96 9h1v1h-1zM132 9h1v1h-1zM170 9h1v1h-1zM6 10h1v1h-1zM29 10h1v1h-1zM140 10h1v1h-1zM17 11h1v1h-1zM97 11h1v1h-1zM117 11h1v1h-1z"/>
<path fill="#e86362" d="M17 0h1v1h-1zM25 0h2v1h-2zM75 0h1v1h-1zM84 0h1v1h-1zM8 2h1v1h-1zM55 2h1v1h-1zM30 3h1v1h-1zM108 3h1v1h-1zM44 4h1v1h-1zM61 4h1v1h-1zM88 4h1v1h-1zM176 4h1v1h-1zM35 5h1v1h-1zM76 5h1v1h-1zM106 5h1v1h-1zM176 5h1v1h-1zM7 6h1v1h-1zM51 6h1v1h-1zM143 6h1v1h-1zM69 7h1v1h-1zM93 7h1v1h-1zM115 7h2v1h-2zM177 7h1v1h-1zM186 7h1v1h-1zM18 8h1v1h-1zM67 8h1v1h-1zM85 8h1v1h-1zM116 8h1v1h-1zM175 8h1v1h-1zM0 9h1v1h-1zM46 9h1v1h-1zM53 9h1v1h-1zM107 9h1v1h-1zM165 9h1v1h-1zM46 10h1v1h-1zM57 10h1v1h-1zM83 10h1v1h-1zM116 10h1v1h-1zM23 11h1v1h-1z"/>
<path fill="#e8e8f4" d="M8 3h3v1h-3zM13 3h4v1h-4zM18 3h1v1h-1zM20 3h1v1h-1zM22 3h5v1h-5zM28 3h2v1h-2zM31 3h3v1h-3zM35 3h3v1h-3zM39 3h2v1h-2zM42 3h2v1h-2zM48 3h3v1h-3zM52 3h2v1h-2zM55 3h2v1h-2zM58 3h1v1h-1zM60 3h1v1h-1zM62 3h1v1h-1zM65 3h2v1h-2zM68 3h1v1h-1zM70 3h2v1h-2zM74 3h5v1h-5zM80 3h2v1h-2zM83 3h1v1h-1zM85 3h1v1h-1zM87 3h1v1h-1zM89 3h3v1h-3zM93 3h1v1h-1zM95 3h1v1h-1zM100 3h1v1h-1zM102 3h4v1h-4zM109 3h2v1h-2zM113 3h5v1h-5zM119 3h1v1h-1zM121 3h4v1h-4zM126 3h43v1h-43zM170 3h25v1h-25zM196 3h3v1h-3zM17 8h1v1h-1z"/>
<path fill="#f2f2f9" d="M1 6h3v1h-3zM5 6h2v1h-2zM10 6h5v1h-5zM17 6h2v1h-2zM20 6h2v1h-2zM24 6h3v1h-3zM29 6h1v1h-1zM31 6h1v1h-1zM37 6h1v1h-1zM39 6h1v1h-1zM42 6h2v1h-2zM45 6h2v1h-2zM49 6h2v1h-2zM53 6h4v1h-4zM58 6h4v1h-4zM64 6h1v1h-1zM67 6h2v1h-2zM71 6h1v1h-1zM76 6h2v1h-2zM80 6h1v1h-1zM83 6h2v1h-2zM91 6h1v1h-1zM93 6h2v1h-2zM97 6h1v1h-1zM100 6h2v1h-2zM103 6h1v1h-1zM106 6h2v1h-2zM109 6h13v1h-13zM123 6h11v1h-11zM135 6h8v1h-8zM144 6h6v1h-6zM151 6h7v1h-7zM159 6h6v1h-6zM166 6h1v1h-1zM168 6h26v1h-26zM195 6h5v1h-5zM102 8h1v1h-1z"/>
<path fill="#e86a6a" d="M78 0h1v1h-1zM90 0h1v1h-1zM95 0h1v1h-1zM108 0h2v1h-2zM27 1h1v1h-1zM41 1h1v1h-1zM52 2h1v1h-1zM59 2h1v1h-1zM108 2h1v1h-1zM64 3h1v1h-1zM67 3h1v1h-1zM73 3h1v1h-1zM94 3h1v1h-1zM118 3h1v1h-1zM195 3h1v1h-1zM10 4h1v1h-1zM190 4h1v1h-1zM16 5h1v1h-1zM77 5h1v1h-1zM117 5h1v1h-1zM179 5h1v1h-1zM30 6h1v1h-1zM78 6h1v1h-1zM150 6h1v1h-1zM27 7h1v1h-1zM33 7h1v1h-1zM11 9h1v1h-1zM18 9h1v1h-1zM22 9h2v1h-2zM76 9h1v1h-1zM177 9h1v1h-1zM189 9h1v1h-1zM61 10h1v1h-1zM85 10h1v1h-1zM161 10h1v1h-1z"/>
<path fill="#f3bbbc" d="M24 1h1v1h-1zM85 1h1v1h-1zM87 1h1v1h-1zM14 2h1v1h-1zM51 2h1v1h-1zM11 3h1v1h-1zM44 3h1v1h-1zM15 4h1v1h-1zM21 4h1v1h-1zM45 4h1v1h-1zM78 4h2v1h-2zM67 5h1v1h-1zM91 5h2v1h-2zM194 6h1v1h-1zM39 7h1v1h-1zM44 7h1v1h-1zM81 7h1v1h-1zM88 7h1v1h-1zM24 8h1v1h-1zM47 8h1v1h-1zM68 8h1v1h-1zM89 8h1v1h-1zM13 9h1v1h-1zM19 9h1v1h-1zM74 9h1v1h-1zM77 9h1v1h-1zM157 9h1v1h-1zM4 10h1v1h-1zM20 10h1v1h-1zM98 10h1v1h-1zM101 10h1v1h-1zM112 10h1v1h-1zM18 11h1v1h-1zM49 11h1v1h-1z"/>
<path fill="#d6d6eb" d="M1 2h2v1h-2zM4 2h3v1h-3zM9 2h1v1h-1zM11 2h1v1h-1zM15 2h3v1h-3zM20 2h4v1h-4zM25 2h6v1h-6zM32 2h3v1h-3zM36 2h1v1h-1zM38 2h1v1h-1zM40 2h1v1h-1zM42 2h1v1h-1zM49 2h2v1h-2zM53 2h2v1h-2zM58 2h1v1h-1zM62 2h1v1h-1zM64 2h3v1h-3zM69 2h6v1h-6zM76 2h1v1h-1zM79 2h2v1h-2zM82 2h2v1h-2zM86 2h3v1h-3zM90 2h5v1h-5zM96 2h5v1h-5zM104 2h2v1h-2zM107 2h1v1h-1zM109 2h5v1h-5zM115 2h19v1h-19zM135 2h3v1h-3zM139 2h31v1h-31zM171 2h3v1h-3zM175 2h6v1h-6zM182 2h18v1h-18zM102 7h1v1h-1z"/>
<path fill="#e97172" d="M24 0h1v1h-1zM39 0h1v1h-1zM79 0h1v1h-1zM79 1h1v1h-1zM56 2h1v1h-1zM95 2h1v1h-1zM34 3h1v1h-1zM41 3h1v1h-1zM69 3h1v1h-1zM13 4h1v1h-1zM46 5h2v1h-2zM94 5h1v1h-1zM48 6h1v1h-1zM90 6h1v1h-1zM104 6h1v1h-1zM6 7h1v1h-1zM76 7h1v1h-1zM91 7h1v1h-1zM165 7h1v1h-1zM7 8h1v1h-1zM41 8h1v1h-1zM57 8h1v1h-1zM86 9h1v1h-1zM109 9h1v1h-1zM140 9h1v1h-1zM33 10h1v1h-1zM56 10h1v1h-1zM76 10h1v1h-1zM38 11h1v1h-1zM111 11h1v1h-1z"/>
<path fill="#f2aaab" d="M4 1h1v1h-1zM36 1h1v1h-1zM48 1h1v1h-1zM108 1h1v1h-1zM192 1h1v1h-1zM39 2h1v1h-1zM96 3h1v1h-1zM12 4h1v1h-1zM14 4h1v1h-1zM132 4h1v1h-1zM105 5h1v1h-1zM144 5h1v1h-1zM98 6h1v1h-1zM12 7h1v1h-1zM51 7h1v1h-1zM61 7h1v1h-1zM187 7h1v1h-1zM2 8h1v1h-1zM20 8h1v1h-1zM82 8h1v1h-1zM131 8h1v1h-1zM4 9h1v1h-1zM37 9h1v1h-1zM42 9h1v1h-1zM55 9h1v1h-1zM68 9h1v1h-1zM3 10h1v1h-1zM55 10h1v1h-1zM69 10h1v1h-1zM95 10h1v1h-1z"/>
<path fill="#f1a5a6" d="M10 1h1v1h-1zM59 1h1v1h-1zM144 1h1v1h-1zM166 1h1v1h-1zM43 2h1v1h-1zM2 3h1v1h-1zM72 3h1v1h-1zM52 4h1v1h-1zM72 4h1v1h-1zM103 4h1v1h-1zM34 5h1v1h-1zM44 5h1v1h-1zM82 5h1v1h-1zM152 5h1v1h-1zM36 6h1v1h-1zM63 6h1v1h-1zM157 7h1v1h-1zM32 8h1v1h-1zM37 8h1v1h-1zM51 8h1v1h-1zM81 8h1v1h-1zM20 9h1v1h-1zM131 9h1v1h-1zM37 10h1v1h-1zM40 10h1v1h-1zM74 10h1v1h-1zM81 10h1v1h-1zM41 11h1v1h-1zM63 11h1v1h-1zM74 11h1v1h-1z"/>
<path fill="#f3b5b6" d="M32 1h1v1h-1zM170 1h1v1h-1zM31 2h1v1h-1zM46 2h1v1h-1zM75 2h1v1h-1zM86 3h1v1h-1zM111 3h1v1h-1zM46 4h1v1h-1zM106 4h1v1h-1zM18 5h1v1h-1zM87 5h2v1h-2zM100 5h1v1h-1zM189 5h1v1h-1zM14 7h1v1h-1zM24 7h1v1h-1zM29 7h1v1h-1zM37 7h1v1h-1zM112 7h1v1h-1zM4 8h1v1h-1zM13 8h1v1h-1zM111 8h1v1h-1zM65 9h1v1h-1zM8 10h1v1h-1zM24 10h1v1h-1zM38 10h1v1h-1zM42 10h1v1h-1zM157 10h1v1h-1zM24 11h1v1h-1zM81 11h1v1h-1zM112 11h1v1h-1z"/>
<path fill="#f2b0b1" d="M6 1h1v1h-1zM21 1h1v1h-1zM80 1h1v1h-1zM88 1h1v1h-1zM111 1h1v1h-1zM155 1h1v1h-1zM51 3h1v1h-1zM79 3h1v1h-1zM28 4h1v1h-1zM35 4h2v1h-2zM50 4h1v1h-1zM66 4h1v1h-1zM93 4h1v1h-1zM108 4h1v1h-1zM111 4h1v1h-1zM151 4h1v1h-1zM158 4h1v1h-1zM12 5h1v1h-1zM37 5h1v1h-1zM57 5h1v1h-1zM27 6h1v1h-1zM20 7h1v1h-1zM25 8h1v1h-1zM3 9h1v1h-1zM25 9h1v1h-1zM26 10h1v1h-1zM39 10h1v1h-1zM51 10h1v1h-1z"/>
<path fill="#ed8e8f" d="M161 1h1v1h-1zM184 1h1v1h-1zM7 2h1v1h-1zM45 2h1v1h-1zM77 2h1v1h-1zM21 3h1v1h-1zM38 3h1v1h-1zM45 3h1v1h-1zM20 4h1v1h-1zM37 4h1v1h-1zM64 4h1v1h-1zM173 4h1v1h-1zM9 5h1v1h-1zM68 5h1v1h-1zM84 5h1v1h-1zM121 5h1v1h-1zM26 7h1v1h-1zM45 7h1v1h-1zM14 8h1v1h-1zM44 8h1v1h-1zM74 8h1v1h-1zM2 9h1v1h-1zM8 9h1v1h-1zM47 9h1v1h-1zM13 10h1v1h-1zM47 10h1v1h-1zM68 10h1v1h-1zM43 11h1v1h-1z"/>
<path fill="#ec8788" d="M43 1h1v1h-1zM51 1h1v1h-1zM83 1h1v1h-1zM115 1h1v1h-1zM138 1h1v1h-1zM6 3h1v1h-1zM69 5h1v1h-1zM133 5h1v1h-1zM172 5h1v1h-1zM3 7h1v1h-1zM8 7h1v1h-1zM35 7h1v1h-1zM60 7h1v1h-1zM38 8h1v1h-1zM106 8h1v1h-1zM26 9h1v1h-1zM38 9h1v1h-1zM40 9h1v1h-1zM44 10h1v1h-1zM86 10h1v1h-1zM88 10h1v1h-1zM19 11h1v1h-1zM75 11h1v1h-1zM85 11h1v1h-1zM105 11h1v1h-1z"/>
<path fill="#214b9f" d="M107 1h1v1h-1zM109 1h1v1h-1zM120 1h1v1h-1zM153 1h1v1h-1zM0 2h1v1h-1zM12 2h1v1h-1zM18 2h1v1h-1zM41 2h1v1h-1zM47 2h2v1h-2zM1 3h1v1h-1zM125 3h1v1h-1zM99 4h1v1h-1zM102 5h1v1h-1zM35 6h1v1h-1zM92 6h1v1h-1zM102 6h1v1h-1zM108 6h1v1h-1zM94 7h1v1h-1zM48 8h1v1h-1zM70 8h1v1h-1zM1 11h1v1h-1zM6 11h1v1h-1zM69 11h1v1h-1zM87 11h1v1h-1z"/>
<path fill="#e44340" d="M139 1h1v1h-1zM63 3h1v1h-1zM17 4h2v1h-2zM86 4h1v1h-1zM43 5h1v1h-1zM136 5h1v1h-1zM181 5h1v1h-1zM70 6h1v1h-1zM73 6h2v1h-2zM122 6h1v1h-1zM2 7h1v1h-1zM34 7h1v1h-1zM46 7h1v1h-1zM62 7h1v1h-1zM189 7h1v1h-1zM186 8h1v1h-1zM36 9h1v1h-1zM115 9h1v1h-1zM22 10h2v1h-2zM28 10h1v1h-1zM58 10h1v1h-1zM64 10h1v1h-1zM115 10h1v1h-1zM86 11h1v1h-1z"/>
<path fill="#ee9495" d="M90 1h1v1h-1zM117 1h1v1h-1zM167 1h1v1h-1zM35 2h1v1h-1zM81 2h1v1h-1zM51 4h1v1h-1zM166 4h1v1h-1zM13 5h1v1h-1zM31 5h1v1h-1zM13 7h1v1h-1zM19 7h1v1h-1zM25 7h1v1h-1zM40 7h1v1h-1zM42 8h1v1h-1zM90 8h1v1h-1zM187 8h1v1h-1zM48 9h1v1h-1zM187 9h1v1h-1zM19 10h1v1h-1zM25 10h1v1h-1zM45 10h1v1h-1zM107 10h1v1h-1zM34 11h1v1h-1z"/>
<path fill="#2b4da0" d="M12 1h1v1h-1zM14 1h1v1h-1zM60 2h1v1h-1zM57 3h1v1h-1zM33 4h1v1h-1zM63 4h1v1h-1zM102 4h1v1h-1zM7 5h1v1h-1zM119 5h1v1h-1zM155 5h1v1h-1zM197 5h1v1h-1zM8 6h1v1h-1zM16 6h1v1h-1zM57 6h1v1h-1zM72 6h1v1h-1zM88 6h1v1h-1zM48 7h1v1h-1zM104 7h1v1h-1zM104 8h1v1h-1zM48 10h1v1h-1zM30 11h1v1h-1zM42 11h1v1h-1z"/>
<path fill="#ef9b9c" d="M23 1h1v1h-1zM26 1h1v1h-1zM93 1h1v1h-1zM130 1h1v1h-1zM195 1h1v1h-1zM13 2h1v1h-1zM7 4h1v1h-1zM55 4h1v1h-1zM28 5h1v1h-1zM61 5h1v1h-1zM15 6h1v1h-1zM4 7h1v1h-1zM42 7h1v1h-1zM82 7h1v1h-1zM90 7h1v1h-1zM10 8h1v1h-1zM26 8h1v1h-1zM39 8h1v1h-1zM32 9h1v1h-1zM90 9h1v1h-1zM14 10h1v1h-1zM25 11h1v1h-1z"/>
<path fill="#f0a0a1" d="M28 1h1v1h-1zM110 1h1v1h-1zM116 1h1v1h-1zM176 1h1v1h-1zM61 3h1v1h-1zM5 4h1v1h-1zM41 4h1v1h-1zM32 7h1v1h-1zM74 7h1v1h-1zM111 7h1v1h-1zM16 8h1v1h-1zM19 8h1v1h-1zM35 8h1v1h-1zM112 8h1v1h-1zM35 9h1v1h-1zM44 9h1v1h-1zM2 10h1v1h-1zM35 10h1v1h-1zM90 10h1v1h-1zM131 10h1v1h-1zM187 10h1v1h-1zM21 11h1v1h-1z"/>
<path fill="#ea7879" d="M66 0h1v1h-1zM38 1h1v1h-1zM199 1h1v1h-1zM103 2h1v1h-1zM30 4h1v1h-1zM100 4h1v1h-1zM23 6h1v1h-1zM73 7h1v1h-1zM170 7h1v1h-1zM1 8h1v1h-1zM80 8h1v1h-1zM115 8h1v1h-1zM67 9h1v1h-1zM116 9h1v1h-1zM36 10h1v1h-1zM52 10h1v1h-1zM84 10h1v1h-1zM165 10h1v1h-1zM68 11h1v1h-1zM98 11h1v1h-1zM114 11h1v1h-1z"/>
<path fill="#e3201f" d="M14 0h1v1h-1zM92 0h1v1h-1zM24 2h1v1h-1zM44 2h1v1h-1zM3 3h2v1h-2zM84 3h1v1h-1zM84 4h1v1h-1zM20 5h1v1h-1zM48 5h1v1h-1zM56 5h1v1h-1zM178 5h1v1h-1zM9 6h1v1h-1zM22 7h1v1h-1zM67 7h1v1h-1zM109 7h1v1h-1zM23 8h1v1h-1zM52 8h1v1h-1zM105 8h1v1h-1zM41 10h1v1h-1zM91 10h1v1h-1z"/>
<path fill="#274c9f" d="M20 1h1v1h-1zM103 1h1v1h-1zM181 1h1v1h-1zM114 2h1v1h-1zM101 3h1v1h-1zM120 3h1v1h-1zM82 4h1v1h-1zM97 4h1v1h-1zM58 5h1v1h-1zM115 5h1v1h-1zM143 5h1v1h-1zM164 5h1v1h-1zM85 6h1v1h-1zM105 6h1v1h-1zM94 9h1v1h-1zM104 9h1v1h-1z"/>
<path fill="#244b9f" d="M189 1h1v1h-1zM19 2h1v1h-1zM19 4h1v1h-1zM15 5h1v1h-1zM19 5h1v1h-1zM75 6h1v1h-1zM79 6h1v1h-1zM89 6h1v1h-1zM95 6h1v1h-1zM70 7h1v1h-1zM63 9h1v1h-1zM70 9h1v1h-1zM26 11h1v1h-1zM67 11h1v1h-1z"/>
<path fill="#1f4a9e" d="M22 1h1v1h-1zM113 1h1v1h-1zM181 2h1v1h-1zM17 3h1v1h-1zM19 3h1v1h-1zM107 3h1v1h-1zM169 3h1v1h-1zM199 3h1v1h-1zM185 5h1v1h-1zM82 6h1v1h-1zM86 6h2v1h-2zM99 6h1v1h-1zM39 11h1v1h-1z"/>
<path fill="#1c4a9e" d="M154 1h1v1h-1zM46 3h1v1h-1zM83 4h1v1h-1zM99 5h1v1h-1zM134 6h1v1h-1zM63 7h1v1h-1zM63 10h1v1h-1zM104 10h1v1h-1z"/>
<path fill="#f4c2c3" d="M7 1h1v1h-1zM123 1h1v1h-1zM156 1h1v1h-1zM40 8h1v1h-1zM83 8h1v1h-1zM45 9h1v1h-1zM99 9h1v1h-1z"/>
<path fill="#eb8081" d="M94 8h1v1h-1zM16 9h1v1h-1zM118 9h1v1h-1zM161 9h1v1h-1zM10 10h1v1h-1zM71 10h1v1h-1zM175 10h1v1h-1z"/>
<path fill="#2e4ea0" d="M74 1h1v1h-1zM7 3h1v1h-1zM12 3h1v1h-1zM0 6h1v1h-1zM63 8h1v1h-1zM70 10h1v1h-1z"/>
<path fill="#f8d6d7" d="M17 7h1v1h-1zM34 9h1v1h-1zM60 10h1v1h-1zM65 10h1v1h-1z"/>
<path fill="#f9dcdd" d="M65 7h1v1h-1zM71 7h1v1h-1zM54 9h1v1h-1zM102 10h1v1h-1z"/>
<path fill="#ebebf6" d="M43 8h1v1h-1zM87 9h1v1h-1zM30 10h1v1h-1z"/>
<path fill="#fae2e3" d="M54 8h1v1h-1zM30 9h1v1h-1zM17 10h1v1h-1z"/>
<path fill="#fceded" d="M21 7h1v1h-1zM72 8h1v1h-1z"/>
<path fill="#efeff7" d="M59 7h1v1h-1zM54 10h1v1h-1z"/>
<path fill="#fcf0f1" d="M30 8h1v1h-1zM21 9h1v1h-1z"/>
<path fill="#f6c9ca" d="M55 8h1v1h-1zM93 9h1v1h-1z"/>
<path fill="#fcebec" d="M72 7h1v1h-1z"/>
<path fill="#e1e1f0" d="M65 8h1v1h-1z"/>
<path fill="#fdf4f4" d="M43 9h1v1h-1z"/>
<path fill="#fbe9ea" d="M71 9h1v1h-1z"/>
<path fill="#fdf2f2" d="M72 9h1v1h-1z"/>
<path fill="#3350a1" d="M94 10h1v1h-1z"/>
</g>
<g transform="translate(94.1 1604.5) scale(3.1570 29.3500)">
<path fill="#b2b3d8" d="M3 0h1v1h-1zM18 0h1v1h-1zM22 0h1v1h-1zM29 0h1v1h-1zM39 0h1v1h-1zM60 0h1v1h-1zM63 0h1v1h-1zM106 0h1v1h-1zM116 0h1v1h-1zM124 0h1v1h-1zM130 0h1v1h-1zM168 0h3v1h-3zM185 0h1v1h-1zM16 1h1v1h-1zM24 1h1v1h-1zM32 1h1v1h-1zM46 1h2v1h-2zM52 1h1v1h-1zM73 1h1v1h-1zM90 1h1v1h-1zM94 1h1v1h-1zM110 1h1v1h-1zM119 1h1v1h-1zM128 1h1v1h-1zM134 1h1v1h-1zM138 1h1v1h-1zM156 1h1v1h-1zM158 1h1v1h-1zM169 1h1v1h-1zM7 2h1v1h-1zM16 2h1v1h-1zM23 2h1v1h-1zM27 2h1v1h-1zM29 2h1v1h-1zM44 2h1v1h-1zM69 2h1v1h-1zM73 2h1v1h-1zM76 2h1v1h-1zM81 2h1v1h-1zM85 2h1v1h-1zM117 2h1v1h-1zM122 2h1v1h-1zM149 2h1v1h-1zM158 2h1v1h-1zM165 2h1v1h-1zM192 2h1v1h-1zM25 3h1v1h-1zM27 3h1v1h-1zM37 3h1v1h-1zM41 3h1v1h-1zM45 3h1v1h-1zM53 3h1v1h-1zM58 3h1v1h-1zM74 3h1v1h-1zM113 3h1v1h-1zM115 3h1v1h-1zM126 3h1v1h-1zM134 3h1v1h-1zM151 3h1v1h-1zM154 3h1v1h-1zM156 3h1v1h-1zM177 3h1v1h-1zM180 3h2v1h-2zM183 3h1v1h-1zM1 4h1v1h-1zM9 4h1v1h-1zM20 4h1v1h-1zM33 4h1v1h-1zM48 4h1v1h-1zM57 4h1v1h-1zM70 4h1v1h-1zM107 4h1v1h-1zM126 4h1v1h-1zM135 4h1v1h-1zM161 4h2v1h-2zM175 4h1v1h-1zM180 4h1v1h-1zM188 4h2v1h-2zM5 5h1v1h-1zM8 5h1v1h-1zM12 5h1v1h-1zM49 5h1v1h-1zM74 5h1v1h-1zM103 5h1v1h-1zM146 5h1v1h-1zM152 5h1v1h-1zM185 5h1v1h-1zM192 5h1v1h-1zM2 6h1v1h-1zM25 6h1v1h-1zM30 6h1v1h-1zM48 6h1v1h-1zM58 6h1v1h-1zM63 6h1v1h-1zM69 6h1v1h-1zM72 6h1v1h-1zM76 6h1v1h-1zM81 6h1v1h-1zM108 6h1v1h-1zM113 6h1v1h-1zM119 6h1v1h-1zM136 6h1v1h-1zM163 6h1v1h-1zM189 6h1v1h-1zM3 7h1v1h-1zM46 7h1v1h-1zM50 7h1v1h-1zM60 7h1v1h-1zM72 7h1v1h-1zM99 7h1v1h-1zM124 7h1v1h-1zM126 7h1v1h-1zM142 7h1v1h-1zM157 7h1v1h-1zM164 7h1v1h-1zM186 7h1v1h-1zM9 8h1v1h-1zM24 8h1v1h-1zM54 8h1v1h-1zM89 8h1v1h-1zM92 8h1v1h-1zM135 8h1v1h-1zM168 8h1v1h-1zM176 8h1v1h-1zM178 8h2v1h-2zM182 8h1v1h-1zM19 9h1v1h-1zM25 9h1v1h-1zM28 9h1v1h-1zM41 9h1v1h-1zM44 9h1v1h-1zM65 9h1v1h-1zM81 9h1v1h-1zM91 9h3v1h-3zM98 9h1v1h-1zM102 9h1v1h-1zM108 9h1v1h-1zM117 9h1v1h-1zM158 9h1v1h-1zM164 9h1v1h-1zM169 9h1v1h-1zM171 9h1v1h-1zM183 9h2v1h-2zM193 9h1v1h-1zM196 9h1v1h-1zM0 10h1v1h-1zM13 10h1v1h-1zM45 10h1v1h-1zM64 10h1v1h-1zM79 10h1v1h-1zM81 10h1v1h-1zM85 10h1v1h-1zM104 10h1v1h-1zM114 10h1v1h-1zM121 10h1v1h-1zM124 10h1v1h-1zM130 10h1v1h-1zM142 10h1v1h-1zM4 11h1v1h-1zM40 11h1v1h-1zM44 11h1v1h-1zM52 11h1v1h-1zM54 11h1v1h-1zM57 11h1v1h-1zM121 11h1v1h-1zM163 11h1v1h-1zM169 11h2v1h-2zM176 11h1v1h-1z"/>
<path fill="#bdbede" d="M6 0h2v1h-2zM17 0h1v1h-1zM36 0h1v1h-1zM44 0h1v1h-1zM67 0h1v1h-1zM74 0h1v1h-1zM82 0h1v1h-1zM87 0h1v1h-1zM125 0h1v1h-1zM135 0h1v1h-1zM152 0h1v1h-1zM164 0h1v1h-1zM182 0h1v1h-1zM194 0h1v1h-1zM0 1h1v1h-1zM26 1h1v1h-1zM31 1h1v1h-1zM36 1h1v1h-1zM54 1h1v1h-1zM62 1h1v1h-1zM72 1h1v1h-1zM78 1h1v1h-1zM120 1h1v1h-1zM146 1h3v1h-3zM150 1h1v1h-1zM163 1h1v1h-1zM173 1h1v1h-1zM178 1h1v1h-1zM191 1h1v1h-1zM40 2h1v1h-1zM46 2h1v1h-1zM48 2h1v1h-1zM50 2h1v1h-1zM86 2h1v1h-1zM112 2h1v1h-1zM164 2h1v1h-1zM178 2h1v1h-1zM187 2h1v1h-1zM197 2h1v1h-1zM10 3h1v1h-1zM21 3h1v1h-1zM80 3h2v1h-2zM85 3h1v1h-1zM123 3h1v1h-1zM138 3h1v1h-1zM144 3h2v1h-2zM196 3h1v1h-1zM198 3h1v1h-1zM25 4h1v1h-1zM38 4h1v1h-1zM50 4h1v1h-1zM55 4h1v1h-1zM92 4h2v1h-2zM99 4h2v1h-2zM117 4h1v1h-1zM134 4h1v1h-1zM148 4h1v1h-1zM158 4h1v1h-1zM170 4h1v1h-1zM27 5h1v1h-1zM44 5h1v1h-1zM58 5h1v1h-1zM89 5h1v1h-1zM110 5h1v1h-1zM117 5h1v1h-1zM121 5h1v1h-1zM129 5h1v1h-1zM164 5h1v1h-1zM173 5h1v1h-1zM176 5h1v1h-1zM184 5h1v1h-1zM6 6h1v1h-1zM11 6h1v1h-1zM15 6h1v1h-1zM19 6h1v1h-1zM21 6h1v1h-1zM45 6h1v1h-1zM53 6h1v1h-1zM74 6h2v1h-2zM99 6h1v1h-1zM124 6h1v1h-1zM139 6h1v1h-1zM145 6h1v1h-1zM169 6h1v1h-1zM185 6h1v1h-1zM199 6h1v1h-1zM32 7h1v1h-1zM38 7h1v1h-1zM48 7h2v1h-2zM66 7h1v1h-1zM93 7h1v1h-1zM103 7h1v1h-1zM135 7h1v1h-1zM140 7h1v1h-1zM151 7h1v1h-1zM158 7h1v1h-1zM171 7h1v1h-1zM177 7h1v1h-1zM182 7h1v1h-1zM1 8h1v1h-1zM17 8h1v1h-1zM36 8h1v1h-1zM80 8h1v1h-1zM98 8h2v1h-2zM113 8h1v1h-1zM118 8h1v1h-1zM121 8h2v1h-2zM154 8h1v1h-1zM171 8h1v1h-1zM188 8h1v1h-1zM192 8h1v1h-1zM196 8h1v1h-1zM4 9h1v1h-1zM36 9h1v1h-1zM38 9h1v1h-1zM50 9h1v1h-1zM58 9h1v1h-1zM80 9h1v1h-1zM82 9h1v1h-1zM106 9h1v1h-1zM140 9h1v1h-1zM160 9h1v1h-1zM166 9h1v1h-1zM168 9h1v1h-1zM191 9h2v1h-2zM9 10h1v1h-1zM20 10h1v1h-1zM46 10h1v1h-1zM59 10h1v1h-1zM77 10h1v1h-1zM80 10h1v1h-1zM90 10h1v1h-1zM95 10h1v1h-1zM97 10h1v1h-1zM110 10h1v1h-1zM146 10h1v1h-1zM151 10h2v1h-2zM162 10h1v1h-1zM166 10h1v1h-1zM189 10h1v1h-1zM0 11h1v1h-1zM70 11h1v1h-1zM72 11h1v1h-1zM113 11h1v1h-1zM129 11h2v1h-2zM134 11h1v1h-1zM141 11h1v1h-1zM175 11h1v1h-1zM197 11h1v1h-1z"/>
<path fill="#a7a9d3" d="M10 0h1v1h-1zM13 0h1v1h-1zM24 0h1v1h-1zM46 0h1v1h-1zM49 0h1v1h-1zM64 0h1v1h-1zM108 0h1v1h-1zM113 0h1v1h-1zM142 0h1v1h-1zM156 0h1v1h-1zM159 0h1v1h-1zM177 0h1v1h-1zM198 0h1v1h-1zM2 1h1v1h-1zM15 1h1v1h-1zM39 1h1v1h-1zM53 1h1v1h-1zM66 1h2v1h-2zM122 1h2v1h-2zM141 1h1v1h-1zM190 1h1v1h-1zM193 1h1v1h-1zM10 2h1v1h-1zM39 2h1v1h-1zM42 2h1v1h-1zM47 2h1v1h-1zM63 2h1v1h-1zM94 2h1v1h-1zM120 2h1v1h-1zM137 2h1v1h-1zM139 2h1v1h-1zM144 2h1v1h-1zM161 2h1v1h-1zM166 2h1v1h-1zM186 2h1v1h-1zM1 3h1v1h-1zM4 3h1v1h-1zM28 3h1v1h-1zM31 3h1v1h-1zM67 3h1v1h-1zM71 3h1v1h-1zM82 3h1v1h-1zM91 3h1v1h-1zM93 3h1v1h-1zM99 3h1v1h-1zM105 3h1v1h-1zM114 3h1v1h-1zM127 3h1v1h-1zM148 3h1v1h-1zM161 3h1v1h-1zM168 3h1v1h-1zM199 3h1v1h-1zM8 4h1v1h-1zM16 4h1v1h-1zM35 4h1v1h-1zM47 4h1v1h-1zM58 4h1v1h-1zM72 4h1v1h-1zM81 4h1v1h-1zM90 4h1v1h-1zM109 4h1v1h-1zM130 4h1v1h-1zM152 4h1v1h-1zM174 4h1v1h-1zM181 4h1v1h-1zM3 5h1v1h-1zM11 5h1v1h-1zM20 5h1v1h-1zM67 5h1v1h-1zM72 5h1v1h-1zM85 5h1v1h-1zM97 5h1v1h-1zM108 5h1v1h-1zM122 5h1v1h-1zM132 5h1v1h-1zM137 5h1v1h-1zM157 5h1v1h-1zM168 5h1v1h-1zM187 5h1v1h-1zM0 6h1v1h-1zM13 6h1v1h-1zM20 6h1v1h-1zM51 6h1v1h-1zM78 6h1v1h-1zM80 6h1v1h-1zM88 6h1v1h-1zM104 6h2v1h-2zM109 6h1v1h-1zM118 6h1v1h-1zM148 6h1v1h-1zM155 6h1v1h-1zM194 6h2v1h-2zM27 7h2v1h-2zM37 7h1v1h-1zM44 7h1v1h-1zM67 7h1v1h-1zM87 7h1v1h-1zM108 7h1v1h-1zM143 7h1v1h-1zM148 7h1v1h-1zM197 7h1v1h-1zM25 8h1v1h-1zM35 8h1v1h-1zM40 8h1v1h-1zM104 8h1v1h-1zM109 8h1v1h-1zM116 8h1v1h-1zM123 8h1v1h-1zM127 8h1v1h-1zM198 8h1v1h-1zM5 9h1v1h-1zM20 9h1v1h-1zM39 9h1v1h-1zM46 9h1v1h-1zM54 9h1v1h-1zM59 9h1v1h-1zM90 9h1v1h-1zM113 9h2v1h-2zM120 9h1v1h-1zM127 9h1v1h-1zM135 9h1v1h-1zM153 9h1v1h-1zM172 9h1v1h-1zM188 9h1v1h-1zM4 10h1v1h-1zM60 10h1v1h-1zM83 10h1v1h-1zM98 10h1v1h-1zM106 10h1v1h-1zM137 10h1v1h-1zM159 10h1v1h-1zM163 10h1v1h-1zM174 10h1v1h-1zM7 11h1v1h-1zM13 11h1v1h-1zM31 11h1v1h-1zM42 11h1v1h-1zM64 11h1v1h-1zM78 11h1v1h-1zM85 11h1v1h-1zM88 11h1v1h-1zM91 11h1v1h-1zM100 11h1v1h-1zM116 11h1v1h-1zM119 11h1v1h-1zM126 11h1v1h-1zM148 11h1v1h-1zM158 11h1v1h-1zM182 11h1v1h-1z"/>
<path fill="#c8c8e3" d="M107 0h1v1h-1zM120 0h1v1h-1zM140 0h1v1h-1zM144 0h1v1h-1zM184 0h1v1h-1zM195 0h1v1h-1zM3 1h1v1h-1zM17 1h1v1h-1zM56 1h1v1h-1zM104 1h2v1h-2zM136 1h1v1h-1zM144 1h2v1h-2zM167 1h1v1h-1zM175 1h1v1h-1zM195 1h1v1h-1zM8 2h1v1h-1zM11 2h1v1h-1zM13 2h1v1h-1zM26 2h1v1h-1zM34 2h1v1h-1zM51 2h1v1h-1zM57 2h1v1h-1zM62 2h1v1h-1zM72 2h1v1h-1zM105 2h1v1h-1zM115 2h1v1h-1zM118 2h1v1h-1zM125 2h1v1h-1zM127 2h1v1h-1zM136 2h1v1h-1zM155 2h2v1h-2zM15 3h1v1h-1zM46 3h1v1h-1zM100 3h1v1h-1zM106 3h1v1h-1zM129 3h1v1h-1zM142 3h2v1h-2zM169 3h1v1h-1zM178 3h1v1h-1zM189 3h1v1h-1zM193 3h1v1h-1zM52 4h1v1h-1zM54 4h1v1h-1zM65 4h2v1h-2zM73 4h1v1h-1zM84 4h1v1h-1zM101 4h1v1h-1zM106 4h1v1h-1zM121 4h1v1h-1zM141 4h1v1h-1zM150 4h1v1h-1zM164 4h1v1h-1zM178 4h2v1h-2zM193 4h1v1h-1zM0 5h1v1h-1zM7 5h1v1h-1zM66 5h1v1h-1zM68 5h1v1h-1zM80 5h1v1h-1zM86 5h1v1h-1zM101 5h1v1h-1zM128 5h1v1h-1zM131 5h1v1h-1zM150 5h1v1h-1zM158 5h1v1h-1zM163 5h1v1h-1zM167 5h1v1h-1zM171 5h2v1h-2zM180 5h1v1h-1zM186 5h1v1h-1zM196 5h1v1h-1zM199 5h1v1h-1zM4 6h1v1h-1zM16 6h2v1h-2zM24 6h1v1h-1zM59 6h1v1h-1zM77 6h1v1h-1zM94 6h1v1h-1zM101 6h1v1h-1zM117 6h1v1h-1zM120 6h1v1h-1zM132 6h1v1h-1zM144 6h1v1h-1zM172 6h1v1h-1zM187 6h1v1h-1zM9 7h2v1h-2zM15 7h1v1h-1zM51 7h1v1h-1zM69 7h1v1h-1zM74 7h1v1h-1zM78 7h1v1h-1zM80 7h1v1h-1zM125 7h1v1h-1zM130 7h1v1h-1zM134 7h1v1h-1zM137 7h1v1h-1zM146 7h1v1h-1zM152 7h1v1h-1zM161 7h1v1h-1zM168 7h1v1h-1zM183 7h1v1h-1zM192 7h1v1h-1zM199 7h1v1h-1zM3 8h1v1h-1zM70 8h1v1h-1zM77 8h1v1h-1zM115 8h1v1h-1zM129 8h1v1h-1zM142 8h1v1h-1zM147 8h1v1h-1zM153 8h1v1h-1zM157 8h2v1h-2zM8 9h1v1h-1zM14 9h1v1h-1zM24 9h1v1h-1zM60 9h1v1h-1zM86 9h1v1h-1zM125 9h1v1h-1zM129 9h1v1h-1zM142 9h2v1h-2zM146 9h1v1h-1zM151 9h1v1h-1zM175 9h1v1h-1zM198 9h1v1h-1zM3 10h1v1h-1zM28 10h1v1h-1zM38 10h1v1h-1zM89 10h1v1h-1zM128 10h1v1h-1zM135 10h1v1h-1zM183 10h1v1h-1zM190 10h1v1h-1zM11 11h1v1h-1zM28 11h1v1h-1zM99 11h1v1h-1zM101 11h1v1h-1zM108 11h1v1h-1zM111 11h1v1h-1zM123 11h1v1h-1zM146 11h1v1h-1zM150 11h1v1h-1zM159 11h1v1h-1zM168 11h1v1h-1zM173 11h1v1h-1zM183 11h1v1h-1zM187 11h1v1h-1zM199 11h1v1h-1z"/>
<path fill="#9d9fcd" d="M28 0h1v1h-1zM57 0h1v1h-1zM61 0h1v1h-1zM100 0h1v1h-1zM131 0h1v1h-1zM149 0h1v1h-1zM163 0h1v1h-1zM44 1h1v1h-1zM139 1h1v1h-1zM168 1h1v1h-1zM192 1h1v1h-1zM77 2h1v1h-1zM130 2h2v1h-2zM134 2h1v1h-1zM143 2h1v1h-1zM159 2h1v1h-1zM169 2h1v1h-1zM174 2h1v1h-1zM194 2h1v1h-1zM52 3h1v1h-1zM116 3h1v1h-1zM121 3h1v1h-1zM132 3h1v1h-1zM136 3h1v1h-1zM141 3h1v1h-1zM153 3h1v1h-1zM162 3h1v1h-1zM186 3h1v1h-1zM32 4h1v1h-1zM75 4h1v1h-1zM111 4h1v1h-1zM113 4h1v1h-1zM120 4h1v1h-1zM123 4h1v1h-1zM159 4h1v1h-1zM163 4h1v1h-1zM182 4h2v1h-2zM33 5h1v1h-1zM60 5h1v1h-1zM113 5h1v1h-1zM119 5h1v1h-1zM156 5h1v1h-1zM160 5h1v1h-1zM170 5h1v1h-1zM188 5h1v1h-1zM190 5h1v1h-1zM193 5h1v1h-1zM198 5h1v1h-1zM38 6h1v1h-1zM90 6h1v1h-1zM98 6h1v1h-1zM111 6h1v1h-1zM115 6h1v1h-1zM121 6h1v1h-1zM134 6h1v1h-1zM146 6h1v1h-1zM157 6h1v1h-1zM166 6h1v1h-1zM170 6h1v1h-1zM175 6h1v1h-1zM45 7h1v1h-1zM76 7h1v1h-1zM102 7h1v1h-1zM114 7h1v1h-1zM120 7h1v1h-1zM129 7h1v1h-1zM145 7h1v1h-1zM172 7h1v1h-1zM187 7h1v1h-1zM94 8h2v1h-2zM149 8h1v1h-1zM166 8h1v1h-1zM9 9h1v1h-1zM13 9h1v1h-1zM16 9h1v1h-1zM57 9h1v1h-1zM119 9h1v1h-1zM123 9h1v1h-1zM138 9h1v1h-1zM147 9h1v1h-1zM159 9h1v1h-1zM173 9h2v1h-2zM176 9h1v1h-1zM180 9h1v1h-1zM189 9h1v1h-1zM22 10h1v1h-1zM30 10h1v1h-1zM44 10h1v1h-1zM53 10h1v1h-1zM86 10h1v1h-1zM120 10h1v1h-1zM127 10h1v1h-1zM134 10h1v1h-1zM147 10h1v1h-1zM158 10h1v1h-1zM181 10h1v1h-1zM185 10h1v1h-1zM193 10h2v1h-2zM196 10h1v1h-1zM198 10h1v1h-1zM20 11h1v1h-1zM65 11h1v1h-1zM133 11h1v1h-1zM138 11h1v1h-1zM140 11h1v1h-1zM153 11h2v1h-2zM167 11h1v1h-1zM198 11h1v1h-1z"/>
<path fill="#d3d3e9" d="M62 0h1v1h-1zM91 0h1v1h-1zM93 0h1v1h-1zM96 0h1v1h-1zM138 0h2v1h-2zM166 0h1v1h-1zM174 0h1v1h-1zM176 0h1v1h-1zM192 0h1v1h-1zM196 0h1v1h-1zM4 1h1v1h-1zM14 1h1v1h-1zM106 1h1v1h-1zM157 1h1v1h-1zM162 1h1v1h-1zM30 2h1v1h-1zM83 2h1v1h-1zM92 2h1v1h-1zM140 2h1v1h-1zM152 2h1v1h-1zM190 2h1v1h-1zM196 2h1v1h-1zM43 3h1v1h-1zM146 3h1v1h-1zM190 3h1v1h-1zM197 3h1v1h-1zM2 4h1v1h-1zM13 4h1v1h-1zM56 4h1v1h-1zM96 4h1v1h-1zM144 4h1v1h-1zM191 4h1v1h-1zM9 5h2v1h-2zM14 5h1v1h-1zM16 5h1v1h-1zM63 5h1v1h-1zM78 5h1v1h-1zM98 5h1v1h-1zM120 5h1v1h-1zM147 5h1v1h-1zM159 5h1v1h-1zM191 5h1v1h-1zM14 6h1v1h-1zM36 6h1v1h-1zM49 6h1v1h-1zM67 6h1v1h-1zM110 6h1v1h-1zM127 6h1v1h-1zM133 6h1v1h-1zM160 6h1v1h-1zM184 6h1v1h-1zM21 7h1v1h-1zM33 7h1v1h-1zM73 7h1v1h-1zM123 7h1v1h-1zM147 7h1v1h-1zM169 7h1v1h-1zM13 8h1v1h-1zM90 8h1v1h-1zM93 8h1v1h-1zM102 8h1v1h-1zM156 8h1v1h-1zM174 8h1v1h-1zM184 8h1v1h-1zM190 8h1v1h-1zM97 9h1v1h-1zM101 9h1v1h-1zM104 9h1v1h-1zM144 9h1v1h-1zM152 9h1v1h-1zM2 10h1v1h-1zM133 10h1v1h-1zM148 10h1v1h-1zM150 10h1v1h-1zM164 10h1v1h-1zM172 10h1v1h-1zM18 11h1v1h-1zM49 11h1v1h-1zM68 11h1v1h-1zM96 11h1v1h-1zM125 11h1v1h-1zM131 11h1v1h-1zM151 11h1v1h-1zM188 11h1v1h-1z"/>
<path fill="#ef9b9c" d="M50 0h1v1h-1zM65 0h1v1h-1zM85 0h1v1h-1zM111 0h2v1h-2zM117 0h1v1h-1zM161 0h1v1h-1zM1 1h1v1h-1zM8 1h1v1h-1zM13 1h1v1h-1zM35 1h1v1h-1zM49 1h1v1h-1zM170 1h1v1h-1zM80 2h1v1h-1zM96 2h1v1h-1zM138 2h1v1h-1zM163 2h1v1h-1zM167 2h1v1h-1zM177 2h1v1h-1zM13 3h1v1h-1zM88 3h1v1h-1zM92 3h1v1h-1zM97 3h1v1h-1zM163 3h1v1h-1zM191 3h2v1h-2zM15 4h1v1h-1zM46 4h1v1h-1zM95 4h1v1h-1zM97 4h1v1h-1zM155 4h1v1h-1zM37 5h1v1h-1zM59 5h1v1h-1zM88 5h1v1h-1zM138 5h1v1h-1zM9 6h1v1h-1zM27 6h1v1h-1zM60 6h1v1h-1zM70 6h1v1h-1zM83 6h1v1h-1zM85 6h1v1h-1zM35 7h1v1h-1zM70 7h1v1h-1zM105 7h1v1h-1zM122 7h1v1h-1zM50 8h1v1h-1zM91 8h1v1h-1zM12 9h1v1h-1zM27 9h1v1h-1zM70 9h1v1h-1zM76 9h1v1h-1zM190 9h1v1h-1zM42 10h1v1h-1zM72 10h1v1h-1zM112 10h1v1h-1zM115 10h2v1h-2zM25 11h1v1h-1zM29 11h1v1h-1zM35 11h1v1h-1zM81 11h1v1h-1zM84 11h1v1h-1zM89 11h1v1h-1zM137 11h1v1h-1zM162 11h1v1h-1z"/>
<path fill="#f2aaab" d="M33 0h1v1h-1zM38 0h1v1h-1zM79 0h1v1h-1zM101 0h1v1h-1zM191 0h1v1h-1zM29 1h1v1h-1zM100 1h1v1h-1zM152 1h1v1h-1zM182 1h1v1h-1zM184 1h1v1h-1zM28 2h1v1h-1zM53 2h1v1h-1zM180 2h1v1h-1zM7 3h1v1h-1zM17 3h1v1h-1zM48 3h1v1h-1zM75 3h1v1h-1zM130 3h1v1h-1zM133 3h1v1h-1zM170 3h1v1h-1zM30 4h1v1h-1zM87 4h1v1h-1zM177 4h1v1h-1zM29 5h1v1h-1zM42 5h1v1h-1zM112 5h1v1h-1zM125 5h1v1h-1zM143 5h1v1h-1zM89 6h1v1h-1zM103 6h1v1h-1zM125 6h1v1h-1zM143 6h1v1h-1zM190 6h1v1h-1zM84 7h1v1h-1zM159 7h1v1h-1zM163 7h1v1h-1zM194 7h1v1h-1zM62 8h1v1h-1zM79 8h1v1h-1zM107 8h1v1h-1zM112 8h1v1h-1zM131 8h1v1h-1zM133 8h1v1h-1zM138 8h1v1h-1zM150 8h1v1h-1zM21 9h1v1h-1zM64 9h1v1h-1zM89 9h1v1h-1zM99 9h1v1h-1zM105 9h1v1h-1zM121 9h1v1h-1zM156 9h1v1h-1zM167 9h1v1h-1zM194 9h1v1h-1zM52 10h1v1h-1zM65 10h1v1h-1zM154 10h1v1h-1zM191 10h1v1h-1zM82 11h1v1h-1z"/>
<path fill="#f6c9ca" d="M51 0h1v1h-1zM56 0h1v1h-1zM68 0h1v1h-1zM83 0h2v1h-2zM95 0h1v1h-1zM104 0h1v1h-1zM19 1h1v1h-1zM21 1h1v1h-1zM61 1h1v1h-1zM160 2h1v1h-1zM183 2h1v1h-1zM2 3h1v1h-1zM16 3h1v1h-1zM19 3h1v1h-1zM29 3h1v1h-1zM47 3h1v1h-1zM49 3h1v1h-1zM140 3h1v1h-1zM6 4h1v1h-1zM40 4h1v1h-1zM80 4h1v1h-1zM105 4h1v1h-1zM154 4h1v1h-1zM18 5h2v1h-2zM62 5h1v1h-1zM84 5h1v1h-1zM95 5h1v1h-1zM100 5h1v1h-1zM118 5h1v1h-1zM127 5h1v1h-1zM130 5h1v1h-1zM22 6h1v1h-1zM34 6h1v1h-1zM66 6h1v1h-1zM91 6h1v1h-1zM107 6h1v1h-1zM22 7h1v1h-1zM119 7h1v1h-1zM132 7h1v1h-1zM0 8h1v1h-1zM43 8h1v1h-1zM141 8h1v1h-1zM148 8h1v1h-1zM151 8h1v1h-1zM72 9h1v1h-1zM75 9h1v1h-1zM137 9h1v1h-1zM145 9h1v1h-1zM154 9h1v1h-1zM70 10h1v1h-1zM78 10h1v1h-1zM182 10h1v1h-1zM186 10h1v1h-1zM8 11h1v1h-1zM27 11h1v1h-1zM102 11h1v1h-1zM104 11h1v1h-1zM156 11h1v1h-1zM193 11h1v1h-1z"/>
<path fill="#f7d0d1" d="M31 0h1v1h-1zM40 0h1v1h-1zM72 0h1v1h-1zM80 0h1v1h-1zM88 0h1v1h-1zM126 0h1v1h-1zM129 0h1v1h-1zM132 0h1v1h-1zM137 0h1v1h-1zM189 0h1v1h-1zM60 1h1v1h-1zM112 1h1v1h-1zM133 1h1v1h-1zM71 2h1v1h-1zM107 2h1v1h-1zM5 3h1v1h-1zM36 3h1v1h-1zM61 3h2v1h-2zM171 3h1v1h-1zM24 4h1v1h-1zM29 4h1v1h-1zM41 4h1v1h-1zM68 4h1v1h-1zM91 4h1v1h-1zM108 4h1v1h-1zM156 4h1v1h-1zM15 5h1v1h-1zM34 5h1v1h-1zM56 5h1v1h-1zM90 5h1v1h-1zM93 5h1v1h-1zM181 5h1v1h-1zM97 6h1v1h-1zM171 6h1v1h-1zM193 6h1v1h-1zM19 7h1v1h-1zM55 7h1v1h-1zM83 7h1v1h-1zM89 7h1v1h-1zM106 7h1v1h-1zM33 8h1v1h-1zM67 8h1v1h-1zM72 8h1v1h-1zM108 8h1v1h-1zM111 8h1v1h-1zM134 8h1v1h-1zM170 8h1v1h-1zM34 9h2v1h-2zM165 9h1v1h-1zM21 10h1v1h-1zM50 10h1v1h-1zM161 10h1v1h-1zM51 11h1v1h-1zM80 11h1v1h-1zM83 11h1v1h-1zM118 11h1v1h-1zM152 11h1v1h-1z"/>
<path fill="#ed8e8f" d="M27 0h1v1h-1zM71 0h1v1h-1zM73 0h1v1h-1zM134 0h1v1h-1zM141 0h1v1h-1zM183 0h1v1h-1zM27 1h1v1h-1zM71 1h1v1h-1zM77 1h1v1h-1zM82 1h1v1h-1zM143 1h1v1h-1zM154 1h1v1h-1zM159 1h1v1h-1zM199 1h1v1h-1zM104 2h1v1h-1zM171 2h1v1h-1zM22 3h1v1h-1zM40 3h1v1h-1zM56 3h1v1h-1zM59 3h1v1h-1zM68 3h1v1h-1zM4 4h1v1h-1zM94 4h1v1h-1zM114 4h1v1h-1zM119 4h1v1h-1zM127 4h1v1h-1zM157 4h1v1h-1zM160 4h1v1h-1zM61 5h1v1h-1zM155 5h1v1h-1zM161 5h1v1h-1zM166 5h1v1h-1zM32 6h2v1h-2zM177 6h1v1h-1zM25 7h1v1h-1zM77 7h1v1h-1zM165 7h1v1h-1zM196 7h1v1h-1zM27 8h1v1h-1zM39 8h1v1h-1zM69 8h1v1h-1zM155 8h1v1h-1zM162 8h1v1h-1zM197 8h1v1h-1zM7 9h1v1h-1zM32 9h1v1h-1zM155 9h1v1h-1zM170 9h1v1h-1zM40 10h1v1h-1zM123 10h1v1h-1zM176 10h1v1h-1zM5 11h1v1h-1zM47 11h1v1h-1zM59 11h1v1h-1zM97 11h1v1h-1z"/>
<path fill="#f4c2c3" d="M14 0h1v1h-1zM70 0h1v1h-1zM146 0h1v1h-1zM178 0h1v1h-1zM28 1h1v1h-1zM164 1h1v1h-1zM2 2h1v1h-1zM9 2h1v1h-1zM74 2h1v1h-1zM119 2h1v1h-1zM188 2h1v1h-1zM65 3h1v1h-1zM166 3h1v1h-1zM188 3h1v1h-1zM36 4h1v1h-1zM43 4h1v1h-1zM60 4h1v1h-1zM74 4h1v1h-1zM115 4h1v1h-1zM137 4h1v1h-1zM185 4h1v1h-1zM87 5h1v1h-1zM169 5h1v1h-1zM40 6h1v1h-1zM52 6h1v1h-1zM54 6h1v1h-1zM102 6h1v1h-1zM167 6h1v1h-1zM182 6h1v1h-1zM24 7h1v1h-1zM52 7h1v1h-1zM75 7h1v1h-1zM110 7h1v1h-1zM185 7h1v1h-1zM6 8h1v1h-1zM68 8h1v1h-1zM83 8h1v1h-1zM128 8h1v1h-1zM1 9h1v1h-1zM85 9h1v1h-1zM95 9h1v1h-1zM19 10h1v1h-1zM27 10h1v1h-1zM71 10h1v1h-1zM84 10h1v1h-1zM91 10h1v1h-1zM149 10h1v1h-1zM6 11h1v1h-1zM19 11h1v1h-1zM46 11h1v1h-1zM79 11h1v1h-1zM112 11h1v1h-1z"/>
<path fill="#ee9495" d="M115 0h1v1h-1zM155 0h1v1h-1zM157 0h1v1h-1zM193 0h1v1h-1zM79 1h2v1h-2zM88 2h1v1h-1zM126 2h1v1h-1zM18 3h1v1h-1zM111 3h1v1h-1zM11 4h1v1h-1zM34 4h1v1h-1zM49 4h1v1h-1zM67 4h1v1h-1zM83 4h1v1h-1zM110 4h1v1h-1zM142 4h1v1h-1zM187 4h1v1h-1zM2 5h1v1h-1zM6 5h1v1h-1zM39 5h1v1h-1zM45 5h1v1h-1zM107 5h1v1h-1zM1 6h1v1h-1zM6 7h1v1h-1zM62 7h1v1h-1zM136 7h1v1h-1zM191 7h1v1h-1zM22 8h2v1h-2zM47 8h1v1h-1zM55 8h1v1h-1zM114 8h1v1h-1zM117 8h1v1h-1zM0 9h1v1h-1zM2 9h1v1h-1zM83 9h1v1h-1zM8 10h1v1h-1zM43 10h1v1h-1zM56 10h1v1h-1zM75 10h1v1h-1zM132 10h1v1h-1zM153 10h1v1h-1zM169 10h1v1h-1zM175 10h1v1h-1zM2 11h1v1h-1zM26 11h1v1h-1zM60 11h1v1h-1zM71 11h1v1h-1zM144 11h1v1h-1zM192 11h1v1h-1z"/>
<path fill="#f3bbbc" d="M26 0h1v1h-1zM58 0h1v1h-1zM94 0h1v1h-1zM109 0h1v1h-1zM70 1h1v1h-1zM81 1h1v1h-1zM86 1h1v1h-1zM103 1h1v1h-1zM124 1h1v1h-1zM132 1h1v1h-1zM187 1h1v1h-1zM65 2h1v1h-1zM90 2h1v1h-1zM114 2h1v1h-1zM116 2h1v1h-1zM32 3h1v1h-1zM35 3h1v1h-1zM63 3h1v1h-1zM77 3h1v1h-1zM21 4h1v1h-1zM103 4h1v1h-1zM198 4h1v1h-1zM17 5h1v1h-1zM75 5h1v1h-1zM82 5h1v1h-1zM144 5h1v1h-1zM162 5h1v1h-1zM18 6h1v1h-1zM55 6h1v1h-1zM68 6h1v1h-1zM152 6h1v1h-1zM173 6h1v1h-1zM66 8h1v1h-1zM85 8h1v1h-1zM146 8h1v1h-1zM180 8h1v1h-1zM186 8h1v1h-1zM132 9h1v1h-1zM10 10h1v1h-1zM17 10h1v1h-1zM48 10h1v1h-1zM68 10h1v1h-1zM74 10h1v1h-1zM76 10h1v1h-1zM171 10h1v1h-1zM45 11h1v1h-1zM142 11h1v1h-1z"/>
<path fill="#f2b0b1" d="M4 0h1v1h-1zM25 0h1v1h-1zM6 1h1v1h-1zM51 1h1v1h-1zM69 1h1v1h-1zM107 1h1v1h-1zM79 2h1v1h-1zM98 3h1v1h-1zM102 3h1v1h-1zM125 3h1v1h-1zM149 3h1v1h-1zM158 3h1v1h-1zM160 3h1v1h-1zM164 3h1v1h-1zM173 3h1v1h-1zM19 4h1v1h-1zM23 4h1v1h-1zM129 4h1v1h-1zM176 4h1v1h-1zM38 5h1v1h-1zM64 5h1v1h-1zM109 5h1v1h-1zM116 5h1v1h-1zM149 5h1v1h-1zM3 6h1v1h-1zM37 6h1v1h-1zM178 7h1v1h-1zM181 7h1v1h-1zM11 8h1v1h-1zM56 8h1v1h-1zM63 8h1v1h-1zM84 8h1v1h-1zM74 9h1v1h-1zM84 9h1v1h-1zM96 9h1v1h-1zM107 9h1v1h-1zM110 9h1v1h-1zM122 9h1v1h-1zM181 9h1v1h-1zM82 10h1v1h-1zM10 11h1v1h-1zM17 11h1v1h-1zM63 11h1v1h-1zM105 11h1v1h-1zM196 11h1v1h-1z"/>
<path fill="#f0a0a1" d="M48 0h1v1h-1zM102 0h2v1h-2zM110 0h1v1h-1zM143 0h1v1h-1zM153 0h1v1h-1zM167 0h1v1h-1zM76 1h1v1h-1zM142 1h1v1h-1zM188 1h1v1h-1zM14 2h2v1h-2zM99 2h1v1h-1zM70 3h1v1h-1zM117 3h1v1h-1zM174 3h1v1h-1zM195 3h1v1h-1zM63 4h1v1h-1zM197 4h1v1h-1zM28 5h1v1h-1zM81 5h1v1h-1zM111 5h1v1h-1zM124 5h1v1h-1zM133 5h1v1h-1zM112 6h1v1h-1zM151 6h1v1h-1zM168 6h1v1h-1zM13 7h1v1h-1zM17 7h1v1h-1zM63 7h1v1h-1zM68 7h1v1h-1zM190 7h1v1h-1zM48 8h1v1h-1zM52 8h1v1h-1zM57 8h1v1h-1zM71 8h1v1h-1zM17 9h1v1h-1zM26 9h1v1h-1zM79 9h1v1h-1zM100 9h1v1h-1zM131 9h1v1h-1zM49 10h1v1h-1zM66 10h1v1h-1zM168 10h1v1h-1zM56 11h1v1h-1zM185 11h1v1h-1z"/>
<path fill="#f1a5a6" d="M0 0h1v1h-1zM34 0h1v1h-1zM89 0h2v1h-2zM98 0h1v1h-1zM172 0h1v1h-1zM186 0h1v1h-1zM59 1h1v1h-1zM68 1h1v1h-1zM153 1h1v1h-1zM91 2h1v1h-1zM113 2h1v1h-1zM78 3h1v1h-1zM83 3h1v1h-1zM96 3h1v1h-1zM109 3h1v1h-1zM77 4h1v1h-1zM47 5h1v1h-1zM76 5h1v1h-1zM96 5h1v1h-1zM188 6h1v1h-1zM20 7h1v1h-1zM23 7h1v1h-1zM40 7h1v1h-1zM86 7h1v1h-1zM101 7h1v1h-1zM116 7h1v1h-1zM176 7h1v1h-1zM30 8h1v1h-1zM42 8h1v1h-1zM46 8h1v1h-1zM51 8h1v1h-1zM105 8h1v1h-1zM103 9h1v1h-1zM187 9h1v1h-1zM36 10h1v1h-1zM92 10h1v1h-1zM170 10h1v1h-1zM177 10h1v1h-1zM3 11h1v1h-1zM22 11h1v1h-1zM106 11h1v1h-1zM180 11h1v1h-1zM186 11h1v1h-1z"/>
<path fill="#214b9f" d="M21 0h1v1h-1zM53 0h1v1h-1zM97 0h1v1h-1zM128 0h1v1h-1zM147 0h1v1h-1zM150 0h1v1h-1zM7 1h1v1h-1zM114 1h1v1h-1zM189 2h1v1h-1zM79 3h1v1h-1zM135 3h1v1h-1zM3 4h1v1h-1zM18 4h1v1h-1zM149 4h1v1h-1zM192 4h1v1h-1zM22 5h1v1h-1zM41 5h1v1h-1zM174 5h1v1h-1zM31 6h1v1h-1zM106 6h1v1h-1zM116 6h1v1h-1zM162 6h1v1h-1zM128 7h1v1h-1zM38 8h1v1h-1zM139 8h1v1h-1zM189 8h1v1h-1zM195 8h1v1h-1zM30 9h1v1h-1zM43 9h1v1h-1zM116 9h1v1h-1zM130 9h1v1h-1zM139 9h1v1h-1zM178 9h1v1h-1zM47 10h1v1h-1zM109 10h1v1h-1zM144 10h1v1h-1zM187 10h1v1h-1zM9 11h1v1h-1zM139 11h1v1h-1zM171 11h1v1h-1z"/>
<path fill="#244b9f" d="M119 0h1v1h-1zM197 0h1v1h-1zM22 1h1v1h-1zM160 1h1v1h-1zM172 1h1v1h-1zM185 1h1v1h-1zM59 2h1v1h-1zM135 2h1v1h-1zM148 2h1v1h-1zM0 3h1v1h-1zM34 3h1v1h-1zM76 3h1v1h-1zM110 3h1v1h-1zM131 3h1v1h-1zM184 3h2v1h-2zM62 4h1v1h-1zM25 5h1v1h-1zM70 5h1v1h-1zM194 5h1v1h-1zM141 6h1v1h-1zM198 6h1v1h-1zM43 7h1v1h-1zM57 7h1v1h-1zM179 7h1v1h-1zM106 8h1v1h-1zM152 8h1v1h-1zM173 8h1v1h-1zM51 9h2v1h-2zM118 9h1v1h-1zM124 9h1v1h-1zM133 9h1v1h-1zM185 9h1v1h-1zM197 9h1v1h-1zM145 10h1v1h-1zM132 11h1v1h-1zM181 11h1v1h-1z"/>
<path fill="#f3b5b6" d="M12 0h1v1h-1zM59 0h1v1h-1zM109 1h1v1h-1zM129 1h1v1h-1zM22 2h1v1h-1zM195 2h1v1h-1zM3 3h1v1h-1zM50 3h1v1h-1zM103 3h1v1h-1zM14 4h1v1h-1zM42 4h1v1h-1zM53 4h1v1h-1zM104 4h1v1h-1zM199 4h1v1h-1zM36 5h1v1h-1zM53 5h1v1h-1zM57 6h1v1h-1zM158 6h1v1h-1zM161 6h1v1h-1zM39 7h1v1h-1zM109 7h1v1h-1zM144 7h1v1h-1zM175 7h1v1h-1zM32 8h1v1h-1zM76 8h1v1h-1zM175 8h1v1h-1zM193 8h1v1h-1zM162 9h1v1h-1zM11 10h1v1h-1zM39 10h1v1h-1zM87 10h1v1h-1zM117 10h1v1h-1zM119 10h1v1h-1zM93 11h1v1h-1zM177 11h1v1h-1z"/>
<path fill="#e1e1f0" d="M55 0h1v1h-1zM10 1h1v1h-1zM57 1h1v1h-1zM64 1h2v1h-2zM97 1h1v1h-1zM180 1h1v1h-1zM0 2h1v1h-1zM56 2h1v1h-1zM42 3h1v1h-1zM119 3h1v1h-1zM59 4h1v1h-1zM128 4h1v1h-1zM10 6h1v1h-1zM50 6h1v1h-1zM159 6h1v1h-1zM2 7h1v1h-1zM18 7h1v1h-1zM58 7h1v1h-1zM115 7h1v1h-1zM26 8h1v1h-1zM100 8h1v1h-1zM136 8h1v1h-1zM11 9h1v1h-1zM68 9h1v1h-1zM182 9h1v1h-1zM199 9h1v1h-1zM5 10h1v1h-1zM34 10h1v1h-1zM51 10h1v1h-1zM108 10h1v1h-1zM179 10h1v1h-1zM103 11h1v1h-1zM117 11h1v1h-1zM127 11h1v1h-1zM172 11h1v1h-1z"/>
<path fill="#2e4ea0" d="M75 0h2v1h-2zM160 0h1v1h-1zM91 1h1v1h-1zM93 1h1v1h-1zM125 1h1v1h-1zM174 1h1v1h-1zM151 2h1v1h-1zM199 2h1v1h-1zM11 3h1v1h-1zM73 3h1v1h-1zM112 3h1v1h-1zM122 3h1v1h-1zM137 3h1v1h-1zM153 4h1v1h-1zM135 5h1v1h-1zM154 5h1v1h-1zM189 5h1v1h-1zM86 6h1v1h-1zM138 6h1v1h-1zM186 6h1v1h-1zM42 7h1v1h-1zM71 7h1v1h-1zM92 7h1v1h-1zM100 7h1v1h-1zM139 7h1v1h-1zM132 8h1v1h-1zM194 8h1v1h-1zM62 9h1v1h-1zM148 9h1v1h-1zM25 10h1v1h-1zM129 10h1v1h-1zM180 10h1v1h-1zM188 10h1v1h-1zM75 11h1v1h-1z"/>
<path fill="#fdf2f2" d="M20 0h1v1h-1zM92 0h1v1h-1zM173 0h1v1h-1zM179 0h1v1h-1zM42 1h1v1h-1zM63 1h1v1h-1zM74 1h1v1h-1zM101 1h1v1h-1zM151 1h1v1h-1zM165 1h1v1h-1zM5 2h1v1h-1zM185 2h1v1h-1zM89 3h1v1h-1zM94 3h1v1h-1zM17 4h1v1h-1zM31 4h1v1h-1zM102 4h1v1h-1zM151 4h1v1h-1zM195 4h1v1h-1zM69 5h1v1h-1zM23 6h1v1h-1zM123 6h1v1h-1zM149 6h1v1h-1zM14 7h1v1h-1zM90 7h1v1h-1zM44 8h1v1h-1zM167 8h1v1h-1zM10 9h1v1h-1zM150 9h1v1h-1zM32 10h1v1h-1zM55 10h1v1h-1zM33 11h1v1h-1zM195 11h1v1h-1z"/>
<path fill="#fbe9ea" d="M41 0h1v1h-1zM78 0h1v1h-1zM75 1h1v1h-1zM87 1h1v1h-1zM99 1h1v1h-1zM108 1h1v1h-1zM111 1h1v1h-1zM161 1h1v1h-1zM37 2h1v1h-1zM168 2h1v1h-1zM172 2h1v1h-1zM176 2h1v1h-1zM0 4h1v1h-1zM98 4h1v1h-1zM171 4h1v1h-1zM196 4h1v1h-1zM141 5h1v1h-1zM5 6h1v1h-1zM12 6h1v1h-1zM43 6h1v1h-1zM195 7h1v1h-1zM53 8h1v1h-1zM120 8h1v1h-1zM181 8h1v1h-1zM187 8h1v1h-1zM126 9h1v1h-1zM149 9h1v1h-1zM57 10h1v1h-1zM167 10h1v1h-1zM192 10h1v1h-1zM34 11h1v1h-1zM179 11h1v1h-1z"/>
<path fill="#3350a1" d="M123 0h1v1h-1zM158 0h1v1h-1zM25 1h1v1h-1zM84 1h1v1h-1zM96 1h1v1h-1zM183 1h1v1h-1zM194 1h1v1h-1zM12 2h1v1h-1zM69 3h1v1h-1zM87 3h1v1h-1zM150 3h1v1h-1zM159 3h1v1h-1zM194 3h1v1h-1zM10 4h1v1h-1zM44 4h1v1h-1zM71 5h1v1h-1zM114 5h1v1h-1zM153 5h1v1h-1zM35 6h1v1h-1zM73 6h1v1h-1zM82 6h1v1h-1zM128 6h1v1h-1zM130 6h1v1h-1zM135 6h1v1h-1zM178 6h1v1h-1zM95 7h1v1h-1zM10 8h1v1h-1zM87 8h1v1h-1zM115 11h1v1h-1zM184 11h1v1h-1z"/>
<path fill="#1f4a9e" d="M15 0h1v1h-1zM122 0h1v1h-1zM151 0h1v1h-1zM171 0h1v1h-1zM126 1h1v1h-1zM131 1h1v1h-1zM135 1h1v1h-1zM20 3h1v1h-1zM33 3h1v1h-1zM12 4h1v1h-1zM23 5h1v1h-1zM65 5h1v1h-1zM136 5h1v1h-1zM183 5h1v1h-1zM131 6h1v1h-1zM4 7h1v1h-1zM64 7h1v1h-1zM131 7h1v1h-1zM162 7h1v1h-1zM193 7h1v1h-1zM18 8h1v1h-1zM140 8h1v1h-1zM159 8h1v1h-1zM185 8h1v1h-1zM199 8h1v1h-1zM78 9h1v1h-1zM125 10h1v1h-1zM38 11h1v1h-1zM92 11h1v1h-1z"/>
<path fill="#e4e4f2" d="M52 0h1v1h-1zM188 0h1v1h-1zM98 1h1v1h-1zM137 1h1v1h-1zM18 2h1v1h-1zM55 2h1v1h-1zM93 2h1v1h-1zM146 2h1v1h-1zM13 5h1v1h-1zM35 5h1v1h-1zM106 5h1v1h-1zM100 6h1v1h-1zM150 6h1v1h-1zM30 7h1v1h-1zM91 7h1v1h-1zM149 7h1v1h-1zM21 8h1v1h-1zM45 8h1v1h-1zM144 8h1v1h-1zM172 8h1v1h-1zM3 9h1v1h-1zM29 10h1v1h-1zM143 10h1v1h-1zM160 10h1v1h-1zM23 11h1v1h-1zM30 11h1v1h-1zM37 11h1v1h-1zM90 11h1v1h-1zM174 11h1v1h-1z"/>
<path fill="#274c9f" d="M54 0h1v1h-1zM127 0h1v1h-1zM165 0h1v1h-1zM113 1h1v1h-1zM140 1h1v1h-1zM186 1h1v1h-1zM170 2h1v1h-1zM184 2h1v1h-1zM55 3h1v1h-1zM133 4h1v1h-1zM140 4h1v1h-1zM147 4h1v1h-1zM99 5h1v1h-1zM178 5h1v1h-1zM129 6h1v1h-1zM127 7h1v1h-1zM184 7h1v1h-1zM115 9h1v1h-1zM141 9h1v1h-1zM12 10h1v1h-1zM63 10h1v1h-1zM96 10h1v1h-1zM136 10h1v1h-1zM39 11h1v1h-1zM74 11h1v1h-1zM77 11h1v1h-1zM114 11h1v1h-1zM136 11h1v1h-1z"/>
<path fill="#e97172" d="M19 0h1v1h-1zM42 0h1v1h-1zM181 1h1v1h-1zM89 2h1v1h-1zM103 2h1v1h-1zM173 2h1v1h-1zM182 2h1v1h-1zM66 3h1v1h-1zM95 3h1v1h-1zM69 4h1v1h-1zM76 4h1v1h-1zM165 4h1v1h-1zM177 5h1v1h-1zM39 6h1v1h-1zM137 6h1v1h-1zM154 6h1v1h-1zM41 7h1v1h-1zM167 7h1v1h-1zM12 8h1v1h-1zM82 8h1v1h-1zM125 8h1v1h-1zM160 8h1v1h-1zM31 9h1v1h-1zM48 9h1v1h-1zM122 10h1v1h-1zM126 10h1v1h-1zM61 11h2v1h-2z"/>
<path fill="#e43735" d="M43 0h1v1h-1zM121 0h1v1h-1zM38 1h1v1h-1zM58 1h1v1h-1zM85 1h1v1h-1zM102 1h1v1h-1zM4 2h1v1h-1zM64 2h1v1h-1zM145 2h1v1h-1zM54 3h1v1h-1zM39 4h1v1h-1zM85 4h1v1h-1zM88 4h1v1h-1zM42 6h1v1h-1zM44 6h1v1h-1zM143 8h1v1h-1zM88 9h1v1h-1zM111 9h1v1h-1zM195 9h1v1h-1zM58 10h1v1h-1zM156 10h1v1h-1zM184 10h1v1h-1zM32 11h1v1h-1zM94 11h1v1h-1zM107 11h1v1h-1zM122 11h1v1h-1zM145 11h1v1h-1z"/>
<path fill="#fbe7e8" d="M1 0h1v1h-1zM154 0h1v1h-1zM45 2h1v1h-1zM66 2h1v1h-1zM26 3h1v1h-1zM175 3h1v1h-1zM51 4h1v1h-1zM86 4h1v1h-1zM4 5h1v1h-1zM52 5h1v1h-1zM77 5h1v1h-1zM123 5h1v1h-1zM142 5h1v1h-1zM145 5h1v1h-1zM28 6h1v1h-1zM197 6h1v1h-1zM26 7h1v1h-1zM155 7h1v1h-1zM15 8h1v1h-1zM60 8h1v1h-1zM86 8h1v1h-1zM63 9h1v1h-1zM134 9h1v1h-1zM102 10h1v1h-1zM113 10h1v1h-1zM43 11h1v1h-1z"/>
<path fill="#fcebec" d="M35 0h1v1h-1zM45 0h1v1h-1zM69 0h1v1h-1zM114 0h1v1h-1zM43 1h1v1h-1zM60 2h1v1h-1zM101 2h1v1h-1zM108 2h1v1h-1zM110 2h1v1h-1zM150 2h1v1h-1zM153 2h2v1h-2zM131 4h1v1h-1zM166 4h1v1h-1zM50 5h1v1h-1zM175 5h1v1h-1zM95 6h1v1h-1zM16 7h1v1h-1zM36 7h1v1h-1zM59 7h1v1h-1zM88 7h1v1h-1zM97 8h1v1h-1zM183 8h1v1h-1zM40 9h1v1h-1zM186 9h1v1h-1zM88 10h1v1h-1zM165 10h1v1h-1z"/>
<path fill="#fcf0f1" d="M2 0h1v1h-1zM47 0h1v1h-1zM1 2h1v1h-1zM35 2h1v1h-1zM181 2h1v1h-1zM24 3h1v1h-1zM116 4h1v1h-1zM143 4h1v1h-1zM62 6h1v1h-1zM64 6h1v1h-1zM93 6h1v1h-1zM164 6h1v1h-1zM176 6h1v1h-1zM191 6h2v1h-2zM61 7h1v1h-1zM113 7h1v1h-1zM7 8h1v1h-1zM65 8h1v1h-1zM67 9h1v1h-1zM16 10h1v1h-1zM73 10h1v1h-1zM107 10h1v1h-1zM53 11h1v1h-1zM58 11h1v1h-1zM128 11h1v1h-1z"/>
<path fill="#e86362" d="M32 2h1v1h-1zM75 2h1v1h-1zM84 2h1v1h-1zM132 2h1v1h-1zM14 3h1v1h-1zM120 3h1v1h-1zM190 4h1v1h-1zM30 5h1v1h-1zM55 5h1v1h-1zM195 5h1v1h-1zM197 5h1v1h-1zM79 7h1v1h-1zM117 7h1v1h-1zM16 8h1v1h-1zM103 8h1v1h-1zM33 9h1v1h-1zM49 9h1v1h-1zM61 9h1v1h-1zM94 9h1v1h-1zM112 9h1v1h-1zM6 10h1v1h-1zM37 10h1v1h-1zM94 10h1v1h-1zM100 10h1v1h-1zM50 11h1v1h-1z"/>
<path fill="#e54b49" d="M81 0h1v1h-1zM189 1h1v1h-1zM197 1h1v1h-1zM21 2h1v1h-1zM133 2h1v1h-1zM162 2h1v1h-1zM51 3h1v1h-1zM60 3h1v1h-1zM101 3h1v1h-1zM45 4h1v1h-1zM186 4h1v1h-1zM31 7h1v1h-1zM189 7h1v1h-1zM49 8h1v1h-1zM161 8h1v1h-1zM177 8h1v1h-1zM6 9h1v1h-1zM15 10h1v1h-1zM1 11h1v1h-1zM15 11h1v1h-1zM69 11h1v1h-1zM86 11h1v1h-1zM95 11h1v1h-1zM164 11h1v1h-1z"/>
<path fill="#e75c5a" d="M118 0h1v1h-1zM9 1h1v1h-1zM83 1h1v1h-1zM118 1h1v1h-1zM166 1h1v1h-1zM97 2h1v1h-1zM84 3h1v1h-1zM157 3h1v1h-1zM112 4h1v1h-1zM43 5h1v1h-1zM94 5h1v1h-1zM126 5h1v1h-1zM84 6h1v1h-1zM1 7h1v1h-1zM81 7h2v1h-2zM94 7h1v1h-1zM107 7h1v1h-1zM111 7h1v1h-1zM174 7h1v1h-1zM54 10h1v1h-1zM62 10h1v1h-1zM76 11h1v1h-1zM98 11h1v1h-1zM110 11h1v1h-1z"/>
<path fill="#e44340" d="M136 0h1v1h-1zM162 0h1v1h-1zM23 1h1v1h-1zM33 1h1v1h-1zM37 1h1v1h-1zM41 1h1v1h-1zM127 1h1v1h-1zM149 1h1v1h-1zM198 1h1v1h-1zM141 2h1v1h-1zM193 2h1v1h-1zM7 4h1v1h-1zM28 4h1v1h-1zM71 4h1v1h-1zM89 4h1v1h-1zM54 5h1v1h-1zM57 5h1v1h-1zM41 6h1v1h-1zM85 7h1v1h-1zM8 8h1v1h-1zM34 8h1v1h-1zM103 10h1v1h-1zM24 11h1v1h-1zM73 11h1v1h-1z"/>
<path fill="#f2f2f9" d="M175 0h1v1h-1zM12 1h1v1h-1zM30 1h1v1h-1zM45 1h1v1h-1zM89 1h1v1h-1zM92 1h1v1h-1zM95 1h1v1h-1zM24 2h1v1h-1zM30 3h1v1h-1zM64 3h1v1h-1zM26 4h1v1h-1zM172 4h2v1h-2zM194 4h1v1h-1zM12 7h1v1h-1zM166 7h1v1h-1zM29 8h1v1h-1zM74 8h2v1h-2zM191 8h1v1h-1zM37 9h1v1h-1zM31 10h1v1h-1zM199 10h1v1h-1zM36 11h1v1h-1zM120 11h1v1h-1zM155 11h1v1h-1z"/>
<path fill="#fceded" d="M40 1h1v1h-1zM48 1h1v1h-1zM115 1h1v1h-1zM36 2h1v1h-1zM102 2h1v1h-1zM191 2h1v1h-1zM9 3h1v1h-1zM39 3h1v1h-1zM44 3h1v1h-1zM187 3h1v1h-1zM92 5h1v1h-1zM115 5h1v1h-1zM134 5h1v1h-1zM140 5h1v1h-1zM165 5h1v1h-1zM56 6h1v1h-1zM147 6h1v1h-1zM174 6h1v1h-1zM11 7h1v1h-1zM198 7h1v1h-1zM161 9h1v1h-1zM67 10h1v1h-1zM111 10h1v1h-1zM21 11h1v1h-1z"/>
<path fill="#ebebf6" d="M5 0h1v1h-1zM23 0h1v1h-1zM32 0h1v1h-1zM145 0h1v1h-1zM155 1h1v1h-1zM17 2h1v1h-1zM58 2h1v1h-1zM109 2h1v1h-1zM157 2h1v1h-1zM6 3h1v1h-1zM108 3h1v1h-1zM169 4h1v1h-1zM7 7h1v1h-1zM47 7h1v1h-1zM19 8h1v1h-1zM88 8h1v1h-1zM124 8h1v1h-1zM126 8h1v1h-1zM18 9h1v1h-1zM56 9h1v1h-1zM69 10h1v1h-1zM118 10h1v1h-1zM166 11h1v1h-1z"/>
<path fill="#fdf4f4" d="M30 0h1v1h-1zM5 1h1v1h-1zM50 1h1v1h-1zM88 1h1v1h-1zM70 2h1v1h-1zM95 2h1v1h-1zM175 2h1v1h-1zM179 2h1v1h-1zM147 3h1v1h-1zM152 3h1v1h-1zM79 4h1v1h-1zM138 4h2v1h-2zM21 5h1v1h-1zM26 5h1v1h-1zM153 6h1v1h-1zM179 6h1v1h-1zM73 8h1v1h-1zM96 8h1v1h-1zM101 8h1v1h-1zM77 9h1v1h-1zM99 10h1v1h-1zM143 11h1v1h-1zM157 11h1v1h-1z"/>
<path fill="#ec8788" d="M99 0h1v1h-1zM105 0h1v1h-1zM18 1h1v1h-1zM20 1h1v1h-1zM176 1h1v1h-1zM33 2h1v1h-1zM68 2h1v1h-1zM123 2h1v1h-1zM90 3h1v1h-1zM182 3h1v1h-1zM46 5h1v1h-1zM51 5h1v1h-1zM105 5h1v1h-1zM182 5h1v1h-1zM71 6h1v1h-1zM8 7h1v1h-1zM34 7h1v1h-1zM65 7h1v1h-1zM110 8h1v1h-1zM18 10h1v1h-1zM26 10h1v1h-1zM93 10h1v1h-1zM149 11h1v1h-1z"/>
<path fill="#2b4da0" d="M9 0h1v1h-1zM124 2h1v1h-1zM128 2h1v1h-1zM147 2h1v1h-1zM23 3h1v1h-1zM104 3h1v1h-1zM155 3h1v1h-1zM176 3h1v1h-1zM22 4h1v1h-1zM126 6h1v1h-1zM181 6h1v1h-1zM112 7h1v1h-1zM153 7h2v1h-2zM20 8h1v1h-1zM145 8h1v1h-1zM179 9h1v1h-1zM7 10h1v1h-1zM41 10h1v1h-1zM131 10h1v1h-1zM67 11h1v1h-1zM189 11h1v1h-1zM191 11h1v1h-1z"/>
<path fill="#fcefef" d="M11 0h1v1h-1zM11 1h1v1h-1zM34 1h1v1h-1zM179 1h1v1h-1zM121 2h1v1h-1zM12 3h1v1h-1zM37 4h1v1h-1zM125 4h1v1h-1zM180 7h1v1h-1zM188 7h1v1h-1zM5 8h1v1h-1zM55 9h1v1h-1zM87 9h1v1h-1zM128 9h1v1h-1zM33 10h1v1h-1zM140 10h2v1h-2zM195 10h1v1h-1zM197 10h1v1h-1zM16 11h1v1h-1zM41 11h1v1h-1zM124 11h1v1h-1zM194 11h1v1h-1z"/>
<path fill="#efeff7" d="M16 0h1v1h-1zM37 0h1v1h-1zM148 0h1v1h-1zM78 2h1v1h-1zM8 3h1v1h-1zM124 3h1v1h-1zM27 4h1v1h-1zM168 4h1v1h-1zM24 5h1v1h-1zM40 5h1v1h-1zM79 5h1v1h-1zM148 5h1v1h-1zM114 6h1v1h-1zM122 6h1v1h-1zM97 7h1v1h-1zM104 7h1v1h-1zM138 7h1v1h-1zM150 7h1v1h-1zM37 8h1v1h-1zM64 8h1v1h-1zM119 8h1v1h-1zM14 11h1v1h-1z"/>
<path fill="#e65451" d="M77 0h1v1h-1zM180 0h1v1h-1zM121 1h1v1h-1zM38 2h1v1h-1zM41 2h1v1h-1zM198 2h1v1h-1zM165 3h1v1h-1zM172 3h1v1h-1zM47 6h1v1h-1zM54 7h1v1h-1zM160 7h1v1h-1zM58 8h1v1h-1zM61 8h1v1h-1zM78 8h1v1h-1zM164 8h1v1h-1zM29 9h1v1h-1zM66 9h1v1h-1zM71 9h1v1h-1zM14 10h1v1h-1zM155 10h1v1h-1zM157 10h1v1h-1zM178 10h1v1h-1z"/>
<path fill="#f8d6d7" d="M8 0h1v1h-1zM66 0h1v1h-1zM171 1h1v1h-1zM82 2h1v1h-1zM57 3h1v1h-1zM118 4h1v1h-1zM139 5h1v1h-1zM7 6h1v1h-1zM87 6h1v1h-1zM92 6h1v1h-1zM196 6h1v1h-1zM96 7h1v1h-1zM141 7h1v1h-1zM170 7h1v1h-1zM14 8h1v1h-1zM41 8h1v1h-1zM59 8h1v1h-1zM165 8h1v1h-1zM22 9h1v1h-1zM45 9h1v1h-1zM1 10h1v1h-1z"/>
<path fill="#e8e8f4" d="M181 0h1v1h-1zM190 0h1v1h-1zM55 1h1v1h-1zM130 1h1v1h-1zM196 1h1v1h-1zM6 2h1v1h-1zM20 2h1v1h-1zM111 2h1v1h-1zM107 3h1v1h-1zM61 4h1v1h-1zM124 4h1v1h-1zM65 6h1v1h-1zM0 7h1v1h-1zM5 7h1v1h-1zM133 7h1v1h-1zM31 8h1v1h-1zM130 8h1v1h-1zM61 10h1v1h-1zM105 10h1v1h-1zM135 11h1v1h-1zM161 11h1v1h-1z"/>
<path fill="#fbe6e6" d="M187 0h1v1h-1zM117 1h1v1h-1zM3 2h1v1h-1zM25 2h1v1h-1zM54 2h1v1h-1zM87 2h1v1h-1zM86 3h1v1h-1zM82 4h1v1h-1zM145 4h1v1h-1zM32 5h1v1h-1zM73 5h1v1h-1zM91 5h1v1h-1zM61 6h1v1h-1zM142 6h1v1h-1zM163 8h1v1h-1zM109 9h1v1h-1zM163 9h1v1h-1zM55 11h1v1h-1z"/>
<path fill="#1c4a9e" d="M199 0h1v1h-1zM98 2h1v1h-1zM100 2h1v1h-1zM129 2h1v1h-1zM31 5h1v1h-1zM104 5h1v1h-1zM26 6h1v1h-1zM140 6h1v1h-1zM165 6h1v1h-1zM118 7h1v1h-1zM121 7h1v1h-1zM156 7h1v1h-1zM2 8h1v1h-1zM137 8h1v1h-1zM173 10h1v1h-1zM160 11h1v1h-1zM190 11h1v1h-1z"/>
<path fill="#3851a2" d="M116 1h1v1h-1zM19 2h1v1h-1zM31 2h1v1h-1zM43 2h1v1h-1zM52 2h1v1h-1zM38 3h1v1h-1zM167 4h1v1h-1zM8 6h1v1h-1zM29 6h1v1h-1zM96 6h1v1h-1zM180 6h1v1h-1zM157 9h1v1h-1zM138 10h1v1h-1zM109 11h1v1h-1zM165 11h1v1h-1zM178 11h1v1h-1z"/>
<path fill="#e32c2a" d="M67 2h1v1h-1zM179 3h1v1h-1zM78 4h1v1h-1zM122 4h1v1h-1zM1 5h1v1h-1zM151 5h1v1h-1zM79 6h1v1h-1zM56 7h1v1h-1zM28 8h1v1h-1zM23 9h1v1h-1zM136 9h1v1h-1zM177 9h1v1h-1zM23 10h1v1h-1zM139 10h1v1h-1zM147 11h1v1h-1z"/>
<path fill="#e86a6a" d="M106 2h1v1h-1zM5 4h1v1h-1zM64 4h1v1h-1zM146 4h1v1h-1zM102 5h1v1h-1zM179 5h1v1h-1zM53 7h1v1h-1zM98 7h1v1h-1zM4 8h1v1h-1zM53 9h1v1h-1zM35 10h1v1h-1zM101 10h1v1h-1zM12 11h1v1h-1zM48 11h1v1h-1zM66 11h1v1h-1z"/>
<path fill="#ea7879" d="M86 0h1v1h-1zM133 0h1v1h-1zM49 2h1v1h-1zM167 3h1v1h-1zM48 5h1v1h-1zM83 5h1v1h-1zM46 6h1v1h-1zM156 6h1v1h-1zM183 6h1v1h-1zM29 7h1v1h-1zM169 8h1v1h-1zM87 11h1v1h-1z"/>
<path fill="#e3201f" d="M61 2h1v1h-1zM72 3h1v1h-1zM118 3h1v1h-1zM139 3h1v1h-1zM136 4h1v1h-1zM184 4h1v1h-1zM173 7h1v1h-1zM81 8h1v1h-1zM47 9h1v1h-1zM69 9h1v1h-1zM73 9h1v1h-1zM24 10h1v1h-1z"/>
<path fill="#dedeee" d="M177 1h1v1h-1zM142 2h1v1h-1zM128 3h1v1h-1zM132 4h1v1h-1zM15 9h1v1h-1zM42 9h1v1h-1z"/>
</g>
<text x="738.8" y="1192.6" font-size="26.4">ATM</text>
<text x="738.8" y="1220.6" font-size="26.4">ATR</text>
<text x="738" y="1270.7" font-size="26.4">ATM_S1981</text>
<text x="738" y="1299.7" font-size="26.4">ATR_S435</text>
<text x="738" y="1328.6" font-size="26.4">LIG1_S201</text>
<text x="738" y="1357.6" font-size="26.4">PARP10_S1011</text>
<text x="738" y="1386.5" font-size="26.4">PARP1_S782</text>
<text x="738" y="1415.5" font-size="26.4">SMC3_S1083</text>
<text x="738" y="1444.5" font-size="26.4">SSRP1_S659</text>
<text x="738" y="1473.4" font-size="26.4">SSRP1_S667</text>
<text x="738" y="1502.4" font-size="26.4">SSRP1_S668</text>
<text x="738" y="1531.3" font-size="26.4">SSRP1_S671</text>
<text x="738" y="1560.3" font-size="26.4">SSRP1_S672</text>
<text x="738" y="1589.3" font-size="26.4">SSRP1_S673</text>
<text x="738.8" y="1629" font-size="26.4">DDB2</text>
<text x="738.8" y="1658.2" font-size="26.4">ERCC3</text>
<text x="738.8" y="1687.4" font-size="26.4">GTF2F1</text>
<text x="738.8" y="1716.6" font-size="26.4">GTF2H1</text>
<text x="738.8" y="1745.8" font-size="26.4">GTF2H3</text>
<text x="738.8" y="1775" font-size="26.4">MLH1</text>
<text x="738.8" y="1804.2" font-size="26.4">MSH3</text>
<text x="738.8" y="1833.4" font-size="26.4">MSH6</text>
<text x="738.8" y="1862.6" font-size="26.4">MTA1</text>
<text x="738.8" y="1891.8" font-size="26.4">PARP9</text>
<text x="738.8" y="1921" font-size="26.4">RFC2</text>
<text x="738.8" y="1950.2" font-size="26.4">XRCC1</text>
<path d="M89.7 1168.6H77.6V1227.4H89.7" fill="none" stroke="#3a302c" stroke-width="1.5"/>
<path d="M89.7 1238.6H77.6V1589.8H89.7" fill="none" stroke="#3a302c" stroke-width="1.5"/>
<path d="M89.7 1604.5H77.6V1956.7H89.7" fill="none" stroke="#3a302c" stroke-width="1.5"/>
<text transform="translate(68.2 1201.4) rotate(-90)" font-size="27" text-anchor="middle">KSEA</text>
<text transform="translate(68.2 1451.2) rotate(-90)" font-size="27" text-anchor="middle">Phospho-site</text>
<text transform="translate(68.2 1782) rotate(-90)" font-size="27" text-anchor="middle">Profiling</text>
<line x1="856.5" y1="1605.6" x2="856.5" y2="1956.7" stroke="#000" stroke-width="2"/>
<text transform="translate(887.5 1772.5) rotate(-90)" font-size="27.5" text-anchor="middle">DNA damage</text>
<text x="631.7" y="1992.6" font-size="26" text-anchor="middle">Z score</text>
<rect x="538.7" y="2006.5" width="3.4" height="12.3" fill="#1c4a9e"/>
<rect x="541.8" y="2006.5" width="3.4" height="12.3" fill="#214b9f"/>
<rect x="544.9" y="2006.5" width="3.4" height="12.3" fill="#214b9f"/>
<rect x="548" y="2006.5" width="3.4" height="12.3" fill="#274c9f"/>
<rect x="551.1" y="2006.5" width="3.4" height="12.3" fill="#2b4da0"/>
<rect x="554.2" y="2006.5" width="3.4" height="12.3" fill="#2e4ea0"/>
<rect x="557.4" y="2006.5" width="3.4" height="12.3" fill="#2e4ea0"/>
<rect x="560.5" y="2006.5" width="3.4" height="12.3" fill="#3851a2"/>
<rect x="563.6" y="2006.5" width="3.4" height="12.3" fill="#3d53a3"/>
<rect x="566.7" y="2006.5" width="3.4" height="12.3" fill="#4355a5"/>
<rect x="569.8" y="2006.5" width="3.4" height="12.3" fill="#4355a5"/>
<rect x="572.9" y="2006.5" width="3.4" height="12.3" fill="#4f5aa8"/>
<rect x="576" y="2006.5" width="3.4" height="12.3" fill="#4f5aa8"/>
<rect x="579.1" y="2006.5" width="3.4" height="12.3" fill="#5c63ad"/>
<rect x="582.2" y="2006.5" width="3.4" height="12.3" fill="#5c63ad"/>
<rect x="585.3" y="2006.5" width="3.4" height="12.3" fill="#6b6eb4"/>
<rect x="588.4" y="2006.5" width="3.4" height="12.3" fill="#6b6eb4"/>
<rect x="591.5" y="2006.5" width="3.4" height="12.3" fill="#7a7dbc"/>
<rect x="594.7" y="2006.5" width="3.4" height="12.3" fill="#8285c0"/>
<rect x="597.8" y="2006.5" width="3.4" height="12.3" fill="#8a8dc4"/>
<rect x="600.9" y="2006.5" width="3.4" height="12.3" fill="#8a8dc4"/>
<rect x="604" y="2006.5" width="3.4" height="12.3" fill="#9d9fcd"/>
<rect x="607.1" y="2006.5" width="3.4" height="12.3" fill="#9d9fcd"/>
<rect x="610.2" y="2006.5" width="3.4" height="12.3" fill="#b2b3d8"/>
<rect x="613.3" y="2006.5" width="3.4" height="12.3" fill="#bdbede"/>
<rect x="616.4" y="2006.5" width="3.4" height="12.3" fill="#bdbede"/>
<rect x="619.5" y="2006.5" width="3.4" height="12.3" fill="#c8c8e3"/>
<rect x="622.6" y="2006.5" width="3.4" height="12.3" fill="#dadaed"/>
<rect x="625.7" y="2006.5" width="3.4" height="12.3" fill="#e4e4f2"/>
<rect x="628.8" y="2006.5" width="3.4" height="12.3" fill="#efeff7"/>
<rect x="632" y="2006.5" width="3.4" height="12.3" fill="#fcf0f1"/>
<rect x="635.1" y="2006.5" width="3.4" height="12.3" fill="#fcebec"/>
<rect x="638.2" y="2006.5" width="3.4" height="12.3" fill="#fbe6e6"/>
<rect x="641.3" y="2006.5" width="3.4" height="12.3" fill="#fae2e3"/>
<rect x="644.4" y="2006.5" width="3.4" height="12.3" fill="#f9dcdd"/>
<rect x="647.5" y="2006.5" width="3.4" height="12.3" fill="#f7d0d1"/>
<rect x="650.6" y="2006.5" width="3.4" height="12.3" fill="#f7d0d1"/>
<rect x="653.7" y="2006.5" width="3.4" height="12.3" fill="#f4c2c3"/>
<rect x="656.8" y="2006.5" width="3.4" height="12.3" fill="#f4c2c3"/>
<rect x="659.9" y="2006.5" width="3.4" height="12.3" fill="#f3bbbc"/>
<rect x="663" y="2006.5" width="3.4" height="12.3" fill="#f3b5b6"/>
<rect x="666.1" y="2006.5" width="3.4" height="12.3" fill="#f2b0b1"/>
<rect x="669.2" y="2006.5" width="3.4" height="12.3" fill="#f2aaab"/>
<rect x="672.4" y="2006.5" width="3.4" height="12.3" fill="#f0a0a1"/>
<rect x="675.5" y="2006.5" width="3.4" height="12.3" fill="#f0a0a1"/>
<rect x="678.6" y="2006.5" width="3.4" height="12.3" fill="#ee9495"/>
<rect x="681.7" y="2006.5" width="3.4" height="12.3" fill="#ee9495"/>
<rect x="684.8" y="2006.5" width="3.4" height="12.3" fill="#ec8788"/>
<rect x="687.9" y="2006.5" width="3.4" height="12.3" fill="#ec8788"/>
<rect x="691" y="2006.5" width="3.4" height="12.3" fill="#ea7879"/>
<rect x="694.1" y="2006.5" width="3.4" height="12.3" fill="#ea7879"/>
<rect x="697.2" y="2006.5" width="3.4" height="12.3" fill="#e97172"/>
<rect x="700.3" y="2006.5" width="3.4" height="12.3" fill="#e86a6a"/>
<rect x="703.4" y="2006.5" width="3.4" height="12.3" fill="#e75c5a"/>
<rect x="706.6" y="2006.5" width="3.4" height="12.3" fill="#e75c5a"/>
<rect x="709.7" y="2006.5" width="3.4" height="12.3" fill="#e65451"/>
<rect x="712.8" y="2006.5" width="3.4" height="12.3" fill="#e54b49"/>
<rect x="715.9" y="2006.5" width="3.4" height="12.3" fill="#e43735"/>
<rect x="719" y="2006.5" width="3.4" height="12.3" fill="#e43735"/>
<rect x="722.1" y="2006.5" width="3.4" height="12.3" fill="#e3201f"/>
<text x="538" y="2045.5" font-size="26" text-anchor="middle">&#8722;3</text>
<text x="633.3" y="2045.5" font-size="26" text-anchor="middle">0</text>
<text x="721.5" y="2045.5" font-size="26" text-anchor="middle">3</text>
<text x="947" y="1503" font-size="54">h</text>
<path d="M1112.8 1488.6V1778.7H1300.4" fill="none" stroke="#000" stroke-width="2"/>
<line x1="1106.8" y1="1488.6" x2="1112.8" y2="1488.6" stroke="#000" stroke-width="2"/>
<text x="1107.5" y="1495.4" font-size="19.5" text-anchor="end">6000</text>
<line x1="1106.8" y1="1584.8" x2="1112.8" y2="1584.8" stroke="#000" stroke-width="2"/>
<text x="1107.5" y="1591.6" font-size="19.5" text-anchor="end">4000</text>
<line x1="1106.8" y1="1682" x2="1112.8" y2="1682" stroke="#000" stroke-width="2"/>
<text x="1107.5" y="1688.8" font-size="19.5" text-anchor="end">2000</text>
<line x1="1106.8" y1="1778.7" x2="1112.8" y2="1778.7" stroke="#000" stroke-width="2"/>
<text x="1107.5" y="1785.5" font-size="19.5" text-anchor="end">0</text>
<line x1="1168.5" y1="1778.7" x2="1168.5" y2="1784.7" stroke="#000" stroke-width="2"/>
<line x1="1247.5" y1="1778.7" x2="1247.5" y2="1784.7" stroke="#000" stroke-width="2"/>
<rect x="1143.7" y="1621.9" width="49.7" height="60.1" fill="none" stroke="#e8392e" stroke-width="3.2"/>
<line x1="1143.7" y1="1662" x2="1193.4" y2="1662" stroke="#e8392e" stroke-width="3.2"/>
<line x1="1168.5" y1="1547" x2="1168.5" y2="1621.9" stroke="#e8392e" stroke-width="3.2"/>
<line x1="1168.5" y1="1682" x2="1168.5" y2="1719.2" stroke="#e8392e" stroke-width="3.2"/>
<line x1="1155.7" y1="1547" x2="1181.3" y2="1547" stroke="#e8392e" stroke-width="3.2"/>
<line x1="1155.7" y1="1719.2" x2="1181.3" y2="1719.2" stroke="#e8392e" stroke-width="3.2"/>
<rect x="1222" y="1668.3" width="51" height="50.9" fill="none" stroke="#f5a00f" stroke-width="3.2"/>
<line x1="1222" y1="1703.2" x2="1273" y2="1703.2" stroke="#f5a00f" stroke-width="3.2"/>
<line x1="1247.5" y1="1615.7" x2="1247.5" y2="1668.3" stroke="#f5a00f" stroke-width="3.2"/>
<line x1="1247.5" y1="1719.2" x2="1247.5" y2="1728.9" stroke="#f5a00f" stroke-width="3.2"/>
<line x1="1234.5" y1="1615.7" x2="1260.5" y2="1615.7" stroke="#f5a00f" stroke-width="3.2"/>
<line x1="1234.5" y1="1728.9" x2="1260.5" y2="1728.9" stroke="#f5a00f" stroke-width="3.2"/>
<text x="1204.3" y="1477.2" font-size="21.6" text-anchor="middle">TCGA cohort</text>
<text x="1204.3" y="1500.1" font-size="21.6" text-anchor="middle">CDK4</text>
<text x="1206" y="1527.6" font-size="21.5" text-anchor="middle">p=0.0215</text>
<line x1="1168.8" y1="1533.3" x2="1247.2" y2="1533.3" stroke="#333" stroke-width="1.5"/>
<text transform="translate(1061.5 1606) rotate(-90)" font-size="21.8" text-anchor="middle">mRNA expression (RESM)</text>
<text transform="translate(1185.5 1793.5) rotate(-45)" font-size="22" text-anchor="end">DGC</text>
<text transform="translate(1263.5 1795) rotate(-45)" font-size="22" text-anchor="end">IGC</text>
<path d="M1423.4 1487.5V1777.6H1610.5" fill="none" stroke="#000" stroke-width="2"/>
<line x1="1417.4" y1="1487.5" x2="1423.4" y2="1487.5" stroke="#000" stroke-width="2"/>
<text x="1418" y="1494.3" font-size="19.5" text-anchor="end">2000</text>
<line x1="1417.4" y1="1560.2" x2="1423.4" y2="1560.2" stroke="#000" stroke-width="2"/>
<text x="1418" y="1567" font-size="19.5" text-anchor="end">1500</text>
<line x1="1417.4" y1="1632.8" x2="1423.4" y2="1632.8" stroke="#000" stroke-width="2"/>
<text x="1418" y="1639.6" font-size="19.5" text-anchor="end">1000</text>
<line x1="1417.4" y1="1704.9" x2="1423.4" y2="1704.9" stroke="#000" stroke-width="2"/>
<text x="1418" y="1711.7" font-size="19.5" text-anchor="end">500</text>
<line x1="1417.4" y1="1777.6" x2="1423.4" y2="1777.6" stroke="#000" stroke-width="2"/>
<text x="1418" y="1784.4" font-size="19.5" text-anchor="end">0</text>
<line x1="1479" y1="1777.6" x2="1479" y2="1783.6" stroke="#000" stroke-width="2"/>
<line x1="1559" y1="1777.6" x2="1559" y2="1783.6" stroke="#000" stroke-width="2"/>
<rect x="1453.7" y="1687.7" width="50.9" height="42.3" fill="none" stroke="#e8392e" stroke-width="3.2"/>
<line x1="1453.7" y1="1707.2" x2="1504.6" y2="1707.2" stroke="#e8392e" stroke-width="3.2"/>
<line x1="1479" y1="1592.8" x2="1479" y2="1687.7" stroke="#e8392e" stroke-width="3.2"/>
<line x1="1479" y1="1730" x2="1479" y2="1746" stroke="#e8392e" stroke-width="3.2"/>
<line x1="1466.2" y1="1592.8" x2="1491.8" y2="1592.8" stroke="#e8392e" stroke-width="3.2"/>
<line x1="1466.2" y1="1746" x2="1491.8" y2="1746" stroke="#e8392e" stroke-width="3.2"/>
<rect x="1533.2" y="1591.6" width="51.5" height="63.5" fill="none" stroke="#f5a00f" stroke-width="3.2"/>
<line x1="1533.2" y1="1632.8" x2="1584.7" y2="1632.8" stroke="#f5a00f" stroke-width="3.2"/>
<line x1="1559" y1="1559.6" x2="1559" y2="1591.6" stroke="#f5a00f" stroke-width="3.2"/>
<line x1="1559" y1="1655.1" x2="1559" y2="1732.4" stroke="#f5a00f" stroke-width="3.2"/>
<line x1="1546" y1="1559.6" x2="1572" y2="1559.6" stroke="#f5a00f" stroke-width="3.2"/>
<line x1="1546" y1="1732.4" x2="1572" y2="1732.4" stroke="#f5a00f" stroke-width="3.2"/>
<text x="1516" y="1477.2" font-size="21.6" text-anchor="middle">TCGA cohort</text>
<text x="1516" y="1500.1" font-size="21.6" text-anchor="middle">ATR</text>
<text x="1522.4" y="1527.6" font-size="21.5" text-anchor="middle">p=0.0030</text>
<line x1="1479.5" y1="1533.3" x2="1559" y2="1533.3" stroke="#333" stroke-width="1.5"/>
<text transform="translate(1369.5 1606) rotate(-90)" font-size="21.8" text-anchor="middle">mRNA expression (RESM)</text>
<text transform="translate(1495.5 1793.5) rotate(-45)" font-size="22" text-anchor="end">DGC</text>
<text transform="translate(1574.5 1795) rotate(-45)" font-size="22" text-anchor="end">IGC</text>
<text x="1709.5" y="1437.2" font-size="23.2" text-anchor="middle">Z score</text>
<rect x="1627.1" y="1444.1" width="4.5" height="11.7" fill="#1f4a9e"/>
<rect x="1631.3" y="1444.1" width="4.5" height="11.7" fill="#214b9f"/>
<rect x="1635.4" y="1444.1" width="4.5" height="11.7" fill="#274c9f"/>
<rect x="1639.6" y="1444.1" width="4.5" height="11.7" fill="#2b4da0"/>
<rect x="1643.8" y="1444.1" width="4.5" height="11.7" fill="#3350a1"/>
<rect x="1647.9" y="1444.1" width="4.5" height="11.7" fill="#3851a2"/>
<rect x="1652.1" y="1444.1" width="4.5" height="11.7" fill="#4355a5"/>
<rect x="1656.3" y="1444.1" width="4.5" height="11.7" fill="#4958a6"/>
<rect x="1660.4" y="1444.1" width="4.5" height="11.7" fill="#565eab"/>
<rect x="1664.6" y="1444.1" width="4.5" height="11.7" fill="#5c63ad"/>
<rect x="1668.8" y="1444.1" width="4.5" height="11.7" fill="#6b6eb4"/>
<rect x="1672.9" y="1444.1" width="4.5" height="11.7" fill="#7276b8"/>
<rect x="1677.1" y="1444.1" width="4.5" height="11.7" fill="#8285c0"/>
<rect x="1681.2" y="1444.1" width="4.5" height="11.7" fill="#8a8dc4"/>
<rect x="1685.4" y="1444.1" width="4.5" height="11.7" fill="#9d9fcd"/>
<rect x="1689.6" y="1444.1" width="4.5" height="11.7" fill="#a7a9d3"/>
<rect x="1693.7" y="1444.1" width="4.5" height="11.7" fill="#bdbede"/>
<rect x="1697.9" y="1444.1" width="4.5" height="11.7" fill="#c8c8e3"/>
<rect x="1702.1" y="1444.1" width="4.5" height="11.7" fill="#dadaed"/>
<rect x="1706.2" y="1444.1" width="4.5" height="11.7" fill="#ebebf6"/>
<rect x="1717" y="1444.1" width="4.2" height="11.7" fill="#fcf0f1"/>
<rect x="1720.9" y="1444.1" width="4.2" height="11.7" fill="#fbe6e6"/>
<rect x="1724.8" y="1444.1" width="4.2" height="11.7" fill="#f9dcdd"/>
<rect x="1728.7" y="1444.1" width="4.2" height="11.7" fill="#f8d6d7"/>
<rect x="1732.6" y="1444.1" width="4.2" height="11.7" fill="#f6c9ca"/>
<rect x="1736.5" y="1444.1" width="4.2" height="11.7" fill="#f4c2c3"/>
<rect x="1740.4" y="1444.1" width="4.2" height="11.7" fill="#f3b5b6"/>
<rect x="1744.3" y="1444.1" width="4.2" height="11.7" fill="#f2b0b1"/>
<rect x="1748.2" y="1444.1" width="4.2" height="11.7" fill="#f1a5a6"/>
<rect x="1752.1" y="1444.1" width="4.2" height="11.7" fill="#f0a0a1"/>
<rect x="1756" y="1444.1" width="4.2" height="11.7" fill="#ee9495"/>
<rect x="1759.8" y="1444.1" width="4.2" height="11.7" fill="#ed8e8f"/>
<rect x="1763.7" y="1444.1" width="4.2" height="11.7" fill="#eb8081"/>
<rect x="1767.6" y="1444.1" width="4.2" height="11.7" fill="#ea7879"/>
<rect x="1771.5" y="1444.1" width="4.2" height="11.7" fill="#e86a6a"/>
<rect x="1775.4" y="1444.1" width="4.2" height="11.7" fill="#e86362"/>
<rect x="1779.3" y="1444.1" width="4.2" height="11.7" fill="#e65451"/>
<rect x="1783.2" y="1444.1" width="4.2" height="11.7" fill="#e54b49"/>
<rect x="1787.1" y="1444.1" width="4.2" height="11.7" fill="#e43735"/>
<rect x="1791" y="1444.1" width="4.2" height="11.7" fill="#e32c2a"/>
<text x="1631" y="1481.8" font-size="23.2" text-anchor="middle">&#8722;3</text>
<text x="1713.5" y="1481.8" font-size="23.2" text-anchor="middle">0</text>
<text x="1793.5" y="1481.8" font-size="23.2" text-anchor="middle">3</text>
<text x="-1.2" y="2148.5" font-size="54" fill="#231815">i</text>
<path d="M137.7 2164.4V2445H481.2" fill="none" stroke="#000" stroke-width="2"/>
<line x1="131.7" y1="2191" x2="137.7" y2="2191" stroke="#000" stroke-width="2"/>
<text x="126.5" y="2198.7" font-size="21.5" text-anchor="end">100</text>
<line x1="131.7" y1="2318.2" x2="137.7" y2="2318.2" stroke="#000" stroke-width="2"/>
<text x="126.5" y="2325.9" font-size="21.5" text-anchor="end">50</text>
<line x1="131.7" y1="2445" x2="137.7" y2="2445" stroke="#000" stroke-width="2"/>
<text x="126.5" y="2452.7" font-size="21.5" text-anchor="end">0</text>
<line x1="137.5" y1="2445" x2="137.5" y2="2452" stroke="#000" stroke-width="2"/>
<text x="137.4" y="2477" font-size="22" text-anchor="middle">0</text>
<line x1="275.7" y1="2445" x2="275.7" y2="2452" stroke="#000" stroke-width="2"/>
<text x="279" y="2477" font-size="22" text-anchor="middle">50</text>
<line x1="414" y1="2445" x2="414" y2="2452" stroke="#000" stroke-width="2"/>
<text x="420.5" y="2477" font-size="22" text-anchor="middle">100</text>
<text x="309.3" y="2511" font-size="25" text-anchor="middle">Months</text>
<text transform="translate(81.2 2308) rotate(-90)" font-size="25.4" text-anchor="middle">Probability of survival</text>
<text x="317.2" y="2127.2" font-size="25" text-anchor="middle">TCGA cohort</text>
<text x="317.2" y="2158.4" font-size="25" text-anchor="middle">CDK4 in DGC</text>
<text x="317.2" y="2189.5" font-size="25" text-anchor="middle">p=0.0352</text>
<path d="M137.7 2191.1H180.7V2219.5H460" fill="none" stroke="#2b3590" stroke-width="3.6" stroke-linejoin="miter" stroke-linecap="butt"/>
<path d="M200.4 2218.5v-5M231.5 2218.5v-5M234.6 2218.5v-5M237.6 2218.5v-5M249.7 2218.5v-5M334.4 2218.5v-5M458.5 2218.5v-5" stroke="#2b3590" stroke-width="2.6" fill="none"/>
<path d="M137.7 2191.1H155V2211.3H168V2235.5H169.5V2258.2H183.1V2305.2H184.6V2352.1H205.8" fill="none" stroke="#ee1c25" stroke-width="3.6" stroke-linejoin="miter" stroke-linecap="butt"/>
<path d="M161.9 2210.3v-5M171 2257.2v-5M189.2 2351.1v-5M204.3 2351.1v-5" stroke="#ee1c25" stroke-width="2.6" fill="none"/>
<line x1="151.3" y1="2405" x2="179.2" y2="2405" stroke="#ee1c25" stroke-width="3.2"/>
<line x1="151.3" y1="2427.7" x2="179.2" y2="2427.7" stroke="#2b3590" stroke-width="3.2"/>
<text x="186" y="2411" font-size="21.9">High expression n=9</text>
<text x="186" y="2432.9" font-size="21.9">Low expression n=13</text>
<path d="M562.8 2162.3V2443.4H913.7" fill="none" stroke="#000" stroke-width="2"/>
<line x1="556.8" y1="2189" x2="562.8" y2="2189" stroke="#000" stroke-width="2"/>
<text x="552" y="2196.7" font-size="21.5" text-anchor="end">100</text>
<line x1="556.8" y1="2315.9" x2="562.8" y2="2315.9" stroke="#000" stroke-width="2"/>
<text x="552" y="2323.6" font-size="21.5" text-anchor="end">50</text>
<line x1="556.8" y1="2443.4" x2="562.8" y2="2443.4" stroke="#000" stroke-width="2"/>
<text x="552" y="2451.1" font-size="21.5" text-anchor="end">0</text>
<line x1="562.8" y1="2443.4" x2="562.8" y2="2450.4" stroke="#000" stroke-width="2"/>
<text x="562.8" y="2473.9" font-size="22" text-anchor="middle">0</text>
<line x1="645.5" y1="2443.4" x2="645.5" y2="2450.4" stroke="#000" stroke-width="2"/>
<text x="647" y="2473.9" font-size="22" text-anchor="middle">20</text>
<line x1="728.6" y1="2443.4" x2="728.6" y2="2450.4" stroke="#000" stroke-width="2"/>
<text x="731.6" y="2473.9" font-size="22" text-anchor="middle">40</text>
<line x1="812" y1="2443.4" x2="812" y2="2450.4" stroke="#000" stroke-width="2"/>
<text x="816.9" y="2473.9" font-size="22" text-anchor="middle">60</text>
<line x1="894.8" y1="2443.4" x2="894.8" y2="2450.4" stroke="#000" stroke-width="2"/>
<text x="901.6" y="2473.9" font-size="22" text-anchor="middle">80</text>
<text x="754.8" y="2511.7" font-size="25" text-anchor="middle">Months</text>
<text transform="translate(516.7 2310.4) rotate(-90)" font-size="25.4" text-anchor="middle">Probability of survival</text>
<text x="751" y="2127.7" font-size="25" text-anchor="middle">TCGA cohort</text>
<text x="751" y="2160.1" font-size="25" text-anchor="middle">ATR in IGC</text>
<text x="751" y="2190.6" font-size="25" text-anchor="middle">p=0.0463</text>
<path d="M562.8 2189.1H567.5H569.1V2195.3H587.9H591.1V2198.5H594.2V2203.2H597.4V2207.9H599V2217.4H602.1V2225.3H611.5V2226.8H614.7V2231.5H617.8V2242.6H636.7H638.3V2253.6H654H655.6V2270.9H704.4H705.3V2299.2H883.8" fill="none" stroke="#2b3590" stroke-width="3.6" stroke-linejoin="miter" stroke-linecap="butt"/>
<path d="M567.5 2188.1v-5M584.8 2194.3v-5M589.5 2194.3v-5M610 2224.3v-5M624.1 2241.6v-5M628.9 2241.6v-5M633.6 2241.6v-5M643 2252.6v-5M647.7 2252.6v-5M658.8 2269.9v-5M661.9 2269.9v-5M682.4 2269.9v-5M687.1 2269.9v-5M707.5 2298.2v-5M718.6 2298.2v-5M751.6 2298.2v-5M824 2298.2v-5M882.2 2298.2v-5" stroke="#2b3590" stroke-width="2.6" fill="none"/>
<path d="M562.8 2189.1H569.1H571.6V2204.8H578.5H580.1V2209.5H583.2V2214.2H585.4V2223.7H586.4V2236.3H591.1V2237.8H594.2V2244.1H599V2245.7H600.5V2259.9H606.8V2261.4H611.5V2267.7H614.7V2275.6H627.3V2277.2H628.9V2283.5H632.6V2285.1H636.7V2292.9H638.3V2307.1H646.2V2308.7H647.7V2316.5H649.3V2324.4H652.5V2332.3H669.8H670.7V2343.3H718.6H719.5V2363.7H765.8" fill="none" stroke="#ee1c25" stroke-width="3.6" stroke-linejoin="miter" stroke-linecap="butt"/>
<path d="M658.8 2331.3v-5M669.8 2331.3v-5M680.8 2342.3v-5M699.7 2342.3v-5M718.6 2342.3v-5M724.9 2362.7v-5M740.6 2362.7v-5M764.2 2362.7v-5" stroke="#ee1c25" stroke-width="2.6" fill="none"/>
<line x1="575.3" y1="2407.2" x2="603.7" y2="2407.2" stroke="#ee1c25" stroke-width="3.2"/>
<line x1="575.3" y1="2429" x2="603.7" y2="2429" stroke="#2b3590" stroke-width="3.2"/>
<text x="610.5" y="2412.5" font-size="21.9">High expression n=32</text>
<text x="610.5" y="2434.6" font-size="21.9">Low expression n=42</text>
<text x="950" y="1896" font-size="54">j</text>
<rect x="1014.4" y="1874" width="362.2" height="668.2" fill="#fdf5e4"/>
<rect x="1383.1" y="1874" width="345.2" height="668.2" fill="#f9dfdc"/>
<rect x="1013.9" y="1874.2" width="714.4" height="668" fill="none" stroke="#231815" stroke-width="1.7" stroke-dasharray="7.2 7.1"/>
<line x1="1381.5" y1="1900" x2="1381.5" y2="2542.2" stroke="#231815" stroke-width="1.7" stroke-dasharray="7.2 7.1"/>
<text x="1034" y="1908.4" font-size="29">IGC</text>
<text x="1718" y="1908.4" font-size="29" text-anchor="end">DGC</text>
<path d="M1290.4 1942.1H1308.1M1308.1 1942.1H1332.5" stroke="none" stroke-width="0" />
<line x1="1293.9" y1="1942.1" x2="1303.1" y2="1942.1" stroke="#5aafcb" stroke-width="7" stroke-linecap="round"/>
<line x1="1309.6" y1="1942.1" x2="1329" y2="1942.1" stroke="#f3c14d" stroke-width="7" stroke-linecap="round"/>
<path d="M1275.7 1960.9H1304.4M1304.4 1960.9H1328" stroke="none" stroke-width="0" />
<line x1="1279.2" y1="1960.9" x2="1299.4" y2="1960.9" stroke="#e07b45" stroke-width="7" stroke-linecap="round"/>
<line x1="1305.9" y1="1960.9" x2="1324.5" y2="1960.9" stroke="#7bb55b" stroke-width="7" stroke-linecap="round"/>
<path d="M1267.9 1980.8H1287.4M1287.4 1980.8H1314.4" stroke="none" stroke-width="0" />
<line x1="1271.4" y1="1980.8" x2="1282.4" y2="1980.8" stroke="#e07b45" stroke-width="7" stroke-linecap="round"/>
<line x1="1288.9" y1="1980.8" x2="1310.9" y2="1980.8" stroke="#7bb55b" stroke-width="7" stroke-linecap="round"/>
<path d="M1270.8 2001.7H1284.1M1284.1 2001.7H1295.1" stroke="none" stroke-width="0" />
<line x1="1274.3" y1="2001.7" x2="1279.1" y2="2001.7" stroke="#f3c14d" stroke-width="7" stroke-linecap="round"/>
<line x1="1285.6" y1="2001.7" x2="1291.6" y2="2001.7" stroke="#5aafcb" stroke-width="7" stroke-linecap="round"/>
<path d="M1267.5 2052.5H1285.2M1285.2 2052.5H1309.6" stroke="none" stroke-width="0" />
<line x1="1271" y1="2052.5" x2="1280.2" y2="2052.5" stroke="#f3c14d" stroke-width="7" stroke-linecap="round"/>
<line x1="1286.7" y1="2052.5" x2="1306.1" y2="2052.5" stroke="#5aafcb" stroke-width="7" stroke-linecap="round"/>
<path d="M1272 2071.3H1300.8M1300.8 2071.3H1324.3" stroke="none" stroke-width="0" />
<line x1="1275.5" y1="2071.3" x2="1295.8" y2="2071.3" stroke="#7bb55b" stroke-width="7" stroke-linecap="round"/>
<line x1="1302.3" y1="2071.3" x2="1320.8" y2="2071.3" stroke="#e07b45" stroke-width="7" stroke-linecap="round"/>
<path d="M1285.6 2091.2H1305.1M1305.1 2091.2H1332.1" stroke="none" stroke-width="0" />
<line x1="1289.1" y1="2091.2" x2="1300.1" y2="2091.2" stroke="#5aafcb" stroke-width="7" stroke-linecap="round"/>
<line x1="1306.6" y1="2091.2" x2="1328.6" y2="2091.2" stroke="#f3c14d" stroke-width="7" stroke-linecap="round"/>
<path d="M1304.9 2112.1H1318.3M1318.3 2112.1H1329.2" stroke="none" stroke-width="0" />
<line x1="1308.4" y1="2112.1" x2="1313.3" y2="2112.1" stroke="#e07b45" stroke-width="7" stroke-linecap="round"/>
<line x1="1319.8" y1="2112.1" x2="1325.7" y2="2112.1" stroke="#7bb55b" stroke-width="7" stroke-linecap="round"/>
<path d="M1290.4 2162.9H1308.1M1308.1 2162.9H1332.5" stroke="none" stroke-width="0" />
<line x1="1293.9" y1="2162.9" x2="1303.1" y2="2162.9" stroke="#5aafcb" stroke-width="7" stroke-linecap="round"/>
<line x1="1309.6" y1="2162.9" x2="1329" y2="2162.9" stroke="#f3c14d" stroke-width="7" stroke-linecap="round"/>
<path d="M1275.7 2181.7H1304.4M1304.4 2181.7H1328" stroke="none" stroke-width="0" />
<line x1="1279.2" y1="2181.7" x2="1299.4" y2="2181.7" stroke="#e07b45" stroke-width="7" stroke-linecap="round"/>
<line x1="1305.9" y1="2181.7" x2="1324.5" y2="2181.7" stroke="#7bb55b" stroke-width="7" stroke-linecap="round"/>
<path d="M1267.9 2201.6H1287.4M1287.4 2201.6H1314.4" stroke="none" stroke-width="0" />
<line x1="1271.4" y1="2201.6" x2="1282.4" y2="2201.6" stroke="#e07b45" stroke-width="7" stroke-linecap="round"/>
<line x1="1288.9" y1="2201.6" x2="1310.9" y2="2201.6" stroke="#7bb55b" stroke-width="7" stroke-linecap="round"/>
<path d="M1270.8 2222.5H1284.1M1284.1 2222.5H1295.1" stroke="none" stroke-width="0" />
<line x1="1274.3" y1="2222.5" x2="1279.1" y2="2222.5" stroke="#f3c14d" stroke-width="7" stroke-linecap="round"/>
<line x1="1285.6" y1="2222.5" x2="1291.6" y2="2222.5" stroke="#5aafcb" stroke-width="7" stroke-linecap="round"/>
<path d="M1304.9 2332.9H1318.3M1318.3 2332.9H1329.2" stroke="none" stroke-width="0" />
<line x1="1308.4" y1="2332.9" x2="1313.3" y2="2332.9" stroke="#e07b45" stroke-width="7" stroke-linecap="round"/>
<line x1="1319.8" y1="2332.9" x2="1325.7" y2="2332.9" stroke="#7bb55b" stroke-width="7" stroke-linecap="round"/>
<path d="M1290.4 2383.7H1308.1M1308.1 2383.7H1332.5" stroke="none" stroke-width="0" />
<line x1="1293.9" y1="2383.7" x2="1303.1" y2="2383.7" stroke="#5aafcb" stroke-width="7" stroke-linecap="round"/>
<line x1="1309.6" y1="2383.7" x2="1329" y2="2383.7" stroke="#f3c14d" stroke-width="7" stroke-linecap="round"/>
<path d="M1275.7 2402.5H1304.4M1304.4 2402.5H1328" stroke="none" stroke-width="0" />
<line x1="1279.2" y1="2402.5" x2="1299.4" y2="2402.5" stroke="#e07b45" stroke-width="7" stroke-linecap="round"/>
<line x1="1305.9" y1="2402.5" x2="1324.5" y2="2402.5" stroke="#7bb55b" stroke-width="7" stroke-linecap="round"/>
<path d="M1267.9 2422.4H1287.4M1287.4 2422.4H1314.4" stroke="none" stroke-width="0" />
<line x1="1271.4" y1="2422.4" x2="1282.4" y2="2422.4" stroke="#e07b45" stroke-width="7" stroke-linecap="round"/>
<line x1="1288.9" y1="2422.4" x2="1310.9" y2="2422.4" stroke="#7bb55b" stroke-width="7" stroke-linecap="round"/>
<path d="M1270.8 2443.3H1284.1M1284.1 2443.3H1295.1" stroke="none" stroke-width="0" />
<line x1="1274.3" y1="2443.3" x2="1279.1" y2="2443.3" stroke="#f3c14d" stroke-width="7" stroke-linecap="round"/>
<line x1="1285.6" y1="2443.3" x2="1291.6" y2="2443.3" stroke="#5aafcb" stroke-width="7" stroke-linecap="round"/>
<path d="M1267.5 2494.1H1285.2M1285.2 2494.1H1309.6" stroke="none" stroke-width="0" />
<line x1="1271" y1="2494.1" x2="1280.2" y2="2494.1" stroke="#f3c14d" stroke-width="7" stroke-linecap="round"/>
<line x1="1286.7" y1="2494.1" x2="1306.1" y2="2494.1" stroke="#5aafcb" stroke-width="7" stroke-linecap="round"/>
<path d="M1272 2512.9H1300.8M1300.8 2512.9H1324.3" stroke="none" stroke-width="0" />
<line x1="1275.5" y1="2512.9" x2="1295.8" y2="2512.9" stroke="#7bb55b" stroke-width="7" stroke-linecap="round"/>
<line x1="1302.3" y1="2512.9" x2="1320.8" y2="2512.9" stroke="#e07b45" stroke-width="7" stroke-linecap="round"/>
<path d="M1328 1896L1326.4 1899L1324.5 1902L1322.5 1905L1320.3 1908L1317.9 1911L1315.4 1914L1312.8 1917L1310.1 1920L1307.4 1923L1304.6 1926L1301.7 1929L1298.9 1932L1296 1935L1293.2 1938L1290.4 1941L1287.7 1944L1285.1 1947L1282.6 1950L1280.2 1953L1278 1956L1275.9 1959L1274 1962L1272.3 1965L1270.8 1968L1269.5 1971L1268.4 1974L1267.6 1977L1267 1980L1266.6 1983L1266.5 1986L1266.6 1989L1267 1992L1267.6 1995L1268.4 1998L1269.5 2001L1270.8 2004L1272.3 2007L1274 2010L1275.9 2013L1278 2016L1280.2 2019L1282.6 2022L1285.1 2025L1287.7 2028L1290.4 2031L1293.2 2034L1296 2037L1298.8 2040L1301.7 2043L1304.5 2046L1307.4 2049L1310.1 2052L1312.8 2055L1315.4 2058L1317.9 2061L1320.2 2064L1322.4 2067L1324.5 2070L1326.3 2073L1328 2076L1329.5 2079L1330.7 2082L1331.7 2085L1332.5 2088L1333.1 2091L1333.4 2094L1333.5 2097L1333.3 2100L1332.9 2103L1332.3 2106L1331.4 2109L1330.3 2112L1328.9 2115L1327.4 2118L1325.6 2121L1323.7 2124L1321.6 2127L1319.3 2130L1316.9 2133L1314.4 2136L1311.8 2139L1309.1 2142L1306.3 2145L1303.4 2148L1300.6 2151L1297.7 2154L1294.9 2157L1292.1 2160L1289.3 2163L1286.7 2166L1284.1 2169L1281.6 2172L1279.3 2175L1277.1 2178L1275.1 2181L1273.3 2184L1271.7 2187L1270.3 2190L1269.1 2193L1268.1 2196L1267.3 2199L1266.8 2202L1266.5 2205L1266.5 2208L1266.7 2211L1267.2 2214L1267.9 2217L1268.8 2220L1270 2223L1271.4 2226L1273 2229L1274.7 2232L1276.7 2235L1278.8 2238L1281.1 2241L1283.6 2244L1286.1 2247L1288.8 2250L1291.5 2253L1294.3 2256L1297.1 2259L1300 2262L1302.8 2265L1305.7 2268L1308.5 2271L1311.2 2274L1313.9 2277L1316.4 2280L1318.8 2283L1321.1 2286L1323.3 2289L1325.2 2292L1327 2295L1328.6 2298L1330 2301L1331.2 2304L1332.1 2307L1332.8 2310L1333.3 2313L1333.5 2316L1333.5 2319L1333.2 2322L1332.7 2325L1331.9 2328L1331 2331L1329.8 2334L1328.3 2337L1326.7 2340L1324.9 2343L1322.9 2346L1320.7 2349L1318.4 2352L1315.9 2355L1313.4 2358L1310.7 2361L1307.9 2364L1305.1 2367L1302.3 2370L1299.4 2373L1296.6 2376L1293.8 2379L1291 2382L1288.3 2385L1285.6 2388L1283.1 2391L1280.7 2394L1278.4 2397L1276.3 2400L1274.4 2403L1272.6 2406L1271.1 2409L1269.8 2412L1268.6 2415L1267.7 2418L1267.1 2421L1266.7 2424L1266.5 2427L1266.6 2430L1266.9 2433L1267.4 2436L1268.2 2439L1269.3 2442L1270.5 2445L1272 2448L1273.6 2451L1275.5 2454L1277.5 2457L1279.7 2460L1282.1 2463L1284.6 2466L1287.2 2469L1289.9 2472L1292.6 2475L1295.4 2478L1298.3 2481L1301.1 2484L1304 2487L1306.8 2490L1309.6 2493L1312.3 2496L1314.9 2499L1317.4 2502L1319.8 2505L1322 2508L1324.1 2511L1326 2514L1327.7 2517L1329.2 2520" fill="none" stroke="#55999a" stroke-width="6.8" stroke-linecap="round"/>
<path d="M1308.3 1896L1311.1 1899L1313.7 1902L1316.3 1905L1318.7 1908L1321 1911L1323.2 1914L1325.1 1917L1326.9 1920L1328.5 1923L1329.9 1926L1331.1 1929L1332 1932L1332.8 1935L1333.2 1938L1333.5 1941L1333.5 1944L1333.2 1947L1332.7 1950L1332 1953L1331 1956L1329.8 1959L1328.4 1962L1326.8 1965L1325 1968L1323 1971L1320.8 1974L1318.5 1977L1316.1 1980L1313.5 1983L1310.8 1986L1308.1 1989L1305.3 1992L1302.5 1995L1299.6 1998L1296.7 2001L1293.9 2004L1291.1 2007L1288.4 2010L1285.8 2013L1283.2 2016L1280.8 2019L1278.6 2022L1276.4 2025L1274.5 2028L1272.7 2031L1271.2 2034L1269.8 2037L1268.7 2040L1267.8 2043L1267.1 2046L1266.7 2049L1266.5 2052L1266.6 2055L1266.9 2058L1267.4 2061L1268.2 2064L1269.2 2067L1270.4 2070L1271.9 2073L1273.5 2076L1275.4 2079L1277.4 2082L1279.6 2085L1282 2088L1284.4 2091L1287 2094L1289.7 2097L1292.5 2100L1295.3 2103L1298.1 2106L1301 2109L1303.8 2112L1306.6 2115L1309.4 2118L1312.1 2121L1314.7 2124L1317.3 2127L1319.6 2130L1321.9 2133L1324 2136L1325.9 2139L1327.6 2142L1329.1 2145L1330.4 2148L1331.5 2151L1332.4 2154L1333 2157L1333.4 2160L1333.5 2163L1333.4 2166L1333 2169L1332.5 2172L1331.6 2175L1330.6 2178L1329.3 2181L1327.8 2184L1326.1 2187L1324.2 2190L1322.1 2193L1319.9 2196L1317.6 2199L1315.1 2202L1312.5 2205L1309.8 2208L1307 2211L1304.2 2214L1301.3 2217L1298.5 2220L1295.6 2223L1292.8 2226L1290 2229L1287.3 2232L1284.7 2235L1282.3 2238L1279.9 2241L1277.7 2244L1275.6 2247L1273.8 2250L1272.1 2253L1270.6 2256L1269.3 2259L1268.3 2262L1267.5 2265L1266.9 2268L1266.6 2271L1266.5 2274L1266.7 2277L1267.1 2280L1267.7 2283L1268.6 2286L1269.7 2289L1271 2292L1272.5 2295L1274.3 2298L1276.2 2301L1278.3 2304L1280.5 2307L1282.9 2310L1285.5 2313L1288.1 2316L1290.8 2319L1293.6 2322L1296.4 2325L1299.3 2328L1302.1 2331L1305 2334L1307.8 2337L1310.5 2340L1313.2 2343L1315.8 2346L1318.2 2349L1320.6 2352L1322.7 2355L1324.8 2358L1326.6 2361L1328.2 2364L1329.7 2367L1330.9 2370L1331.9 2373L1332.6 2376L1333.2 2379L1333.4 2382L1333.5 2385L1333.3 2388L1332.8 2391L1332.1 2394L1331.2 2397L1330.1 2400L1328.7 2403L1327.1 2406L1325.4 2409L1323.4 2412L1321.3 2415L1319 2418L1316.6 2421L1314 2424L1311.4 2427L1308.7 2430L1305.9 2433L1303 2436L1300.2 2439L1297.3 2442L1294.5 2445L1291.7 2448L1288.9 2451L1286.3 2454L1283.7 2457L1281.3 2460L1279 2463L1276.8 2466L1274.9 2469L1273.1 2472L1271.5 2475L1270.1 2478L1268.9 2481L1268 2484L1267.2 2487L1266.8 2490L1266.5 2493L1266.5 2496L1266.8 2499L1267.3 2502L1268 2505L1269 2508L1270.2 2511L1271.6 2514L1273.2 2517L1275 2520" fill="none" stroke="#fdf5e4" stroke-width="10.5" stroke-linecap="butt"/>
<path d="M1308.3 1896L1311.1 1899L1313.7 1902L1316.3 1905L1318.7 1908L1321 1911L1323.2 1914L1325.1 1917L1326.9 1920L1328.5 1923L1329.9 1926L1331.1 1929L1332 1932L1332.8 1935L1333.2 1938L1333.5 1941L1333.5 1944L1333.2 1947L1332.7 1950L1332 1953L1331 1956L1329.8 1959L1328.4 1962L1326.8 1965L1325 1968L1323 1971L1320.8 1974L1318.5 1977L1316.1 1980L1313.5 1983L1310.8 1986L1308.1 1989L1305.3 1992L1302.5 1995L1299.6 1998L1296.7 2001L1293.9 2004L1291.1 2007L1288.4 2010L1285.8 2013L1283.2 2016L1280.8 2019L1278.6 2022L1276.4 2025L1274.5 2028L1272.7 2031L1271.2 2034L1269.8 2037L1268.7 2040L1267.8 2043L1267.1 2046L1266.7 2049L1266.5 2052L1266.6 2055L1266.9 2058L1267.4 2061L1268.2 2064L1269.2 2067L1270.4 2070L1271.9 2073L1273.5 2076L1275.4 2079L1277.4 2082L1279.6 2085L1282 2088L1284.4 2091L1287 2094L1289.7 2097L1292.5 2100L1295.3 2103L1298.1 2106L1301 2109L1303.8 2112L1306.6 2115L1309.4 2118L1312.1 2121L1314.7 2124L1317.3 2127L1319.6 2130L1321.9 2133L1324 2136L1325.9 2139L1327.6 2142L1329.1 2145L1330.4 2148L1331.5 2151L1332.4 2154L1333 2157L1333.4 2160L1333.5 2163L1333.4 2166L1333 2169L1332.5 2172L1331.6 2175L1330.6 2178L1329.3 2181L1327.8 2184L1326.1 2187L1324.2 2190L1322.1 2193L1319.9 2196L1317.6 2199L1315.1 2202L1312.5 2205L1309.8 2208L1307 2211L1304.2 2214L1301.3 2217L1298.5 2220L1295.6 2223L1292.8 2226L1290 2229L1287.3 2232L1284.7 2235L1282.3 2238L1279.9 2241L1277.7 2244L1275.6 2247L1273.8 2250L1272.1 2253L1270.6 2256L1269.3 2259L1268.3 2262L1267.5 2265L1266.9 2268L1266.6 2271L1266.5 2274L1266.7 2277L1267.1 2280L1267.7 2283L1268.6 2286L1269.7 2289L1271 2292L1272.5 2295L1274.3 2298L1276.2 2301L1278.3 2304L1280.5 2307L1282.9 2310L1285.5 2313L1288.1 2316L1290.8 2319L1293.6 2322L1296.4 2325L1299.3 2328L1302.1 2331L1305 2334L1307.8 2337L1310.5 2340L1313.2 2343L1315.8 2346L1318.2 2349L1320.6 2352L1322.7 2355L1324.8 2358L1326.6 2361L1328.2 2364L1329.7 2367L1330.9 2370L1331.9 2373L1332.6 2376L1333.2 2379L1333.4 2382L1333.5 2385L1333.3 2388L1332.8 2391L1332.1 2394L1331.2 2397L1330.1 2400L1328.7 2403L1327.1 2406L1325.4 2409L1323.4 2412L1321.3 2415L1319 2418L1316.6 2421L1314 2424L1311.4 2427L1308.7 2430L1305.9 2433L1303 2436L1300.2 2439L1297.3 2442L1294.5 2445L1291.7 2448L1288.9 2451L1286.3 2454L1283.7 2457L1281.3 2460L1279 2463L1276.8 2466L1274.9 2469L1273.1 2472L1271.5 2475L1270.1 2478L1268.9 2481L1268 2484L1267.2 2487L1266.8 2490L1266.5 2493L1266.5 2496L1266.8 2499L1267.3 2502L1268 2505L1269 2508L1270.2 2511L1271.6 2514L1273.2 2517L1275 2520" fill="none" stroke="#55999a" stroke-width="6.8" stroke-linecap="round"/>
<line x1="1265.5" y1="2287" x2="1280.5" y2="2277.5" stroke="#5aafcb" stroke-width="7.5" stroke-linecap="round"/>
<line x1="1285.5" y1="2276" x2="1315" y2="2285.5" stroke="#e07b45" stroke-width="7.5" stroke-linecap="round"/>
<line x1="1297.5" y1="2300.5" x2="1330" y2="2309" stroke="#f3c14d" stroke-width="7.5" stroke-linecap="round"/>
<line x1="1274.5" y1="2308.5" x2="1297.5" y2="2314.5" stroke="#7bb55b" stroke-width="7.5" stroke-linecap="round"/>
<path d="M1488.1 1942.1H1506.3M1506.3 1942.1H1531.5" stroke="none" stroke-width="0" />
<line x1="1491.6" y1="1942.1" x2="1501.3" y2="1942.1" stroke="#5aafcb" stroke-width="7" stroke-linecap="round"/>
<line x1="1507.8" y1="1942.1" x2="1528" y2="1942.1" stroke="#f3c14d" stroke-width="7" stroke-linecap="round"/>
<path d="M1473 1960.9H1502.6M1502.6 1960.9H1526.8" stroke="none" stroke-width="0" />
<line x1="1476.5" y1="1960.9" x2="1497.6" y2="1960.9" stroke="#e07b45" stroke-width="7" stroke-linecap="round"/>
<line x1="1504.1" y1="1960.9" x2="1523.3" y2="1960.9" stroke="#7bb55b" stroke-width="7" stroke-linecap="round"/>
<path d="M1464.9 1980.8H1485M1485 1980.8H1512.9" stroke="none" stroke-width="0" />
<line x1="1468.4" y1="1980.8" x2="1480" y2="1980.8" stroke="#e07b45" stroke-width="7" stroke-linecap="round"/>
<line x1="1486.5" y1="1980.8" x2="1509.4" y2="1980.8" stroke="#7bb55b" stroke-width="7" stroke-linecap="round"/>
<path d="M1467.9 2001.7H1481.7M1481.7 2001.7H1492.9" stroke="none" stroke-width="0" />
<line x1="1471.4" y1="2001.7" x2="1476.7" y2="2001.7" stroke="#f3c14d" stroke-width="7" stroke-linecap="round"/>
<line x1="1483.2" y1="2001.7" x2="1489.4" y2="2001.7" stroke="#5aafcb" stroke-width="7" stroke-linecap="round"/>
<path d="M1464.5 2052.5H1482.7M1482.7 2052.5H1507.9" stroke="none" stroke-width="0" />
<line x1="1468" y1="2052.5" x2="1477.7" y2="2052.5" stroke="#f3c14d" stroke-width="7" stroke-linecap="round"/>
<line x1="1484.2" y1="2052.5" x2="1504.4" y2="2052.5" stroke="#5aafcb" stroke-width="7" stroke-linecap="round"/>
<path d="M1469.2 2071.3H1498.8M1498.8 2071.3H1523" stroke="none" stroke-width="0" />
<line x1="1472.7" y1="2071.3" x2="1493.8" y2="2071.3" stroke="#7bb55b" stroke-width="7" stroke-linecap="round"/>
<line x1="1500.3" y1="2071.3" x2="1519.5" y2="2071.3" stroke="#e07b45" stroke-width="7" stroke-linecap="round"/>
<path d="M1483.1 2091.2H1503.3M1503.3 2091.2H1531.1" stroke="none" stroke-width="0" />
<line x1="1486.6" y1="2091.2" x2="1498.3" y2="2091.2" stroke="#5aafcb" stroke-width="7" stroke-linecap="round"/>
<line x1="1504.8" y1="2091.2" x2="1527.6" y2="2091.2" stroke="#f3c14d" stroke-width="7" stroke-linecap="round"/>
<path d="M1503.1 2112.1H1516.8M1516.8 2112.1H1528.1" stroke="none" stroke-width="0" />
<line x1="1506.6" y1="2112.1" x2="1511.8" y2="2112.1" stroke="#e07b45" stroke-width="7" stroke-linecap="round"/>
<line x1="1518.3" y1="2112.1" x2="1524.6" y2="2112.1" stroke="#7bb55b" stroke-width="7" stroke-linecap="round"/>
<path d="M1488.1 2162.9H1506.3M1506.3 2162.9H1531.5" stroke="none" stroke-width="0" />
<line x1="1491.6" y1="2162.9" x2="1501.3" y2="2162.9" stroke="#5aafcb" stroke-width="7" stroke-linecap="round"/>
<line x1="1507.8" y1="2162.9" x2="1528" y2="2162.9" stroke="#f3c14d" stroke-width="7" stroke-linecap="round"/>
<path d="M1473 2181.7H1502.6M1502.6 2181.7H1526.8" stroke="none" stroke-width="0" />
<line x1="1476.5" y1="2181.7" x2="1497.6" y2="2181.7" stroke="#e07b45" stroke-width="7" stroke-linecap="round"/>
<line x1="1504.1" y1="2181.7" x2="1523.3" y2="2181.7" stroke="#7bb55b" stroke-width="7" stroke-linecap="round"/>
<path d="M1464.9 2201.6H1485M1485 2201.6H1512.9" stroke="none" stroke-width="0" />
<line x1="1468.4" y1="2201.6" x2="1480" y2="2201.6" stroke="#e07b45" stroke-width="7" stroke-linecap="round"/>
<line x1="1486.5" y1="2201.6" x2="1509.4" y2="2201.6" stroke="#7bb55b" stroke-width="7" stroke-linecap="round"/>
<path d="M1467.9 2222.5H1481.7M1481.7 2222.5H1492.9" stroke="none" stroke-width="0" />
<line x1="1471.4" y1="2222.5" x2="1476.7" y2="2222.5" stroke="#f3c14d" stroke-width="7" stroke-linecap="round"/>
<line x1="1483.2" y1="2222.5" x2="1489.4" y2="2222.5" stroke="#5aafcb" stroke-width="7" stroke-linecap="round"/>
<path d="M1464.5 2273.3H1482.7M1482.7 2273.3H1507.9" stroke="none" stroke-width="0" />
<line x1="1468" y1="2273.3" x2="1477.7" y2="2273.3" stroke="#f3c14d" stroke-width="7" stroke-linecap="round"/>
<line x1="1484.2" y1="2273.3" x2="1504.4" y2="2273.3" stroke="#5aafcb" stroke-width="7" stroke-linecap="round"/>
<path d="M1469.2 2292.1H1498.8M1498.8 2292.1H1523" stroke="none" stroke-width="0" />
<line x1="1472.7" y1="2292.1" x2="1493.8" y2="2292.1" stroke="#7bb55b" stroke-width="7" stroke-linecap="round"/>
<line x1="1500.3" y1="2292.1" x2="1519.5" y2="2292.1" stroke="#e07b45" stroke-width="7" stroke-linecap="round"/>
<path d="M1483.1 2312H1503.3M1503.3 2312H1531.1" stroke="none" stroke-width="0" />
<line x1="1486.6" y1="2312" x2="1498.3" y2="2312" stroke="#5aafcb" stroke-width="7" stroke-linecap="round"/>
<line x1="1504.8" y1="2312" x2="1527.6" y2="2312" stroke="#f3c14d" stroke-width="7" stroke-linecap="round"/>
<path d="M1503.1 2332.9H1516.8M1516.8 2332.9H1528.1" stroke="none" stroke-width="0" />
<line x1="1506.6" y1="2332.9" x2="1511.8" y2="2332.9" stroke="#e07b45" stroke-width="7" stroke-linecap="round"/>
<line x1="1518.3" y1="2332.9" x2="1524.6" y2="2332.9" stroke="#7bb55b" stroke-width="7" stroke-linecap="round"/>
<path d="M1488.1 2383.7H1506.3M1506.3 2383.7H1531.5" stroke="none" stroke-width="0" />
<line x1="1491.6" y1="2383.7" x2="1501.3" y2="2383.7" stroke="#5aafcb" stroke-width="7" stroke-linecap="round"/>
<line x1="1507.8" y1="2383.7" x2="1528" y2="2383.7" stroke="#f3c14d" stroke-width="7" stroke-linecap="round"/>
<path d="M1473 2402.5H1502.6M1502.6 2402.5H1526.8" stroke="none" stroke-width="0" />
<line x1="1476.5" y1="2402.5" x2="1497.6" y2="2402.5" stroke="#e07b45" stroke-width="7" stroke-linecap="round"/>
<line x1="1504.1" y1="2402.5" x2="1523.3" y2="2402.5" stroke="#7bb55b" stroke-width="7" stroke-linecap="round"/>
<path d="M1464.9 2422.4H1485M1485 2422.4H1512.9" stroke="none" stroke-width="0" />
<line x1="1468.4" y1="2422.4" x2="1480" y2="2422.4" stroke="#e07b45" stroke-width="7" stroke-linecap="round"/>
<line x1="1486.5" y1="2422.4" x2="1509.4" y2="2422.4" stroke="#7bb55b" stroke-width="7" stroke-linecap="round"/>
<path d="M1467.9 2443.3H1481.7M1481.7 2443.3H1492.9" stroke="none" stroke-width="0" />
<line x1="1471.4" y1="2443.3" x2="1476.7" y2="2443.3" stroke="#f3c14d" stroke-width="7" stroke-linecap="round"/>
<line x1="1483.2" y1="2443.3" x2="1489.4" y2="2443.3" stroke="#5aafcb" stroke-width="7" stroke-linecap="round"/>
<path d="M1464.5 2494.1H1482.7M1482.7 2494.1H1507.9" stroke="none" stroke-width="0" />
<line x1="1468" y1="2494.1" x2="1477.7" y2="2494.1" stroke="#f3c14d" stroke-width="7" stroke-linecap="round"/>
<line x1="1484.2" y1="2494.1" x2="1504.4" y2="2494.1" stroke="#5aafcb" stroke-width="7" stroke-linecap="round"/>
<path d="M1469.2 2512.9H1498.8M1498.8 2512.9H1523" stroke="none" stroke-width="0" />
<line x1="1472.7" y1="2512.9" x2="1493.8" y2="2512.9" stroke="#7bb55b" stroke-width="7" stroke-linecap="round"/>
<line x1="1500.3" y1="2512.9" x2="1519.5" y2="2512.9" stroke="#e07b45" stroke-width="7" stroke-linecap="round"/>
<path d="M1526.3 1897L1524.5 1900L1522.5 1903L1520.4 1906L1518.1 1909L1515.6 1912L1513 1915L1510.3 1918L1507.5 1921L1504.6 1924L1501.7 1927L1498.8 1930L1495.9 1933L1492.9 1936L1490 1939L1487.2 1942L1484.4 1945L1481.8 1948L1479.3 1951L1476.9 1954L1474.6 1957L1472.5 1960L1470.6 1963L1468.9 1966L1467.5 1969L1466.2 1972L1465.2 1975L1464.4 1978L1463.9 1981L1463.6 1984L1463.5 1987L1463.7 1990L1464.2 1993L1464.9 1996L1465.8 1999L1467 2002L1468.4 2005L1470 2008L1471.9 2011L1473.9 2014L1476.1 2017L1478.4 2020L1480.9 2023L1483.5 2026L1486.2 2029L1489.1 2032L1491.9 2035L1494.8 2038L1497.8 2041L1500.7 2044L1503.7 2047L1506.5 2050L1509.4 2053L1512.1 2056L1514.7 2059L1517.2 2062L1519.6 2065L1521.8 2068L1523.9 2071L1525.7 2074L1527.4 2077L1528.8 2080L1530 2083L1531 2086L1531.7 2089L1532.2 2092L1532.5 2095L1532.5 2098L1532.2 2101L1531.7 2104L1530.9 2107L1530 2110L1528.7 2113L1527.3 2116L1525.6 2119L1523.8 2122L1521.7 2125L1519.5 2128L1517.1 2131L1514.6 2134L1511.9 2137L1509.2 2140L1506.4 2143L1503.5 2146L1500.6 2149L1497.6 2152L1494.7 2155L1491.8 2158L1488.9 2161L1486.1 2164L1483.4 2167L1480.8 2170L1478.3 2173L1475.9 2176L1473.8 2179L1471.8 2182L1469.9 2185L1468.3 2188L1466.9 2191L1465.8 2194L1464.8 2197L1464.1 2200L1463.7 2203L1463.5 2206L1463.6 2209L1463.9 2212L1464.4 2215L1465.2 2218L1466.3 2221L1467.5 2224L1469 2227L1470.7 2230L1472.6 2233L1474.7 2236L1477 2239L1479.4 2242L1481.9 2245L1484.6 2248L1487.4 2251L1490.2 2254L1493.1 2257L1496 2260L1499 2263L1501.9 2266L1504.8 2269L1507.7 2272L1510.5 2275L1513.2 2278L1515.7 2281L1518.2 2284L1520.5 2287L1522.7 2290L1524.6 2293L1526.4 2296L1528 2299L1529.3 2302L1530.4 2305L1531.3 2308L1532 2311L1532.4 2314L1532.5 2317L1532.4 2320L1532 2323L1531.4 2326L1530.6 2329L1529.5 2332L1528.2 2335L1526.6 2338L1524.9 2341L1523 2344L1520.8 2347L1518.5 2350L1516.1 2353L1513.5 2356L1510.9 2359L1508.1 2362L1505.2 2365L1502.3 2368L1499.4 2371L1496.4 2374L1493.5 2377L1490.6 2380L1487.8 2383L1485 2386L1482.3 2389L1479.8 2392L1477.3 2395L1475 2398L1472.9 2401L1471 2404L1469.3 2407L1467.7 2410L1466.4 2413L1465.4 2416L1464.5 2419L1463.9 2422L1463.6 2425L1463.5 2428L1463.7 2431L1464.1 2434L1464.7 2437L1465.6 2440L1466.8 2443L1468.1 2446L1469.7 2449L1471.5 2452L1473.5 2455L1475.6 2458L1477.9 2461L1480.4 2464L1483 2467L1485.7 2470L1488.5 2473L1491.4 2476L1494.3 2479L1497.2 2482L1500.1 2485L1503.1 2488L1506 2491L1508.8 2494L1511.6 2497L1514.2 2500L1516.7 2503L1519.1 2506L1521.4 2509L1523.5 2512L1525.4 2515L1527.1 2518L1528.5 2521" fill="none" stroke="#4f8f94" stroke-width="6.8" stroke-linecap="round"/>
<path d="M1507.5 1897L1510.3 1900L1513 1903L1515.6 1906L1518.1 1909L1520.4 1912L1522.5 1915L1524.5 1918L1526.3 1921L1527.9 1924L1529.2 1927L1530.4 1930L1531.3 1933L1531.9 1936L1532.3 1939L1532.5 1942L1532.4 1945L1532.1 1948L1531.5 1951L1530.6 1954L1529.6 1957L1528.3 1960L1526.7 1963L1525 1966L1523.1 1969L1521 1972L1518.7 1975L1516.2 1978L1513.7 1981L1511 1984L1508.2 1987L1505.4 1990L1502.5 1993L1499.6 1996L1496.6 1999L1493.7 2002L1490.8 2005L1487.9 2008L1485.1 2011L1482.5 2014L1479.9 2017L1477.5 2020L1475.2 2023L1473 2026L1471.1 2029L1469.4 2032L1467.8 2035L1466.5 2038L1465.4 2041L1464.6 2044L1464 2047L1463.6 2050L1463.5 2053L1463.6 2056L1464 2059L1464.7 2062L1465.6 2065L1466.7 2068L1468 2071L1469.6 2074L1471.4 2077L1473.3 2080L1475.5 2083L1477.8 2086L1480.3 2089L1482.8 2092L1485.5 2095L1488.3 2098L1491.2 2101L1494.1 2104L1497 2107L1500 2110L1502.9 2113L1505.8 2116L1508.6 2119L1511.4 2122L1514.1 2125L1516.6 2128L1519 2131L1521.3 2134L1523.4 2137L1525.3 2140L1527 2143L1528.5 2146L1529.7 2149L1530.8 2152L1531.6 2155L1532.1 2158L1532.4 2161L1532.5 2164L1532.3 2167L1531.9 2170L1531.2 2173L1530.2 2176L1529.1 2179L1527.7 2182L1526.1 2185L1524.2 2188L1522.2 2191L1520.1 2194L1517.7 2197L1515.2 2200L1512.6 2203L1509.9 2206L1507.1 2209L1504.2 2212L1501.3 2215L1498.4 2218L1495.4 2221L1492.5 2224L1489.6 2227L1486.8 2230L1484.1 2233L1481.4 2236L1478.9 2239L1476.5 2242L1474.3 2245L1472.2 2248L1470.4 2251L1468.7 2254L1467.3 2257L1466 2260L1465.1 2263L1464.3 2266L1463.8 2269L1463.5 2272L1463.5 2275L1463.8 2278L1464.3 2281L1465 2284L1466 2287L1467.2 2290L1468.6 2293L1470.3 2296L1472.1 2299L1474.2 2302L1476.4 2305L1478.8 2308L1481.3 2311L1483.9 2314L1486.6 2317L1489.5 2320L1492.3 2323L1495.3 2326L1498.2 2329L1501.2 2332L1504.1 2335L1506.9 2338L1509.8 2341L1512.5 2344L1515.1 2347L1517.6 2350L1519.9 2353L1522.1 2356L1524.1 2359L1526 2362L1527.6 2365L1529 2368L1530.2 2371L1531.1 2374L1531.8 2377L1532.3 2380L1532.5 2383L1532.4 2386L1532.1 2389L1531.6 2392L1530.8 2395L1529.8 2398L1528.5 2401L1527.1 2404L1525.4 2407L1523.5 2410L1521.4 2413L1519.1 2416L1516.7 2419L1514.2 2422L1511.6 2425L1508.8 2428L1506 2431L1503.1 2434L1500.1 2437L1497.2 2440L1494.3 2443L1491.4 2446L1488.5 2449L1485.7 2452L1483 2455L1480.4 2458L1477.9 2461L1475.6 2464L1473.5 2467L1471.5 2470L1469.7 2473L1468.1 2476L1466.8 2479L1465.6 2482L1464.7 2485L1464.1 2488L1463.7 2491L1463.5 2494L1463.6 2497L1463.9 2500L1464.5 2503L1465.4 2506L1466.4 2509L1467.7 2512L1469.3 2515L1471 2518L1472.9 2521" fill="none" stroke="#f9dfdc" stroke-width="10.5" stroke-linecap="butt"/>
<path d="M1507.5 1897L1510.3 1900L1513 1903L1515.6 1906L1518.1 1909L1520.4 1912L1522.5 1915L1524.5 1918L1526.3 1921L1527.9 1924L1529.2 1927L1530.4 1930L1531.3 1933L1531.9 1936L1532.3 1939L1532.5 1942L1532.4 1945L1532.1 1948L1531.5 1951L1530.6 1954L1529.6 1957L1528.3 1960L1526.7 1963L1525 1966L1523.1 1969L1521 1972L1518.7 1975L1516.2 1978L1513.7 1981L1511 1984L1508.2 1987L1505.4 1990L1502.5 1993L1499.6 1996L1496.6 1999L1493.7 2002L1490.8 2005L1487.9 2008L1485.1 2011L1482.5 2014L1479.9 2017L1477.5 2020L1475.2 2023L1473 2026L1471.1 2029L1469.4 2032L1467.8 2035L1466.5 2038L1465.4 2041L1464.6 2044L1464 2047L1463.6 2050L1463.5 2053L1463.6 2056L1464 2059L1464.7 2062L1465.6 2065L1466.7 2068L1468 2071L1469.6 2074L1471.4 2077L1473.3 2080L1475.5 2083L1477.8 2086L1480.3 2089L1482.8 2092L1485.5 2095L1488.3 2098L1491.2 2101L1494.1 2104L1497 2107L1500 2110L1502.9 2113L1505.8 2116L1508.6 2119L1511.4 2122L1514.1 2125L1516.6 2128L1519 2131L1521.3 2134L1523.4 2137L1525.3 2140L1527 2143L1528.5 2146L1529.7 2149L1530.8 2152L1531.6 2155L1532.1 2158L1532.4 2161L1532.5 2164L1532.3 2167L1531.9 2170L1531.2 2173L1530.2 2176L1529.1 2179L1527.7 2182L1526.1 2185L1524.2 2188L1522.2 2191L1520.1 2194L1517.7 2197L1515.2 2200L1512.6 2203L1509.9 2206L1507.1 2209L1504.2 2212L1501.3 2215L1498.4 2218L1495.4 2221L1492.5 2224L1489.6 2227L1486.8 2230L1484.1 2233L1481.4 2236L1478.9 2239L1476.5 2242L1474.3 2245L1472.2 2248L1470.4 2251L1468.7 2254L1467.3 2257L1466 2260L1465.1 2263L1464.3 2266L1463.8 2269L1463.5 2272L1463.5 2275L1463.8 2278L1464.3 2281L1465 2284L1466 2287L1467.2 2290L1468.6 2293L1470.3 2296L1472.1 2299L1474.2 2302L1476.4 2305L1478.8 2308L1481.3 2311L1483.9 2314L1486.6 2317L1489.5 2320L1492.3 2323L1495.3 2326L1498.2 2329L1501.2 2332L1504.1 2335L1506.9 2338L1509.8 2341L1512.5 2344L1515.1 2347L1517.6 2350L1519.9 2353L1522.1 2356L1524.1 2359L1526 2362L1527.6 2365L1529 2368L1530.2 2371L1531.1 2374L1531.8 2377L1532.3 2380L1532.5 2383L1532.4 2386L1532.1 2389L1531.6 2392L1530.8 2395L1529.8 2398L1528.5 2401L1527.1 2404L1525.4 2407L1523.5 2410L1521.4 2413L1519.1 2416L1516.7 2419L1514.2 2422L1511.6 2425L1508.8 2428L1506 2431L1503.1 2434L1500.1 2437L1497.2 2440L1494.3 2443L1491.4 2446L1488.5 2449L1485.7 2452L1483 2455L1480.4 2458L1477.9 2461L1475.6 2464L1473.5 2467L1471.5 2470L1469.7 2473L1468.1 2476L1466.8 2479L1465.6 2482L1464.7 2485L1464.1 2488L1463.7 2491L1463.5 2494L1463.6 2497L1463.9 2500L1464.5 2503L1465.4 2506L1466.4 2509L1467.7 2512L1469.3 2515L1471 2518L1472.9 2521" fill="none" stroke="#4f8f94" stroke-width="6.8" stroke-linecap="round"/>
<circle cx="1154.2" cy="1997" r="32.9" fill="#f7b52f"/>
<text x="1154.2" y="2004.9" font-size="22" text-anchor="middle">RB1</text>
<circle cx="1154.2" cy="2055.4" r="32.8" fill="#da9ec6"/>
<text x="1154.2" y="2063.3" font-size="22" text-anchor="middle">E2F</text>
<path d="M1202 2027.6H1242V2025.6L1251.6 2030.3L1242 2035V2033H1202Z" fill="#000"/>
<line x1="1250.8" y1="1994" x2="1316" y2="2065.8" stroke="#e3201b" stroke-width="11.5" stroke-linecap="round"/>
<line x1="1316" y1="1994" x2="1250.8" y2="2065.8" stroke="#e3201b" stroke-width="11.5" stroke-linecap="round"/>
<text x="1028.5" y="2254.8" font-size="23.2">Double strand breaks</text>
<text x="1028.5" y="2282.3" font-size="23.2">Replication stress</text>
<line x1="1141.7" y1="2304.6" x2="1210.7" y2="2366.8" stroke="#000" stroke-width="1.8"/>
<path d="M1221.1 2376.2L1204.9 2370.3L1212.2 2368.2L1213.6 2360.7Z" fill="#000"/>
<circle cx="1283.4" cy="2354.5" r="32.6" fill="#86cde0"/>
<text x="1283.4" y="2362.4" font-size="22" text-anchor="middle">ATR</text>
<circle cx="1283.4" cy="2420.2" r="32.8" fill="#85c57e"/>
<text x="1283.4" y="2428.1" font-size="22" text-anchor="middle">ATM</text>
<g transform="translate(1245.3 2342) rotate(-45)">
<path d="M0 -9.8H13.2A9.8 9.8 0 0 1 13.2 9.8H0Z" fill="#e31e1a"/>
<path d="M0 -9.8H-13.2A9.8 9.8 0 0 0 -13.2 9.8H0Z" fill="#fff"/>
<rect x="-23" y="-9.8" width="46" height="19.5" rx="9.8" fill="none" stroke="#000" stroke-width="2.6"/>
<line x1="0" y1="-9.8" x2="0" y2="9.8" stroke="#000" stroke-width="2.6"/>
</g>
<g transform="translate(1242.4 2407.8) rotate(-45)">
<path d="M0 -9.8H13.2A9.8 9.8 0 0 1 13.2 9.8H0Z" fill="#e31e1a"/>
<path d="M0 -9.8H-13.2A9.8 9.8 0 0 0 -13.2 9.8H0Z" fill="#fff"/>
<rect x="-23" y="-9.8" width="46" height="19.5" rx="9.8" fill="none" stroke="#000" stroke-width="2.6"/>
<line x1="0" y1="-9.8" x2="0" y2="9.8" stroke="#000" stroke-width="2.6"/>
</g>
<circle cx="1151" cy="2444" r="33" fill="#c6a2c8"/>
<text x="1151" y="2451.8" font-size="21.8" text-anchor="middle">MLH1</text>
<circle cx="1151" cy="2505.6" r="32.5" fill="#a58fc4"/>
<text x="1151" y="2513.4" font-size="21.8" text-anchor="middle">MSH3</text>
<line x1="1196" y1="2474.5" x2="1241.1" y2="2471.9" stroke="#000" stroke-width="1.8"/>
<path d="M1253.1 2471.2L1239.5 2478.5L1242.6 2471.8L1238.7 2465.5Z" fill="#000"/>
<text x="1386.5" y="1939.2" font-size="23.4">Cell cycle</text>
<path d="M1432.8 1967.6H1447.8V2036.5H1455.4L1440.3 2051.5L1425.2 2036.5H1432.8Z" fill="#aaaaaa" stroke="#000" stroke-width="1.6" stroke-linejoin="miter"/>
<path d="M1431.9 2096.2H1448.7V2166.3H1458.5L1440.3 2182.5L1422 2166.3H1431.9Z" fill="#aaaaaa" stroke="#000" stroke-width="2.4" stroke-linejoin="miter"/>
<path d="M1431.9 2225.5H1448.7V2294.6H1458.5L1440.3 2312.3L1422 2294.6H1431.9Z" fill="#aaaaaa" stroke="#000" stroke-width="2.4" stroke-linejoin="miter"/>
<path d="M1431.9 2354.8H1448.7V2423.9H1458.5L1440.3 2441.6L1422 2423.9H1431.9Z" fill="#aaaaaa" stroke="#000" stroke-width="2.4" stroke-linejoin="miter"/>
<text x="1438.7" y="2082.4" font-size="21" text-anchor="middle">G1</text>
<text x="1438.7" y="2207.6" font-size="21" text-anchor="middle">S</text>
<text x="1438.7" y="2336.3" font-size="21" text-anchor="middle">G2</text>
<text x="1440" y="2465" font-size="21" text-anchor="middle">M</text>
<circle cx="1537.8" cy="2138.9" r="33" fill="#d39bc2"/>
<text x="1537.8" y="2146.8" font-size="22" text-anchor="middle">E2F</text>
<circle cx="1623.9" cy="2199" r="32.7" fill="#edb035"/>
<text x="1623.9" y="2206.9" font-size="22" text-anchor="middle">RB1</text>
<circle cx="1660.5" cy="2221.2" r="14.9" fill="#e3001b"/>
<text x="1660.5" y="2226.5" font-size="22" text-anchor="middle">p</text>
<line x1="1651.7" y1="2362" x2="1649.7" y2="2259.3" stroke="#000" stroke-width="1.8"/>
<path d="M1649.5 2246.3L1657.8 2261.1L1649.7 2257.5L1641.8 2261.4Z" fill="#000"/>
<circle cx="1658.7" cy="2416.7" r="32.7" fill="#a895c6"/>
<g transform="translate(1631.3 2391.5) rotate(-45)">
<path d="M0 -9.8H13.2A9.8 9.8 0 0 1 13.2 9.8H0Z" fill="#e31e1a"/>
<path d="M0 -9.8H-13.2A9.8 9.8 0 0 0 -13.2 9.8H0Z" fill="#fff"/>
<rect x="-23" y="-9.8" width="46" height="19.5" rx="9.8" fill="none" stroke="#000" stroke-width="2.6"/>
<line x1="0" y1="-9.8" x2="0" y2="9.8" stroke="#000" stroke-width="2.6"/>
</g>
<text x="1656.9" y="2425.6" font-size="22.6" text-anchor="middle">CDK4/6</text>
</svg>
</body></html>
